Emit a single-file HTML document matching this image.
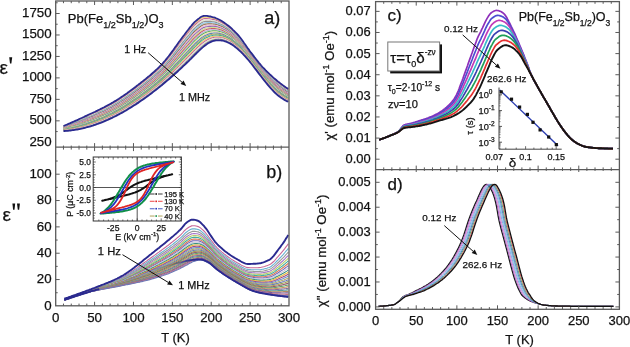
<!DOCTYPE html><html><head><meta charset="utf-8"><style>html,body{margin:0;padding:0;background:#fff;overflow:hidden}text{stroke:#111;stroke-width:0.25px}svg{display:block;will-change:transform;filter:blur(0.3px);font-family:"Liberation Sans",sans-serif}</style></head><body><svg width="630" height="347" viewBox="0 0 630 347" font-family="Liberation Sans, sans-serif"><rect width="630" height="347" fill="#fff"/><path d="M63.5 126.2L64.6 125.8L65.8 125.3L66.9 124.9L68.0 124.4L69.1 123.9L70.3 123.4L71.4 123.0L72.5 122.5L73.7 122.0L74.8 121.5L75.9 121.0L77.1 120.5L78.2 120.0L79.3 119.5L80.4 119.0L81.6 118.5L82.7 118.0L83.8 117.5L85.0 117.0L86.1 116.4L87.2 115.9L88.4 115.4L89.5 114.9L90.6 114.4L91.7 113.9L92.9 113.3L94.0 112.8L95.1 112.3L96.3 111.8L97.4 111.2L98.5 110.7L99.6 110.1L100.8 109.6L101.9 109.0L103.0 108.5L104.2 107.9L105.3 107.3L106.4 106.7L107.6 106.1L108.7 105.5L109.8 104.9L110.9 104.3L112.1 103.7L113.2 103.0L114.3 102.3L115.5 101.7L116.6 101.0L117.7 100.3L118.9 99.6L120.0 98.8L121.1 98.1L122.2 97.3L123.4 96.6L124.5 95.8L125.6 95.0L126.8 94.2L127.9 93.4L129.0 92.6L130.1 91.7L131.3 90.9L132.4 90.1L133.5 89.2L134.7 88.4L135.8 87.5L136.9 86.6L138.1 85.8L139.2 84.9L140.3 84.0L141.4 83.1L142.6 82.3L143.7 81.4L144.8 80.5L146.0 79.6L147.1 78.7L148.2 77.7L149.4 76.8L150.5 75.9L151.6 74.9L152.7 73.9L153.9 72.9L155.0 71.9L156.1 70.9L157.3 69.8L158.4 68.8L159.5 67.6L160.6 66.5L161.8 65.3L162.9 64.1L164.0 62.8L165.2 61.5L166.3 60.2L167.4 58.8L168.6 57.4L169.7 56.0L170.8 54.6L171.9 53.1L173.1 51.5L174.2 50.0L175.3 48.4L176.5 46.8L177.6 45.2L178.7 43.7L179.9 42.1L181.0 40.6L182.1 39.1L183.2 37.6L184.4 36.1L185.5 34.7L186.6 33.2L187.8 31.8L188.9 30.4L190.0 28.9L191.2 27.5L192.3 26.1L193.4 24.8L194.5 23.7L195.7 22.7L196.8 21.7L197.9 20.8L199.1 19.9L200.2 19.1L201.3 18.3L202.4 17.8L203.6 17.4L204.7 17.2L205.8 17.2L207.0 17.3L208.1 17.4L209.2 17.6L210.4 17.8L211.5 18.0L212.6 18.2L213.7 18.5L214.9 18.8L216.0 19.2L217.1 19.7L218.3 20.2L219.4 20.8L220.5 21.3L221.7 22.0L222.8 22.6L223.9 23.4L225.0 24.1L226.2 24.9L227.3 25.8L228.4 26.6L229.6 27.6L230.7 28.5L231.8 29.5L232.9 30.5L234.1 31.6L235.2 32.7L236.3 33.9L237.5 35.1L238.6 36.3L239.7 37.7L240.9 39.1L242.0 40.6L243.1 42.2L244.2 43.7L245.4 45.3L246.5 47.0L247.6 48.6L248.8 50.1L249.9 51.7L251.0 53.2L252.2 54.6L253.3 56.1L254.4 57.6L255.5 59.0L256.7 60.5L257.8 61.9L258.9 63.3L260.1 64.7L261.2 66.0L262.3 67.3L263.4 68.6L264.6 69.8L265.7 70.9L266.8 72.1L268.0 73.2L269.1 74.3L270.2 75.4L271.4 76.4L272.5 77.5L273.6 78.5L274.7 79.4L275.9 80.4L277.0 81.3L278.1 82.2L279.3 83.1L280.4 84.0L281.5 84.9L282.7 85.7L283.8 86.5L284.9 87.3L286.0 88.1L287.2 88.9L288.3 89.6" fill="none" stroke="#f0d070" stroke-width="1.15"/><path d="M63.5 126.5L64.6 126.0L65.8 125.6L66.9 125.2L68.0 124.7L69.1 124.3L70.3 123.8L71.4 123.3L72.5 122.9L73.7 122.4L74.8 121.9L75.9 121.5L77.1 121.0L78.2 120.5L79.3 120.0L80.4 119.5L81.6 119.0L82.7 118.5L83.8 118.0L85.0 117.5L86.1 117.0L87.2 116.5L88.4 116.0L89.5 115.5L90.6 115.0L91.7 114.5L92.9 113.9L94.0 113.4L95.1 112.9L96.3 112.4L97.4 111.9L98.5 111.3L99.6 110.8L100.8 110.2L101.9 109.7L103.0 109.1L104.2 108.6L105.3 108.0L106.4 107.4L107.6 106.8L108.7 106.2L109.8 105.6L110.9 105.0L112.1 104.4L113.2 103.7L114.3 103.1L115.5 102.4L116.6 101.7L117.7 101.0L118.9 100.3L120.0 99.6L121.1 98.8L122.2 98.1L123.4 97.3L124.5 96.6L125.6 95.8L126.8 95.0L127.9 94.2L129.0 93.4L130.1 92.5L131.3 91.7L132.4 90.9L133.5 90.0L134.7 89.2L135.8 88.3L136.9 87.5L138.1 86.6L139.2 85.8L140.3 84.9L141.4 84.0L142.6 83.1L143.7 82.3L144.8 81.4L146.0 80.5L147.1 79.6L148.2 78.6L149.4 77.7L150.5 76.8L151.6 75.8L152.7 74.8L153.9 73.9L155.0 72.9L156.1 71.8L157.3 70.8L158.4 69.7L159.5 68.6L160.6 67.5L161.8 66.3L162.9 65.1L164.0 63.9L165.2 62.6L166.3 61.3L167.4 59.9L168.6 58.5L169.7 57.1L170.8 55.7L171.9 54.3L173.1 52.7L174.2 51.2L175.3 49.6L176.5 48.1L177.6 46.5L178.7 45.0L179.9 43.5L181.0 42.0L182.1 40.5L183.2 39.0L184.4 37.6L185.5 36.1L186.6 34.7L187.8 33.3L188.9 31.9L190.0 30.5L191.2 29.1L192.3 27.7L193.4 26.4L194.5 25.2L195.7 24.2L196.8 23.3L197.9 22.4L199.1 21.4L200.2 20.6L201.3 19.9L202.4 19.3L203.6 18.8L204.7 18.6L205.8 18.6L207.0 18.6L208.1 18.7L209.2 18.8L210.4 19.0L211.5 19.2L212.6 19.4L213.7 19.6L214.9 19.9L216.0 20.3L217.1 20.7L218.3 21.2L219.4 21.7L220.5 22.3L221.7 22.9L222.8 23.5L223.9 24.2L225.0 25.0L226.2 25.8L227.3 26.6L228.4 27.4L229.6 28.3L230.7 29.3L231.8 30.3L232.9 31.3L234.1 32.3L235.2 33.4L236.3 34.6L237.5 35.8L238.6 37.0L239.7 38.3L240.9 39.8L242.0 41.2L243.1 42.8L244.2 44.3L245.4 45.9L246.5 47.5L247.6 49.1L248.8 50.7L249.9 52.2L251.0 53.7L252.2 55.1L253.3 56.6L254.4 58.1L255.5 59.5L256.7 61.0L257.8 62.4L258.9 63.8L260.1 65.2L261.2 66.5L262.3 67.8L263.4 69.1L264.6 70.3L265.7 71.5L266.8 72.7L268.0 73.8L269.1 74.9L270.2 76.0L271.4 77.1L272.5 78.1L273.6 79.1L274.7 80.1L275.9 81.1L277.0 82.0L278.1 82.9L279.3 83.8L280.4 84.7L281.5 85.5L282.7 86.4L283.8 87.2L284.9 88.0L286.0 88.8L287.2 89.5L288.3 90.2" fill="none" stroke="#c86898" stroke-width="1.15"/><path d="M63.5 126.7L64.6 126.3L65.8 125.9L66.9 125.5L68.0 125.0L69.1 124.6L70.3 124.2L71.4 123.7L72.5 123.3L73.7 122.8L74.8 122.4L75.9 121.9L77.1 121.4L78.2 121.0L79.3 120.5L80.4 120.0L81.6 119.5L82.7 119.0L83.8 118.5L85.0 118.1L86.1 117.6L87.2 117.1L88.4 116.6L89.5 116.1L90.6 115.6L91.7 115.1L92.9 114.6L94.0 114.0L95.1 113.5L96.3 113.0L97.4 112.5L98.5 112.0L99.6 111.4L100.8 110.9L101.9 110.4L103.0 109.8L104.2 109.2L105.3 108.7L106.4 108.1L107.6 107.5L108.7 106.9L109.8 106.3L110.9 105.7L112.1 105.1L113.2 104.4L114.3 103.8L115.5 103.1L116.6 102.4L117.7 101.7L118.9 101.0L120.0 100.3L121.1 99.6L122.2 98.8L123.4 98.1L124.5 97.3L125.6 96.6L126.8 95.8L127.9 95.0L129.0 94.2L130.1 93.4L131.3 92.5L132.4 91.7L133.5 90.9L134.7 90.0L135.8 89.2L136.9 88.3L138.1 87.5L139.2 86.6L140.3 85.8L141.4 84.9L142.6 84.0L143.7 83.1L144.8 82.2L146.0 81.4L147.1 80.5L148.2 79.5L149.4 78.6L150.5 77.7L151.6 76.7L152.7 75.8L153.9 74.8L155.0 73.8L156.1 72.8L157.3 71.7L158.4 70.7L159.5 69.6L160.6 68.5L161.8 67.3L162.9 66.1L164.0 64.9L165.2 63.6L166.3 62.3L167.4 61.0L168.6 59.6L169.7 58.3L170.8 56.9L171.9 55.4L173.1 53.9L174.2 52.4L175.3 50.9L176.5 49.3L177.6 47.8L178.7 46.3L179.9 44.9L181.0 43.4L182.1 41.9L183.2 40.5L184.4 39.0L185.5 37.6L186.6 36.2L187.8 34.8L188.9 33.4L190.0 32.0L191.2 30.6L192.3 29.3L193.4 28.0L194.5 26.8L195.7 25.8L196.8 24.9L197.9 23.9L199.1 23.0L200.2 22.1L201.3 21.4L202.4 20.7L203.6 20.3L204.7 20.1L205.8 20.0L207.0 20.0L208.1 20.0L209.2 20.1L210.4 20.2L211.5 20.3L212.6 20.5L213.7 20.7L214.9 21.0L216.0 21.3L217.1 21.7L218.3 22.2L219.4 22.7L220.5 23.2L221.7 23.8L222.8 24.4L223.9 25.1L225.0 25.8L226.2 26.6L227.3 27.4L228.4 28.2L229.6 29.1L230.7 30.0L231.8 31.0L232.9 32.0L234.1 33.1L235.2 34.2L236.3 35.3L237.5 36.5L238.6 37.7L239.7 39.0L240.9 40.4L242.0 41.9L243.1 43.4L244.2 44.9L245.4 46.5L246.5 48.1L247.6 49.6L248.8 51.2L249.9 52.7L251.0 54.2L252.2 55.6L253.3 57.1L254.4 58.6L255.5 60.0L256.7 61.5L257.8 62.9L258.9 64.3L260.1 65.7L261.2 67.1L262.3 68.4L263.4 69.7L264.6 70.9L265.7 72.1L266.8 73.3L268.0 74.4L269.1 75.5L270.2 76.6L271.4 77.7L272.5 78.7L273.6 79.7L274.7 80.7L275.9 81.7L277.0 82.7L278.1 83.6L279.3 84.5L280.4 85.4L281.5 86.2L282.7 87.0L283.8 87.8L284.9 88.6L286.0 89.4L287.2 90.1L288.3 90.8" fill="none" stroke="#e0e4d0" stroke-width="1.15"/><path d="M63.5 127.0L64.6 126.6L65.8 126.2L66.9 125.8L68.0 125.3L69.1 124.9L70.3 124.5L71.4 124.1L72.5 123.6L73.7 123.2L74.8 122.8L75.9 122.3L77.1 121.9L78.2 121.4L79.3 121.0L80.4 120.5L81.6 120.0L82.7 119.6L83.8 119.1L85.0 118.6L86.1 118.1L87.2 117.6L88.4 117.1L89.5 116.7L90.6 116.2L91.7 115.7L92.9 115.2L94.0 114.7L95.1 114.2L96.3 113.7L97.4 113.1L98.5 112.6L99.6 112.1L100.8 111.6L101.9 111.0L103.0 110.5L104.2 109.9L105.3 109.4L106.4 108.8L107.6 108.2L108.7 107.6L109.8 107.0L110.9 106.4L112.1 105.8L113.2 105.2L114.3 104.5L115.5 103.8L116.6 103.2L117.7 102.5L118.9 101.8L120.0 101.1L121.1 100.3L122.2 99.6L123.4 98.9L124.5 98.1L125.6 97.3L126.8 96.6L127.9 95.8L129.0 95.0L130.1 94.2L131.3 93.4L132.4 92.5L133.5 91.7L134.7 90.9L135.8 90.0L136.9 89.2L138.1 88.3L139.2 87.5L140.3 86.6L141.4 85.8L142.6 84.9L143.7 84.0L144.8 83.1L146.0 82.2L147.1 81.3L148.2 80.4L149.4 79.5L150.5 78.6L151.6 77.6L152.7 76.7L153.9 75.7L155.0 74.7L156.1 73.7L157.3 72.7L158.4 71.6L159.5 70.6L160.6 69.5L161.8 68.3L162.9 67.1L164.0 65.9L165.2 64.7L166.3 63.4L167.4 62.1L168.6 60.7L169.7 59.4L170.8 58.0L171.9 56.6L173.1 55.1L174.2 53.6L175.3 52.1L176.5 50.6L177.6 49.1L178.7 47.7L179.9 46.2L181.0 44.8L182.1 43.3L183.2 41.9L184.4 40.5L185.5 39.1L186.6 37.7L187.8 36.3L188.9 35.0L190.0 33.6L191.2 32.2L192.3 30.8L193.4 29.6L194.5 28.4L195.7 27.4L196.8 26.4L197.9 25.5L199.1 24.5L200.2 23.7L201.3 22.9L202.4 22.2L203.6 21.8L204.7 21.5L205.8 21.4L207.0 21.3L208.1 21.3L209.2 21.3L210.4 21.4L211.5 21.5L212.6 21.7L213.7 21.8L214.9 22.1L216.0 22.4L217.1 22.8L218.3 23.2L219.4 23.7L220.5 24.2L221.7 24.7L222.8 25.3L223.9 26.0L225.0 26.7L226.2 27.5L227.3 28.2L228.4 29.1L229.6 29.9L230.7 30.8L231.8 31.8L232.9 32.8L234.1 33.8L235.2 34.9L236.3 36.0L237.5 37.2L238.6 38.4L239.7 39.7L240.9 41.0L242.0 42.5L243.1 44.0L244.2 45.5L245.4 47.0L246.5 48.6L247.6 50.2L248.8 51.7L249.9 53.2L251.0 54.7L252.2 56.1L253.3 57.6L254.4 59.1L255.5 60.5L256.7 62.0L257.8 63.4L258.9 64.8L260.1 66.2L261.2 67.6L262.3 68.9L263.4 70.2L264.6 71.4L265.7 72.7L266.8 73.8L268.0 75.0L269.1 76.1L270.2 77.2L271.4 78.3L272.5 79.4L273.6 80.4L274.7 81.4L275.9 82.4L277.0 83.3L278.1 84.2L279.3 85.1L280.4 86.0L281.5 86.9L282.7 87.7L283.8 88.5L284.9 89.3L286.0 90.0L287.2 90.7L288.3 91.4" fill="none" stroke="#909090" stroke-width="1.15"/><path d="M63.5 127.2L64.6 126.8L65.8 126.4L66.9 126.1L68.0 125.7L69.1 125.3L70.3 124.9L71.4 124.4L72.5 124.0L73.7 123.6L74.8 123.2L75.9 122.8L77.1 122.3L78.2 121.9L79.3 121.4L80.4 121.0L81.6 120.5L82.7 120.1L83.8 119.6L85.0 119.1L86.1 118.7L87.2 118.2L88.4 117.7L89.5 117.2L90.6 116.8L91.7 116.3L92.9 115.8L94.0 115.3L95.1 114.8L96.3 114.3L97.4 113.8L98.5 113.3L99.6 112.7L100.8 112.2L101.9 111.7L103.0 111.1L104.2 110.6L105.3 110.0L106.4 109.5L107.6 108.9L108.7 108.3L109.8 107.7L110.9 107.1L112.1 106.5L113.2 105.9L114.3 105.2L115.5 104.6L116.6 103.9L117.7 103.2L118.9 102.5L120.0 101.8L121.1 101.1L122.2 100.4L123.4 99.6L124.5 98.9L125.6 98.1L126.8 97.3L127.9 96.6L129.0 95.8L130.1 95.0L131.3 94.2L132.4 93.4L133.5 92.5L134.7 91.7L135.8 90.9L136.9 90.0L138.1 89.2L139.2 88.3L140.3 87.5L141.4 86.6L142.6 85.8L143.7 84.9L144.8 84.0L146.0 83.1L147.1 82.2L148.2 81.3L149.4 80.4L150.5 79.5L151.6 78.6L152.7 77.6L153.9 76.6L155.0 75.7L156.1 74.6L157.3 73.6L158.4 72.6L159.5 71.5L160.6 70.4L161.8 69.3L162.9 68.1L164.0 66.9L165.2 65.7L166.3 64.4L167.4 63.1L168.6 61.8L169.7 60.5L170.8 59.2L171.9 57.8L173.1 56.3L174.2 54.9L175.3 53.4L176.5 51.9L177.6 50.5L178.7 49.0L179.9 47.6L181.0 46.2L182.1 44.7L183.2 43.3L184.4 41.9L185.5 40.5L186.6 39.2L187.8 37.8L188.9 36.5L190.0 35.1L191.2 33.7L192.3 32.4L193.4 31.1L194.5 30.0L195.7 28.9L196.8 28.0L197.9 27.0L199.1 26.1L200.2 25.2L201.3 24.4L202.4 23.7L203.6 23.2L204.7 22.9L205.8 22.8L207.0 22.6L208.1 22.6L209.2 22.6L210.4 22.6L211.5 22.7L212.6 22.8L213.7 22.9L214.9 23.2L216.0 23.5L217.1 23.8L218.3 24.2L219.4 24.7L220.5 25.1L221.7 25.7L222.8 26.2L223.9 26.9L225.0 27.6L226.2 28.3L227.3 29.1L228.4 29.9L229.6 30.7L230.7 31.6L231.8 32.5L232.9 33.5L234.1 34.5L235.2 35.6L236.3 36.7L237.5 37.8L238.6 39.0L239.7 40.3L240.9 41.7L242.0 43.1L243.1 44.6L244.2 46.1L245.4 47.6L246.5 49.1L247.6 50.7L248.8 52.2L249.9 53.7L251.0 55.2L252.2 56.6L253.3 58.1L254.4 59.6L255.5 61.0L256.7 62.5L257.8 63.9L258.9 65.3L260.1 66.7L261.2 68.1L262.3 69.4L263.4 70.7L264.6 72.0L265.7 73.2L266.8 74.4L268.0 75.6L269.1 76.7L270.2 77.9L271.4 78.9L272.5 80.0L273.6 81.0L274.7 82.0L275.9 83.0L277.0 84.0L278.1 84.9L279.3 85.8L280.4 86.7L281.5 87.5L282.7 88.3L283.8 89.1L284.9 89.9L286.0 90.6L287.2 91.4L288.3 92.1" fill="none" stroke="#90c8e8" stroke-width="1.15"/><path d="M63.5 127.4L64.6 127.1L65.8 126.7L66.9 126.4L68.0 126.0L69.1 125.6L70.3 125.2L71.4 124.8L72.5 124.4L73.7 124.0L74.8 123.6L75.9 123.2L77.1 122.8L78.2 122.4L79.3 121.9L80.4 121.5L81.6 121.0L82.7 120.6L83.8 120.1L85.0 119.7L86.1 119.2L87.2 118.8L88.4 118.3L89.5 117.8L90.6 117.4L91.7 116.9L92.9 116.4L94.0 115.9L95.1 115.4L96.3 114.9L97.4 114.4L98.5 113.9L99.6 113.4L100.8 112.9L101.9 112.4L103.0 111.8L104.2 111.3L105.3 110.7L106.4 110.2L107.6 109.6L108.7 109.0L109.8 108.4L110.9 107.8L112.1 107.2L113.2 106.6L114.3 105.9L115.5 105.3L116.6 104.6L117.7 104.0L118.9 103.3L120.0 102.6L121.1 101.9L122.2 101.1L123.4 100.4L124.5 99.7L125.6 98.9L126.8 98.1L127.9 97.4L129.0 96.6L130.1 95.8L131.3 95.0L132.4 94.2L133.5 93.4L134.7 92.5L135.8 91.7L136.9 90.9L138.1 90.0L139.2 89.2L140.3 88.3L141.4 87.5L142.6 86.6L143.7 85.8L144.8 84.9L146.0 84.0L147.1 83.1L148.2 82.2L149.4 81.3L150.5 80.4L151.6 79.5L152.7 78.5L153.9 77.6L155.0 76.6L156.1 75.6L157.3 74.6L158.4 73.5L159.5 72.5L160.6 71.4L161.8 70.3L162.9 69.1L164.0 68.0L165.2 66.7L166.3 65.5L167.4 64.2L168.6 62.9L169.7 61.6L170.8 60.3L171.9 58.9L173.1 57.5L174.2 56.1L175.3 54.7L176.5 53.2L177.6 51.8L178.7 50.4L179.9 49.0L181.0 47.6L182.1 46.2L183.2 44.8L184.4 43.4L185.5 42.0L186.6 40.7L187.8 39.3L188.9 38.0L190.0 36.6L191.2 35.3L192.3 34.0L193.4 32.7L194.5 31.5L195.7 30.5L196.8 29.5L197.9 28.6L199.1 27.6L200.2 26.7L201.3 25.9L202.4 25.2L203.6 24.7L204.7 24.3L205.8 24.1L207.0 24.0L208.1 23.9L209.2 23.8L210.4 23.8L211.5 23.9L212.6 24.0L213.7 24.1L214.9 24.3L216.0 24.5L217.1 24.8L218.3 25.2L219.4 25.6L220.5 26.1L221.7 26.6L222.8 27.1L223.9 27.8L225.0 28.4L226.2 29.1L227.3 29.9L228.4 30.7L229.6 31.5L230.7 32.4L231.8 33.3L232.9 34.2L234.1 35.2L235.2 36.3L236.3 37.4L237.5 38.5L238.6 39.7L239.7 41.0L240.9 42.3L242.0 43.7L243.1 45.2L244.2 46.6L245.4 48.2L246.5 49.7L247.6 51.2L248.8 52.7L249.9 54.2L251.0 55.7L252.2 57.2L253.3 58.6L254.4 60.1L255.5 61.5L256.7 63.0L257.8 64.4L258.9 65.9L260.1 67.3L261.2 68.6L262.3 70.0L263.4 71.3L264.6 72.6L265.7 73.8L266.8 75.0L268.0 76.2L269.1 77.3L270.2 78.5L271.4 79.6L272.5 80.6L273.6 81.7L274.7 82.7L275.9 83.7L277.0 84.6L278.1 85.6L279.3 86.5L280.4 87.3L281.5 88.2L282.7 89.0L283.8 89.8L284.9 90.5L286.0 91.3L287.2 92.0L288.3 92.7" fill="none" stroke="#907050" stroke-width="1.15"/><path d="M63.5 127.7L64.6 127.4L65.8 127.0L66.9 126.7L68.0 126.3L69.1 125.9L70.3 125.6L71.4 125.2L72.5 124.8L73.7 124.4L74.8 124.0L75.9 123.6L77.1 123.2L78.2 122.8L79.3 122.4L80.4 122.0L81.6 121.5L82.7 121.1L83.8 120.7L85.0 120.2L86.1 119.8L87.2 119.3L88.4 118.9L89.5 118.4L90.6 117.9L91.7 117.5L92.9 117.0L94.0 116.5L95.1 116.0L96.3 115.6L97.4 115.1L98.5 114.6L99.6 114.1L100.8 113.5L101.9 113.0L103.0 112.5L104.2 111.9L105.3 111.4L106.4 110.8L107.6 110.3L108.7 109.7L109.8 109.1L110.9 108.5L112.1 107.9L113.2 107.3L114.3 106.7L115.5 106.0L116.6 105.4L117.7 104.7L118.9 104.0L120.0 103.3L121.1 102.6L122.2 101.9L123.4 101.2L124.5 100.4L125.6 99.7L126.8 98.9L127.9 98.2L129.0 97.4L130.1 96.6L131.3 95.8L132.4 95.0L133.5 94.2L134.7 93.4L135.8 92.6L136.9 91.7L138.1 90.9L139.2 90.1L140.3 89.2L141.4 88.4L142.6 87.5L143.7 86.7L144.8 85.8L146.0 84.9L147.1 84.0L148.2 83.1L149.4 82.2L150.5 81.3L151.6 80.4L152.7 79.4L153.9 78.5L155.0 77.5L156.1 76.5L157.3 75.5L158.4 74.5L159.5 73.5L160.6 72.4L161.8 71.3L162.9 70.1L164.0 69.0L165.2 67.8L166.3 66.6L167.4 65.3L168.6 64.0L169.7 62.8L170.8 61.5L171.9 60.1L173.1 58.7L174.2 57.3L175.3 55.9L176.5 54.5L177.6 53.1L178.7 51.7L179.9 50.3L181.0 48.9L182.1 47.6L183.2 46.2L184.4 44.8L185.5 43.5L186.6 42.2L187.8 40.8L188.9 39.5L190.0 38.2L191.2 36.8L192.3 35.5L193.4 34.3L194.5 33.1L195.7 32.1L196.8 31.1L197.9 30.1L199.1 29.1L200.2 28.2L201.3 27.4L202.4 26.7L203.6 26.1L204.7 25.8L205.8 25.5L207.0 25.3L208.1 25.2L209.2 25.1L210.4 25.1L211.5 25.1L212.6 25.1L213.7 25.2L214.9 25.3L216.0 25.6L217.1 25.9L218.3 26.2L219.4 26.6L220.5 27.0L221.7 27.5L222.8 28.1L223.9 28.6L225.0 29.3L226.2 30.0L227.3 30.7L228.4 31.5L229.6 32.3L230.7 33.1L231.8 34.0L232.9 35.0L234.1 36.0L235.2 37.0L236.3 38.1L237.5 39.2L238.6 40.4L239.7 41.6L240.9 42.9L242.0 44.3L243.1 45.8L244.2 47.2L245.4 48.7L246.5 50.2L247.6 51.8L248.8 53.3L249.9 54.8L251.0 56.2L252.2 57.7L253.3 59.1L254.4 60.6L255.5 62.0L256.7 63.5L257.8 64.9L258.9 66.4L260.1 67.8L261.2 69.2L262.3 70.5L263.4 71.8L264.6 73.1L265.7 74.4L266.8 75.6L268.0 76.8L269.1 77.9L270.2 79.1L271.4 80.2L272.5 81.3L273.6 82.3L274.7 83.4L275.9 84.3L277.0 85.3L278.1 86.2L279.3 87.1L280.4 88.0L281.5 88.8L282.7 89.7L283.8 90.4L284.9 91.2L286.0 91.9L287.2 92.6L288.3 93.3" fill="none" stroke="#f0b8d0" stroke-width="1.15"/><path d="M63.5 127.9L64.6 127.6L65.8 127.3L66.9 127.0L68.0 126.6L69.1 126.3L70.3 125.9L71.4 125.6L72.5 125.2L73.7 124.8L74.8 124.5L75.9 124.1L77.1 123.7L78.2 123.3L79.3 122.9L80.4 122.5L81.6 122.1L82.7 121.6L83.8 121.2L85.0 120.8L86.1 120.3L87.2 119.9L88.4 119.4L89.5 119.0L90.6 118.5L91.7 118.1L92.9 117.6L94.0 117.1L95.1 116.7L96.3 116.2L97.4 115.7L98.5 115.2L99.6 114.7L100.8 114.2L101.9 113.7L103.0 113.2L104.2 112.6L105.3 112.1L106.4 111.5L107.6 111.0L108.7 110.4L109.8 109.8L110.9 109.2L112.1 108.6L113.2 108.0L114.3 107.4L115.5 106.8L116.6 106.1L117.7 105.4L118.9 104.8L120.0 104.1L121.1 103.4L122.2 102.7L123.4 101.9L124.5 101.2L125.6 100.5L126.8 99.7L127.9 99.0L129.0 98.2L130.1 97.4L131.3 96.6L132.4 95.8L133.5 95.0L134.7 94.2L135.8 93.4L136.9 92.6L138.1 91.8L139.2 90.9L140.3 90.1L141.4 89.2L142.6 88.4L143.7 87.5L144.8 86.7L146.0 85.8L147.1 84.9L148.2 84.0L149.4 83.1L150.5 82.2L151.6 81.3L152.7 80.4L153.9 79.4L155.0 78.4L156.1 77.5L157.3 76.5L158.4 75.5L159.5 74.4L160.6 73.4L161.8 72.3L162.9 71.2L164.0 70.0L165.2 68.8L166.3 67.6L167.4 66.4L168.6 65.1L169.7 63.9L170.8 62.6L171.9 61.3L173.1 59.9L174.2 58.6L175.3 57.2L176.5 55.8L177.6 54.4L178.7 53.0L179.9 51.7L181.0 50.3L182.1 49.0L183.2 47.6L184.4 46.3L185.5 45.0L186.6 43.6L187.8 42.3L188.9 41.0L190.0 39.7L191.2 38.4L192.3 37.1L193.4 35.9L194.5 34.7L195.7 33.6L196.8 32.6L197.9 31.7L199.1 30.7L200.2 29.8L201.3 28.9L202.4 28.2L203.6 27.6L204.7 27.2L205.8 26.9L207.0 26.7L208.1 26.5L209.2 26.4L210.4 26.3L211.5 26.3L212.6 26.3L213.7 26.3L214.9 26.4L216.0 26.6L217.1 26.9L218.3 27.2L219.4 27.6L220.5 28.0L221.7 28.4L222.8 29.0L223.9 29.5L225.0 30.1L226.2 30.8L227.3 31.5L228.4 32.3L229.6 33.1L230.7 33.9L231.8 34.8L232.9 35.7L234.1 36.7L235.2 37.7L236.3 38.8L237.5 39.9L238.6 41.1L239.7 42.3L240.9 43.6L242.0 45.0L243.1 46.4L244.2 47.8L245.4 49.3L246.5 50.8L247.6 52.3L248.8 53.8L249.9 55.3L251.0 56.7L252.2 58.2L253.3 59.6L254.4 61.1L255.5 62.6L256.7 64.0L257.8 65.5L258.9 66.9L260.1 68.3L261.2 69.7L262.3 71.1L263.4 72.4L264.6 73.7L265.7 74.9L266.8 76.2L268.0 77.4L269.1 78.6L270.2 79.7L271.4 80.8L272.5 81.9L273.6 83.0L274.7 84.0L275.9 85.0L277.0 86.0L278.1 86.9L279.3 87.8L280.4 88.7L281.5 89.5L282.7 90.3L283.8 91.1L284.9 91.8L286.0 92.5L287.2 93.2L288.3 93.9" fill="none" stroke="#9068b8" stroke-width="1.15"/><path d="M63.5 128.2L64.6 127.9L65.8 127.6L66.9 127.3L68.0 126.9L69.1 126.6L70.3 126.3L71.4 125.9L72.5 125.6L73.7 125.2L74.8 124.9L75.9 124.5L77.1 124.1L78.2 123.7L79.3 123.4L80.4 123.0L81.6 122.6L82.7 122.2L83.8 121.7L85.0 121.3L86.1 120.9L87.2 120.5L88.4 120.0L89.5 119.6L90.6 119.1L91.7 118.7L92.9 118.2L94.0 117.8L95.1 117.3L96.3 116.8L97.4 116.3L98.5 115.9L99.6 115.4L100.8 114.9L101.9 114.3L103.0 113.8L104.2 113.3L105.3 112.8L106.4 112.2L107.6 111.7L108.7 111.1L109.8 110.5L110.9 109.9L112.1 109.3L113.2 108.7L114.3 108.1L115.5 107.5L116.6 106.8L117.7 106.2L118.9 105.5L120.0 104.8L121.1 104.1L122.2 103.4L123.4 102.7L124.5 102.0L125.6 101.3L126.8 100.5L127.9 99.8L129.0 99.0L130.1 98.2L131.3 97.4L132.4 96.7L133.5 95.9L134.7 95.1L135.8 94.2L136.9 93.4L138.1 92.6L139.2 91.8L140.3 90.9L141.4 90.1L142.6 89.3L143.7 88.4L144.8 87.6L146.0 86.7L147.1 85.8L148.2 84.9L149.4 84.0L150.5 83.1L151.6 82.2L152.7 81.3L153.9 80.3L155.0 79.4L156.1 78.4L157.3 77.4L158.4 76.4L159.5 75.4L160.6 74.3L161.8 73.3L162.9 72.2L164.0 71.0L165.2 69.9L166.3 68.7L167.4 67.5L168.6 66.2L169.7 65.0L170.8 63.8L171.9 62.5L173.1 61.1L174.2 59.8L175.3 58.4L176.5 57.1L177.6 55.7L178.7 54.4L179.9 53.0L181.0 51.7L182.1 50.4L183.2 49.1L184.4 47.7L185.5 46.4L186.6 45.1L187.8 43.8L188.9 42.6L190.0 41.2L191.2 39.9L192.3 38.7L193.4 37.4L194.5 36.3L195.7 35.2L196.8 34.2L197.9 33.2L199.1 32.2L200.2 31.3L201.3 30.4L202.4 29.7L203.6 29.1L204.7 28.6L205.8 28.3L207.0 28.0L208.1 27.8L209.2 27.6L210.4 27.5L211.5 27.4L212.6 27.4L213.7 27.4L214.9 27.5L216.0 27.7L217.1 27.9L218.3 28.2L219.4 28.6L220.5 28.9L221.7 29.4L222.8 29.9L223.9 30.4L225.0 31.0L226.2 31.7L227.3 32.3L228.4 33.1L229.6 33.8L230.7 34.7L231.8 35.5L232.9 36.5L234.1 37.4L235.2 38.4L236.3 39.5L237.5 40.6L238.6 41.7L239.7 42.9L240.9 44.2L242.0 45.6L243.1 47.0L244.2 48.4L245.4 49.9L246.5 51.3L247.6 52.8L248.8 54.3L249.9 55.8L251.0 57.2L252.2 58.7L253.3 60.1L254.4 61.6L255.5 63.1L256.7 64.5L257.8 66.0L258.9 67.4L260.1 68.8L261.2 70.2L262.3 71.6L263.4 72.9L264.6 74.2L265.7 75.5L266.8 76.7L268.0 78.0L269.1 79.2L270.2 80.3L271.4 81.5L272.5 82.6L273.6 83.6L274.7 84.7L275.9 85.7L277.0 86.6L278.1 87.6L279.3 88.5L280.4 89.3L281.5 90.2L282.7 91.0L283.8 91.7L284.9 92.5L286.0 93.2L287.2 93.9L288.3 94.5" fill="none" stroke="#d0e098" stroke-width="1.15"/><path d="M63.5 128.4L64.6 128.1L65.8 127.9L66.9 127.6L68.0 127.3L69.1 126.9L70.3 126.6L71.4 126.3L72.5 126.0L73.7 125.6L74.8 125.3L75.9 124.9L77.1 124.6L78.2 124.2L79.3 123.8L80.4 123.5L81.6 123.1L82.7 122.7L83.8 122.3L85.0 121.9L86.1 121.4L87.2 121.0L88.4 120.6L89.5 120.2L90.6 119.7L91.7 119.3L92.9 118.8L94.0 118.4L95.1 117.9L96.3 117.5L97.4 117.0L98.5 116.5L99.6 116.0L100.8 115.5L101.9 115.0L103.0 114.5L104.2 114.0L105.3 113.4L106.4 112.9L107.6 112.4L108.7 111.8L109.8 111.2L110.9 110.6L112.1 110.0L113.2 109.4L114.3 108.8L115.5 108.2L116.6 107.6L117.7 106.9L118.9 106.3L120.0 105.6L121.1 104.9L122.2 104.2L123.4 103.5L124.5 102.8L125.6 102.0L126.8 101.3L127.9 100.6L129.0 99.8L130.1 99.0L131.3 98.3L132.4 97.5L133.5 96.7L134.7 95.9L135.8 95.1L136.9 94.3L138.1 93.5L139.2 92.6L140.3 91.8L141.4 91.0L142.6 90.1L143.7 89.3L144.8 88.4L146.0 87.6L147.1 86.7L148.2 85.8L149.4 84.9L150.5 84.0L151.6 83.1L152.7 82.2L153.9 81.3L155.0 80.3L156.1 79.3L157.3 78.4L158.4 77.4L159.5 76.4L160.6 75.3L161.8 74.3L162.9 73.2L164.0 72.0L165.2 70.9L166.3 69.7L167.4 68.6L168.6 67.3L169.7 66.1L170.8 64.9L171.9 63.6L173.1 62.3L174.2 61.0L175.3 59.7L176.5 58.3L177.6 57.0L178.7 55.7L179.9 54.4L181.0 53.1L182.1 51.8L183.2 50.5L184.4 49.2L185.5 47.9L186.6 46.6L187.8 45.4L188.9 44.1L190.0 42.8L191.2 41.5L192.3 40.2L193.4 39.0L194.5 37.8L195.7 36.8L196.8 35.8L197.9 34.7L199.1 33.8L200.2 32.8L201.3 31.9L202.4 31.2L203.6 30.5L204.7 30.0L205.8 29.7L207.0 29.3L208.1 29.1L209.2 28.9L210.4 28.7L211.5 28.6L212.6 28.6L213.7 28.6L214.9 28.6L216.0 28.8L217.1 29.0L218.3 29.2L219.4 29.5L220.5 29.9L221.7 30.3L222.8 30.8L223.9 31.3L225.0 31.9L226.2 32.5L227.3 33.2L228.4 33.9L229.6 34.6L230.7 35.4L231.8 36.3L232.9 37.2L234.1 38.1L235.2 39.1L236.3 40.2L237.5 41.3L238.6 42.4L239.7 43.6L240.9 44.9L242.0 46.2L243.1 47.6L244.2 49.0L245.4 50.4L246.5 51.9L247.6 53.3L248.8 54.8L249.9 56.3L251.0 57.7L252.2 59.2L253.3 60.6L254.4 62.1L255.5 63.6L256.7 65.0L257.8 66.5L258.9 67.9L260.1 69.3L261.2 70.8L262.3 72.1L263.4 73.5L264.6 74.8L265.7 76.1L266.8 77.3L268.0 78.6L269.1 79.8L270.2 80.9L271.4 82.1L272.5 83.2L273.6 84.3L274.7 85.3L275.9 86.3L277.0 87.3L278.1 88.2L279.3 89.1L280.4 90.0L281.5 90.8L282.7 91.6L283.8 92.4L284.9 93.1L286.0 93.8L287.2 94.5L288.3 95.1" fill="none" stroke="#c86060" stroke-width="1.15"/><path d="M63.5 128.7L64.6 128.4L65.8 128.1L66.9 127.9L68.0 127.6L69.1 127.3L70.3 127.0L71.4 126.7L72.5 126.4L73.7 126.0L74.8 125.7L75.9 125.4L77.1 125.0L78.2 124.7L79.3 124.3L80.4 123.9L81.6 123.6L82.7 123.2L83.8 122.8L85.0 122.4L86.1 122.0L87.2 121.6L88.4 121.2L89.5 120.8L90.6 120.3L91.7 119.9L92.9 119.5L94.0 119.0L95.1 118.6L96.3 118.1L97.4 117.6L98.5 117.2L99.6 116.7L100.8 116.2L101.9 115.7L103.0 115.2L104.2 114.7L105.3 114.1L106.4 113.6L107.6 113.0L108.7 112.5L109.8 111.9L110.9 111.3L112.1 110.8L113.2 110.2L114.3 109.6L115.5 108.9L116.6 108.3L117.7 107.7L118.9 107.0L120.0 106.3L121.1 105.6L122.2 105.0L123.4 104.3L124.5 103.5L125.6 102.8L126.8 102.1L127.9 101.3L129.0 100.6L130.1 99.8L131.3 99.1L132.4 98.3L133.5 97.5L134.7 96.7L135.8 95.9L136.9 95.1L138.1 94.3L139.2 93.5L140.3 92.7L141.4 91.8L142.6 91.0L143.7 90.2L144.8 89.3L146.0 88.5L147.1 87.6L148.2 86.7L149.4 85.8L150.5 84.9L151.6 84.0L152.7 83.1L153.9 82.2L155.0 81.2L156.1 80.3L157.3 79.3L158.4 78.3L159.5 77.3L160.6 76.3L161.8 75.2L162.9 74.2L164.0 73.1L165.2 71.9L166.3 70.8L167.4 69.6L168.6 68.5L169.7 67.3L170.8 66.0L171.9 64.8L173.1 63.5L174.2 62.2L175.3 60.9L176.5 59.6L177.6 58.3L178.7 57.1L179.9 55.8L181.0 54.5L182.1 53.2L183.2 51.9L184.4 50.6L185.5 49.4L186.6 48.1L187.8 46.9L188.9 45.6L190.0 44.3L191.2 43.0L192.3 41.8L193.4 40.6L194.5 39.4L195.7 38.3L196.8 37.3L197.9 36.3L199.1 35.3L200.2 34.3L201.3 33.5L202.4 32.7L203.6 32.0L204.7 31.5L205.8 31.0L207.0 30.7L208.1 30.4L209.2 30.1L210.4 29.9L211.5 29.8L212.6 29.7L213.7 29.7L214.9 29.7L216.0 29.8L217.1 30.0L218.3 30.2L219.4 30.5L220.5 30.8L221.7 31.2L222.8 31.7L223.9 32.2L225.0 32.7L226.2 33.3L227.3 34.0L228.4 34.7L229.6 35.4L230.7 36.2L231.8 37.1L232.9 37.9L234.1 38.9L235.2 39.9L236.3 40.9L237.5 42.0L238.6 43.1L239.7 44.3L240.9 45.5L242.0 46.8L243.1 48.2L244.2 49.6L245.4 51.0L246.5 52.4L247.6 53.9L248.8 55.3L249.9 56.8L251.0 58.2L252.2 59.7L253.3 61.1L254.4 62.6L255.5 64.1L256.7 65.5L257.8 67.0L258.9 68.4L260.1 69.9L261.2 71.3L262.3 72.7L263.4 74.0L264.6 75.3L265.7 76.6L266.8 77.9L268.0 79.2L269.1 80.4L270.2 81.6L271.4 82.7L272.5 83.8L273.6 84.9L274.7 86.0L275.9 87.0L277.0 88.0L278.1 88.9L279.3 89.8L280.4 90.7L281.5 91.5L282.7 92.3L283.8 93.0L284.9 93.8L286.0 94.4L287.2 95.1L288.3 95.7" fill="none" stroke="#c0b0e0" stroke-width="1.15"/><path d="M63.5 128.9L64.6 128.7L65.8 128.4L66.9 128.2L68.0 127.9L69.1 127.6L70.3 127.3L71.4 127.0L72.5 126.8L73.7 126.4L74.8 126.1L75.9 125.8L77.1 125.5L78.2 125.1L79.3 124.8L80.4 124.4L81.6 124.1L82.7 123.7L83.8 123.3L85.0 122.9L86.1 122.6L87.2 122.2L88.4 121.7L89.5 121.3L90.6 120.9L91.7 120.5L92.9 120.1L94.0 119.6L95.1 119.2L96.3 118.7L97.4 118.3L98.5 117.8L99.6 117.3L100.8 116.8L101.9 116.3L103.0 115.8L104.2 115.3L105.3 114.8L106.4 114.3L107.6 113.7L108.7 113.2L109.8 112.6L110.9 112.1L112.1 111.5L113.2 110.9L114.3 110.3L115.5 109.7L116.6 109.0L117.7 108.4L118.9 107.7L120.0 107.1L121.1 106.4L122.2 105.7L123.4 105.0L124.5 104.3L125.6 103.6L126.8 102.9L127.9 102.1L129.0 101.4L130.1 100.7L131.3 99.9L132.4 99.1L133.5 98.3L134.7 97.6L135.8 96.8L136.9 96.0L138.1 95.2L139.2 94.4L140.3 93.5L141.4 92.7L142.6 91.9L143.7 91.1L144.8 90.2L146.0 89.4L147.1 88.5L148.2 87.6L149.4 86.7L150.5 85.9L151.6 85.0L152.7 84.0L153.9 83.1L155.0 82.2L156.1 81.2L157.3 80.3L158.4 79.3L159.5 78.3L160.6 77.3L161.8 76.2L162.9 75.2L164.0 74.1L165.2 73.0L166.3 71.9L167.4 70.7L168.6 69.6L169.7 68.4L170.8 67.2L171.9 66.0L173.1 64.7L174.2 63.5L175.3 62.2L176.5 60.9L177.6 59.6L178.7 58.4L179.9 57.1L181.0 55.9L182.1 54.6L183.2 53.3L184.4 52.1L185.5 50.8L186.6 49.6L187.8 48.4L188.9 47.1L190.0 45.8L191.2 44.6L192.3 43.3L193.4 42.1L194.5 41.0L195.7 39.9L196.8 38.9L197.9 37.8L199.1 36.8L200.2 35.9L201.3 35.0L202.4 34.2L203.6 33.5L204.7 32.9L205.8 32.4L207.0 32.0L208.1 31.7L209.2 31.4L210.4 31.2L211.5 31.0L212.6 30.9L213.7 30.8L214.9 30.8L216.0 30.9L217.1 31.0L218.3 31.2L219.4 31.5L220.5 31.8L221.7 32.2L222.8 32.6L223.9 33.1L225.0 33.6L226.2 34.2L227.3 34.8L228.4 35.5L229.6 36.2L230.7 37.0L231.8 37.8L232.9 38.7L234.1 39.6L235.2 40.6L236.3 41.6L237.5 42.6L238.6 43.7L239.7 44.9L240.9 46.1L242.0 47.4L243.1 48.8L244.2 50.1L245.4 51.5L246.5 53.0L247.6 54.4L248.8 55.9L249.9 57.3L251.0 58.7L252.2 60.2L253.3 61.6L254.4 63.1L255.5 64.6L256.7 66.0L257.8 67.5L258.9 69.0L260.1 70.4L261.2 71.8L262.3 73.2L263.4 74.6L264.6 75.9L265.7 77.2L266.8 78.5L268.0 79.8L269.1 81.0L270.2 82.2L271.4 83.3L272.5 84.5L273.6 85.6L274.7 86.6L275.9 87.6L277.0 88.6L278.1 89.6L279.3 90.5L280.4 91.3L281.5 92.1L282.7 92.9L283.8 93.7L284.9 94.4L286.0 95.1L287.2 95.7L288.3 96.3" fill="none" stroke="#60b060" stroke-width="1.15"/><path d="M63.5 129.1L64.6 128.9L65.8 128.7L66.9 128.5L68.0 128.2L69.1 128.0L70.3 127.7L71.4 127.4L72.5 127.1L73.7 126.9L74.8 126.6L75.9 126.2L77.1 125.9L78.2 125.6L79.3 125.3L80.4 124.9L81.6 124.6L82.7 124.2L83.8 123.9L85.0 123.5L86.1 123.1L87.2 122.7L88.4 122.3L89.5 121.9L90.6 121.5L91.7 121.1L92.9 120.7L94.0 120.2L95.1 119.8L96.3 119.4L97.4 118.9L98.5 118.4L99.6 118.0L100.8 117.5L101.9 117.0L103.0 116.5L104.2 116.0L105.3 115.5L106.4 115.0L107.6 114.4L108.7 113.9L109.8 113.3L110.9 112.8L112.1 112.2L113.2 111.6L114.3 111.0L115.5 110.4L116.6 109.8L117.7 109.1L118.9 108.5L120.0 107.8L121.1 107.2L122.2 106.5L123.4 105.8L124.5 105.1L125.6 104.4L126.8 103.7L127.9 102.9L129.0 102.2L130.1 101.5L131.3 100.7L132.4 99.9L133.5 99.2L134.7 98.4L135.8 97.6L136.9 96.8L138.1 96.0L139.2 95.2L140.3 94.4L141.4 93.6L142.6 92.8L143.7 91.9L144.8 91.1L146.0 90.2L147.1 89.4L148.2 88.5L149.4 87.7L150.5 86.8L151.6 85.9L152.7 85.0L153.9 84.0L155.0 83.1L156.1 82.2L157.3 81.2L158.4 80.2L159.5 79.3L160.6 78.3L161.8 77.2L162.9 76.2L164.0 75.1L165.2 74.0L166.3 72.9L167.4 71.8L168.6 70.7L169.7 69.5L170.8 68.3L171.9 67.1L173.1 65.9L174.2 64.7L175.3 63.5L176.5 62.2L177.6 61.0L178.7 59.7L179.9 58.5L181.0 57.3L182.1 56.0L183.2 54.8L184.4 53.5L185.5 52.3L186.6 51.1L187.8 49.9L188.9 48.6L190.0 47.4L191.2 46.1L192.3 44.9L193.4 43.7L194.5 42.6L195.7 41.5L196.8 40.4L197.9 39.4L199.1 38.4L200.2 37.4L201.3 36.5L202.4 35.6L203.6 34.9L204.7 34.3L205.8 33.8L207.0 33.4L208.1 33.0L209.2 32.6L210.4 32.4L211.5 32.2L212.6 32.0L213.7 31.9L214.9 31.9L216.0 31.9L217.1 32.1L218.3 32.2L219.4 32.5L220.5 32.7L221.7 33.1L222.8 33.5L223.9 33.9L225.0 34.5L226.2 35.0L227.3 35.6L228.4 36.3L229.6 37.0L230.7 37.8L231.8 38.6L232.9 39.4L234.1 40.3L235.2 41.3L236.3 42.3L237.5 43.3L238.6 44.4L239.7 45.6L240.9 46.8L242.0 48.1L243.1 49.4L244.2 50.7L245.4 52.1L246.5 53.5L247.6 54.9L248.8 56.4L249.9 57.8L251.0 59.3L252.2 60.7L253.3 62.2L254.4 63.6L255.5 65.1L256.7 66.5L257.8 68.0L258.9 69.5L260.1 70.9L261.2 72.3L262.3 73.7L263.4 75.1L264.6 76.5L265.7 77.8L266.8 79.1L268.0 80.3L269.1 81.6L270.2 82.8L271.4 84.0L272.5 85.1L273.6 86.2L274.7 87.3L275.9 88.3L277.0 89.3L278.1 90.2L279.3 91.1L280.4 92.0L281.5 92.8L282.7 93.6L283.8 94.3L284.9 95.0L286.0 95.7L287.2 96.3L288.3 96.9" fill="none" stroke="#f0e0a8" stroke-width="1.15"/><path d="M63.5 129.4L64.6 129.2L65.8 129.0L66.9 128.8L68.0 128.5L69.1 128.3L70.3 128.0L71.4 127.8L72.5 127.5L73.7 127.3L74.8 127.0L75.9 126.7L77.1 126.4L78.2 126.1L79.3 125.8L80.4 125.4L81.6 125.1L82.7 124.7L83.8 124.4L85.0 124.0L86.1 123.7L87.2 123.3L88.4 122.9L89.5 122.5L90.6 122.1L91.7 121.7L92.9 121.3L94.0 120.9L95.1 120.4L96.3 120.0L97.4 119.6L98.5 119.1L99.6 118.6L100.8 118.2L101.9 117.7L103.0 117.2L104.2 116.7L105.3 116.2L106.4 115.6L107.6 115.1L108.7 114.6L109.8 114.0L110.9 113.5L112.1 112.9L113.2 112.3L114.3 111.7L115.5 111.1L116.6 110.5L117.7 109.9L118.9 109.2L120.0 108.6L121.1 107.9L122.2 107.2L123.4 106.6L124.5 105.9L125.6 105.2L126.8 104.5L127.9 103.7L129.0 103.0L130.1 102.3L131.3 101.5L132.4 100.8L133.5 100.0L134.7 99.2L135.8 98.5L136.9 97.7L138.1 96.9L139.2 96.1L140.3 95.3L141.4 94.5L142.6 93.6L143.7 92.8L144.8 92.0L146.0 91.1L147.1 90.3L148.2 89.4L149.4 88.6L150.5 87.7L151.6 86.8L152.7 85.9L153.9 85.0L155.0 84.0L156.1 83.1L157.3 82.2L158.4 81.2L159.5 80.2L160.6 79.2L161.8 78.2L162.9 77.2L164.0 76.1L165.2 75.1L166.3 74.0L167.4 72.9L168.6 71.8L169.7 70.6L170.8 69.5L171.9 68.3L173.1 67.1L174.2 65.9L175.3 64.7L176.5 63.5L177.6 62.3L178.7 61.1L179.9 59.9L181.0 58.6L182.1 57.4L183.2 56.2L184.4 55.0L185.5 53.8L186.6 52.6L187.8 51.4L188.9 50.1L190.0 48.9L191.2 47.7L192.3 46.5L193.4 45.3L194.5 44.1L195.7 43.0L196.8 42.0L197.9 40.9L199.1 39.9L200.2 38.9L201.3 38.0L202.4 37.1L203.6 36.4L204.7 35.7L205.8 35.2L207.0 34.7L208.1 34.3L209.2 33.9L210.4 33.6L211.5 33.4L212.6 33.2L213.7 33.0L214.9 33.0L216.0 33.0L217.1 33.1L218.3 33.2L219.4 33.4L220.5 33.7L221.7 34.0L222.8 34.4L223.9 34.8L225.0 35.3L226.2 35.9L227.3 36.4L228.4 37.1L229.6 37.8L230.7 38.5L231.8 39.3L232.9 40.2L234.1 41.1L235.2 42.0L236.3 43.0L237.5 44.0L238.6 45.1L239.7 46.2L240.9 47.4L242.0 48.7L243.1 50.0L244.2 51.3L245.4 52.7L246.5 54.1L247.6 55.5L248.8 56.9L249.9 58.3L251.0 59.8L252.2 61.2L253.3 62.7L254.4 64.1L255.5 65.6L256.7 67.1L257.8 68.5L258.9 70.0L260.1 71.4L261.2 72.9L262.3 74.3L263.4 75.7L264.6 77.0L265.7 78.3L266.8 79.7L268.0 80.9L269.1 82.2L270.2 83.4L271.4 84.6L272.5 85.7L273.6 86.9L274.7 87.9L275.9 89.0L277.0 90.0L278.1 90.9L279.3 91.8L280.4 92.6L281.5 93.5L282.7 94.2L283.8 95.0L284.9 95.7L286.0 96.3L287.2 97.0L288.3 97.6" fill="none" stroke="#6080c0" stroke-width="1.15"/><path d="M63.5 129.6L64.6 129.4L65.8 129.3L66.9 129.1L68.0 128.8L69.1 128.6L70.3 128.4L71.4 128.2L72.5 127.9L73.7 127.7L74.8 127.4L75.9 127.1L77.1 126.8L78.2 126.5L79.3 126.2L80.4 125.9L81.6 125.6L82.7 125.3L83.8 124.9L85.0 124.6L86.1 124.2L87.2 123.9L88.4 123.5L89.5 123.1L90.6 122.7L91.7 122.3L92.9 121.9L94.0 121.5L95.1 121.1L96.3 120.6L97.4 120.2L98.5 119.7L99.6 119.3L100.8 118.8L101.9 118.3L103.0 117.9L104.2 117.4L105.3 116.8L106.4 116.3L107.6 115.8L108.7 115.3L109.8 114.7L110.9 114.2L112.1 113.6L113.2 113.0L114.3 112.4L115.5 111.8L116.6 111.2L117.7 110.6L118.9 110.0L120.0 109.3L121.1 108.7L122.2 108.0L123.4 107.3L124.5 106.6L125.6 106.0L126.8 105.3L127.9 104.5L129.0 103.8L130.1 103.1L131.3 102.3L132.4 101.6L133.5 100.8L134.7 100.1L135.8 99.3L136.9 98.5L138.1 97.7L139.2 96.9L140.3 96.1L141.4 95.3L142.6 94.5L143.7 93.7L144.8 92.9L146.0 92.0L147.1 91.2L148.2 90.3L149.4 89.5L150.5 88.6L151.6 87.7L152.7 86.8L153.9 85.9L155.0 85.0L156.1 84.0L157.3 83.1L158.4 82.2L159.5 81.2L160.6 80.2L161.8 79.2L162.9 78.2L164.0 77.2L165.2 76.1L166.3 75.0L167.4 74.0L168.6 72.9L169.7 71.8L170.8 70.6L171.9 69.5L173.1 68.3L174.2 67.2L175.3 66.0L176.5 64.8L177.6 63.6L178.7 62.4L179.9 61.2L181.0 60.0L182.1 58.8L183.2 57.6L184.4 56.4L185.5 55.2L186.6 54.1L187.8 52.9L188.9 51.7L190.0 50.5L191.2 49.2L192.3 48.0L193.4 46.9L194.5 45.7L195.7 44.6L196.8 43.5L197.9 42.5L199.1 41.5L200.2 40.5L201.3 39.5L202.4 38.6L203.6 37.8L204.7 37.2L205.8 36.6L207.0 36.0L208.1 35.6L209.2 35.2L210.4 34.8L211.5 34.5L212.6 34.3L213.7 34.2L214.9 34.1L216.0 34.1L217.1 34.1L218.3 34.2L219.4 34.4L220.5 34.6L221.7 34.9L222.8 35.3L223.9 35.7L225.0 36.2L226.2 36.7L227.3 37.3L228.4 37.9L229.6 38.6L230.7 39.3L231.8 40.1L232.9 40.9L234.1 41.8L235.2 42.7L236.3 43.7L237.5 44.7L238.6 45.8L239.7 46.9L240.9 48.1L242.0 49.3L243.1 50.6L244.2 51.9L245.4 53.2L246.5 54.6L247.6 56.0L248.8 57.4L249.9 58.8L251.0 60.3L252.2 61.7L253.3 63.2L254.4 64.6L255.5 66.1L256.7 67.6L257.8 69.0L258.9 70.5L260.1 71.9L261.2 73.4L262.3 74.8L263.4 76.2L264.6 77.6L265.7 78.9L266.8 80.2L268.0 81.5L269.1 82.8L270.2 84.0L271.4 85.2L272.5 86.4L273.6 87.5L274.7 88.6L275.9 89.6L277.0 90.6L278.1 91.6L279.3 92.5L280.4 93.3L281.5 94.1L282.7 94.9L283.8 95.6L284.9 96.3L286.0 97.0L287.2 97.6L288.3 98.2" fill="none" stroke="#b0b060" stroke-width="1.15"/><path d="M63.5 129.9L64.6 129.7L65.8 129.5L66.9 129.4L68.0 129.2L69.1 129.0L70.3 128.8L71.4 128.5L72.5 128.3L73.7 128.1L74.8 127.8L75.9 127.6L77.1 127.3L78.2 127.0L79.3 126.7L80.4 126.4L81.6 126.1L82.7 125.8L83.8 125.5L85.0 125.1L86.1 124.8L87.2 124.4L88.4 124.1L89.5 123.7L90.6 123.3L91.7 122.9L92.9 122.5L94.0 122.1L95.1 121.7L96.3 121.3L97.4 120.8L98.5 120.4L99.6 119.9L100.8 119.5L101.9 119.0L103.0 118.5L104.2 118.0L105.3 117.5L106.4 117.0L107.6 116.5L108.7 116.0L109.8 115.4L110.9 114.9L112.1 114.3L113.2 113.7L114.3 113.2L115.5 112.6L116.6 112.0L117.7 111.3L118.9 110.7L120.0 110.1L121.1 109.4L122.2 108.8L123.4 108.1L124.5 107.4L125.6 106.7L126.8 106.0L127.9 105.3L129.0 104.6L130.1 103.9L131.3 103.2L132.4 102.4L133.5 101.7L134.7 100.9L135.8 100.1L136.9 99.4L138.1 98.6L139.2 97.8L140.3 97.0L141.4 96.2L142.6 95.4L143.7 94.6L144.8 93.7L146.0 92.9L147.1 92.1L148.2 91.2L149.4 90.4L150.5 89.5L151.6 88.6L152.7 87.7L153.9 86.8L155.0 85.9L156.1 85.0L157.3 84.1L158.4 83.1L159.5 82.2L160.6 81.2L161.8 80.2L162.9 79.2L164.0 78.2L165.2 77.1L166.3 76.1L167.4 75.0L168.6 74.0L169.7 72.9L170.8 71.8L171.9 70.7L173.1 69.5L174.2 68.4L175.3 67.2L176.5 66.1L177.6 64.9L178.7 63.7L179.9 62.6L181.0 61.4L182.1 60.2L183.2 59.1L184.4 57.9L185.5 56.7L186.6 55.5L187.8 54.4L188.9 53.2L190.0 52.0L191.2 50.8L192.3 49.6L193.4 48.4L194.5 47.3L195.7 46.2L196.8 45.1L197.9 44.0L199.1 43.0L200.2 42.0L201.3 41.0L202.4 40.1L203.6 39.3L204.7 38.6L205.8 37.9L207.0 37.4L208.1 36.9L209.2 36.4L210.4 36.0L211.5 35.7L212.6 35.5L213.7 35.3L214.9 35.2L216.0 35.1L217.1 35.2L218.3 35.2L219.4 35.4L220.5 35.6L221.7 35.9L222.8 36.2L223.9 36.6L225.0 37.0L226.2 37.5L227.3 38.1L228.4 38.7L229.6 39.4L230.7 40.1L231.8 40.8L232.9 41.6L234.1 42.5L235.2 43.4L236.3 44.4L237.5 45.4L238.6 46.4L239.7 47.5L240.9 48.7L242.0 49.9L243.1 51.2L244.2 52.5L245.4 53.8L246.5 55.2L247.6 56.5L248.8 57.9L249.9 59.4L251.0 60.8L252.2 62.2L253.3 63.7L254.4 65.1L255.5 66.6L256.7 68.1L257.8 69.5L258.9 71.0L260.1 72.5L261.2 73.9L262.3 75.3L263.4 76.7L264.6 78.1L265.7 79.5L266.8 80.8L268.0 82.1L269.1 83.4L270.2 84.6L271.4 85.9L272.5 87.0L273.6 88.2L274.7 89.2L275.9 90.3L277.0 91.3L278.1 92.2L279.3 93.1L280.4 94.0L281.5 94.8L282.7 95.5L283.8 96.3L284.9 97.0L286.0 97.6L287.2 98.2L288.3 98.8" fill="none" stroke="#40a8a0" stroke-width="1.15"/><path d="M63.5 130.1L64.6 130.0L65.8 129.8L66.9 129.7L68.0 129.5L69.1 129.3L70.3 129.1L71.4 128.9L72.5 128.7L73.7 128.5L74.8 128.2L75.9 128.0L77.1 127.7L78.2 127.5L79.3 127.2L80.4 126.9L81.6 126.6L82.7 126.3L83.8 126.0L85.0 125.7L86.1 125.3L87.2 125.0L88.4 124.6L89.5 124.3L90.6 123.9L91.7 123.5L92.9 123.1L94.0 122.7L95.1 122.3L96.3 121.9L97.4 121.5L98.5 121.0L99.6 120.6L100.8 120.1L101.9 119.7L103.0 119.2L104.2 118.7L105.3 118.2L106.4 117.7L107.6 117.2L108.7 116.7L109.8 116.1L110.9 115.6L112.1 115.0L113.2 114.5L114.3 113.9L115.5 113.3L116.6 112.7L117.7 112.1L118.9 111.5L120.0 110.8L121.1 110.2L122.2 109.5L123.4 108.9L124.5 108.2L125.6 107.5L126.8 106.8L127.9 106.1L129.0 105.4L130.1 104.7L131.3 104.0L132.4 103.2L133.5 102.5L134.7 101.8L135.8 101.0L136.9 100.2L138.1 99.4L139.2 98.7L140.3 97.9L141.4 97.1L142.6 96.3L143.7 95.5L144.8 94.6L146.0 93.8L147.1 93.0L148.2 92.1L149.4 91.3L150.5 90.4L151.6 89.5L152.7 88.6L153.9 87.7L155.0 86.8L156.1 85.9L157.3 85.0L158.4 84.1L159.5 83.1L160.6 82.2L161.8 81.2L162.9 80.2L164.0 79.2L165.2 78.2L166.3 77.2L167.4 76.1L168.6 75.1L169.7 74.0L170.8 72.9L171.9 71.8L173.1 70.7L174.2 69.6L175.3 68.5L176.5 67.4L177.6 66.2L178.7 65.1L179.9 63.9L181.0 62.8L182.1 61.7L183.2 60.5L184.4 59.3L185.5 58.2L186.6 57.0L187.8 55.9L188.9 54.7L190.0 53.5L191.2 52.3L192.3 51.2L193.4 50.0L194.5 48.9L195.7 47.8L196.8 46.7L197.9 45.6L199.1 44.5L200.2 43.5L201.3 42.5L202.4 41.6L203.6 40.8L204.7 40.0L205.8 39.3L207.0 38.7L208.1 38.2L209.2 37.7L210.4 37.3L211.5 36.9L212.6 36.6L213.7 36.4L214.9 36.3L216.0 36.2L217.1 36.2L218.3 36.2L219.4 36.4L220.5 36.5L221.7 36.8L222.8 37.1L223.9 37.5L225.0 37.9L226.2 38.4L227.3 38.9L228.4 39.5L229.6 40.1L230.7 40.8L231.8 41.6L232.9 42.4L234.1 43.2L235.2 44.1L236.3 45.1L237.5 46.1L238.6 47.1L239.7 48.2L240.9 49.3L242.0 50.5L243.1 51.8L244.2 53.0L245.4 54.4L246.5 55.7L247.6 57.1L248.8 58.5L249.9 59.9L251.0 61.3L252.2 62.7L253.3 64.2L254.4 65.6L255.5 67.1L256.7 68.6L257.8 70.1L258.9 71.5L260.1 73.0L261.2 74.4L262.3 75.9L263.4 77.3L264.6 78.7L265.7 80.1L266.8 81.4L268.0 82.7L269.1 84.0L270.2 85.3L271.4 86.5L272.5 87.7L273.6 88.8L274.7 89.9L275.9 90.9L277.0 91.9L278.1 92.9L279.3 93.8L280.4 94.6L281.5 95.4L282.7 96.2L283.8 96.9L284.9 97.6L286.0 98.2L287.2 98.8L288.3 99.4" fill="none" stroke="#f0d070" stroke-width="1.15"/><path d="M63.5 130.3L64.6 130.2L65.8 130.1L66.9 130.0L68.0 129.8L69.1 129.6L70.3 129.5L71.4 129.3L72.5 129.1L73.7 128.9L74.8 128.7L75.9 128.4L77.1 128.2L78.2 127.9L79.3 127.7L80.4 127.4L81.6 127.1L82.7 126.8L83.8 126.5L85.0 126.2L86.1 125.9L87.2 125.5L88.4 125.2L89.5 124.9L90.6 124.5L91.7 124.1L92.9 123.7L94.0 123.3L95.1 122.9L96.3 122.5L97.4 122.1L98.5 121.7L99.6 121.2L100.8 120.8L101.9 120.3L103.0 119.9L104.2 119.4L105.3 118.9L106.4 118.4L107.6 117.9L108.7 117.4L109.8 116.8L110.9 116.3L112.1 115.7L113.2 115.2L114.3 114.6L115.5 114.0L116.6 113.4L117.7 112.8L118.9 112.2L120.0 111.6L121.1 110.9L122.2 110.3L123.4 109.6L124.5 109.0L125.6 108.3L126.8 107.6L127.9 106.9L129.0 106.2L130.1 105.5L131.3 104.8L132.4 104.1L133.5 103.3L134.7 102.6L135.8 101.8L136.9 101.1L138.1 100.3L139.2 99.5L140.3 98.7L141.4 97.9L142.6 97.1L143.7 96.3L144.8 95.5L146.0 94.7L147.1 93.9L148.2 93.0L149.4 92.2L150.5 91.3L151.6 90.4L152.7 89.6L153.9 88.7L155.0 87.8L156.1 86.9L157.3 86.0L158.4 85.0L159.5 84.1L160.6 83.1L161.8 82.2L162.9 81.2L164.0 80.2L165.2 79.2L166.3 78.2L167.4 77.2L168.6 76.2L169.7 75.1L170.8 74.1L171.9 73.0L173.1 71.9L174.2 70.8L175.3 69.7L176.5 68.6L177.6 67.5L178.7 66.4L179.9 65.3L181.0 64.2L182.1 63.1L183.2 61.9L184.4 60.8L185.5 59.7L186.6 58.5L187.8 57.4L188.9 56.2L190.0 55.1L191.2 53.9L192.3 52.7L193.4 51.6L194.5 50.4L195.7 49.3L196.8 48.2L197.9 47.1L199.1 46.1L200.2 45.0L201.3 44.0L202.4 43.1L203.6 42.2L204.7 41.4L205.8 40.7L207.0 40.1L208.1 39.5L209.2 38.9L210.4 38.5L211.5 38.1L212.6 37.8L213.7 37.5L214.9 37.3L216.0 37.2L217.1 37.2L218.3 37.2L219.4 37.3L220.5 37.5L221.7 37.7L222.8 38.0L223.9 38.3L225.0 38.8L226.2 39.2L227.3 39.7L228.4 40.3L229.6 40.9L230.7 41.6L231.8 42.3L232.9 43.1L234.1 44.0L235.2 44.8L236.3 45.8L237.5 46.7L238.6 47.8L239.7 48.8L240.9 50.0L242.0 51.2L243.1 52.4L244.2 53.6L245.4 54.9L246.5 56.2L247.6 57.6L248.8 59.0L249.9 60.4L251.0 61.8L252.2 63.2L253.3 64.7L254.4 66.1L255.5 67.6L256.7 69.1L257.8 70.6L258.9 72.0L260.1 73.5L261.2 75.0L262.3 76.4L263.4 77.8L264.6 79.2L265.7 80.6L266.8 82.0L268.0 83.3L269.1 84.6L270.2 85.9L271.4 87.1L272.5 88.3L273.6 89.4L274.7 90.6L275.9 91.6L277.0 92.6L278.1 93.6L279.3 94.5L280.4 95.3L281.5 96.1L282.7 96.9L283.8 97.6L284.9 98.2L286.0 98.9L287.2 99.4L288.3 100.0" fill="none" stroke="#c86898" stroke-width="1.15"/><path d="M63.5 130.6L64.6 130.5L65.8 130.4L66.9 130.3L68.0 130.1L69.1 130.0L70.3 129.8L71.4 129.6L72.5 129.5L73.7 129.3L74.8 129.1L75.9 128.9L77.1 128.6L78.2 128.4L79.3 128.1L80.4 127.9L81.6 127.6L82.7 127.3L83.8 127.1L85.0 126.7L86.1 126.4L87.2 126.1L88.4 125.8L89.5 125.4L90.6 125.1L91.7 124.7L92.9 124.4L94.0 124.0L95.1 123.6L96.3 123.2L97.4 122.8L98.5 122.3L99.6 121.9L100.8 121.5L101.9 121.0L103.0 120.5L104.2 120.1L105.3 119.6L106.4 119.1L107.6 118.6L108.7 118.1L109.8 117.5L110.9 117.0L112.1 116.4L113.2 115.9L114.3 115.3L115.5 114.7L116.6 114.2L117.7 113.6L118.9 112.9L120.0 112.3L121.1 111.7L122.2 111.1L123.4 110.4L124.5 109.8L125.6 109.1L126.8 108.4L127.9 107.7L129.0 107.0L130.1 106.3L131.3 105.6L132.4 104.9L133.5 104.2L134.7 103.4L135.8 102.7L136.9 101.9L138.1 101.2L139.2 100.4L140.3 99.6L141.4 98.8L142.6 98.0L143.7 97.2L144.8 96.4L146.0 95.6L147.1 94.8L148.2 93.9L149.4 93.1L150.5 92.2L151.6 91.4L152.7 90.5L153.9 89.6L155.0 88.7L156.1 87.8L157.3 86.9L158.4 86.0L159.5 85.1L160.6 84.1L161.8 83.2L162.9 82.2L164.0 81.2L165.2 80.3L166.3 79.3L167.4 78.3L168.6 77.3L169.7 76.2L170.8 75.2L171.9 74.2L173.1 73.1L174.2 72.1L175.3 71.0L176.5 69.9L177.6 68.8L178.7 67.8L179.9 66.7L181.0 65.6L182.1 64.5L183.2 63.4L184.4 62.2L185.5 61.1L186.6 60.0L187.8 58.9L188.9 57.7L190.0 56.6L191.2 55.5L192.3 54.3L193.4 53.2L194.5 52.0L195.7 50.9L196.8 49.8L197.9 48.7L199.1 47.6L200.2 46.6L201.3 45.6L202.4 44.6L203.6 43.7L204.7 42.9L205.8 42.1L207.0 41.4L208.1 40.8L209.2 40.2L210.4 39.7L211.5 39.3L212.6 38.9L213.7 38.6L214.9 38.4L216.0 38.3L217.1 38.2L218.3 38.2L219.4 38.3L220.5 38.4L221.7 38.6L222.8 38.9L223.9 39.2L225.0 39.6L226.2 40.1L227.3 40.6L228.4 41.1L229.6 41.7L230.7 42.4L231.8 43.1L232.9 43.9L234.1 44.7L235.2 45.6L236.3 46.5L237.5 47.4L238.6 48.4L239.7 49.5L240.9 50.6L242.0 51.8L243.1 53.0L244.2 54.2L245.4 55.5L246.5 56.8L247.6 58.1L248.8 59.5L249.9 60.9L251.0 62.3L252.2 63.7L253.3 65.2L254.4 66.6L255.5 68.1L256.7 69.6L257.8 71.1L258.9 72.6L260.1 74.0L261.2 75.5L262.3 76.9L263.4 78.4L264.6 79.8L265.7 81.2L266.8 82.6L268.0 83.9L269.1 85.2L270.2 86.5L271.4 87.7L272.5 88.9L273.6 90.1L274.7 91.2L275.9 92.3L277.0 93.3L278.1 94.2L279.3 95.1L280.4 96.0L281.5 96.8L282.7 97.5L283.8 98.2L284.9 98.9L286.0 99.5L287.2 100.1L288.3 100.6" fill="none" stroke="#e0e4d0" stroke-width="1.15"/><path d="M63.5 130.8L64.6 130.8L65.8 130.7L66.9 130.6L68.0 130.4L69.1 130.3L70.3 130.2L71.4 130.0L72.5 129.9L73.7 129.7L74.8 129.5L75.9 129.3L77.1 129.1L78.2 128.9L79.3 128.6L80.4 128.4L81.6 128.1L82.7 127.9L83.8 127.6L85.0 127.3L86.1 127.0L87.2 126.7L88.4 126.4L89.5 126.0L90.6 125.7L91.7 125.3L92.9 125.0L94.0 124.6L95.1 124.2L96.3 123.8L97.4 123.4L98.5 123.0L99.6 122.6L100.8 122.1L101.9 121.7L103.0 121.2L104.2 120.7L105.3 120.3L106.4 119.8L107.6 119.3L108.7 118.7L109.8 118.2L110.9 117.7L112.1 117.2L113.2 116.6L114.3 116.0L115.5 115.5L116.6 114.9L117.7 114.3L118.9 113.7L120.0 113.1L121.1 112.5L122.2 111.8L123.4 111.2L124.5 110.5L125.6 109.9L126.8 109.2L127.9 108.5L129.0 107.8L130.1 107.1L131.3 106.4L132.4 105.7L133.5 105.0L134.7 104.3L135.8 103.5L136.9 102.8L138.1 102.0L139.2 101.2L140.3 100.5L141.4 99.7L142.6 98.9L143.7 98.1L144.8 97.3L146.0 96.5L147.1 95.6L148.2 94.8L149.4 94.0L150.5 93.1L151.6 92.3L152.7 91.4L153.9 90.5L155.0 89.6L156.1 88.7L157.3 87.9L158.4 86.9L159.5 86.0L160.6 85.1L161.8 84.2L162.9 83.2L164.0 82.3L165.2 81.3L166.3 80.3L167.4 79.4L168.6 78.4L169.7 77.4L170.8 76.4L171.9 75.4L173.1 74.3L174.2 73.3L175.3 72.3L176.5 71.2L177.6 70.2L178.7 69.1L179.9 68.0L181.0 67.0L182.1 65.9L183.2 64.8L184.4 63.7L185.5 62.6L186.6 61.5L187.8 60.4L188.9 59.3L190.0 58.1L191.2 57.0L192.3 55.9L193.4 54.7L194.5 53.6L195.7 52.5L196.8 51.3L197.9 50.2L199.1 49.1L200.2 48.1L201.3 47.1L202.4 46.1L203.6 45.2L204.7 44.3L205.8 43.5L207.0 42.7L208.1 42.0L209.2 41.4L210.4 40.9L211.5 40.5L212.6 40.1L213.7 39.8L214.9 39.5L216.0 39.4L217.1 39.3L218.3 39.2L219.4 39.3L220.5 39.4L221.7 39.6L222.8 39.8L223.9 40.1L225.0 40.5L226.2 40.9L227.3 41.4L228.4 41.9L229.6 42.5L230.7 43.1L231.8 43.8L232.9 44.6L234.1 45.4L235.2 46.3L236.3 47.2L237.5 48.1L238.6 49.1L239.7 50.2L240.9 51.3L242.0 52.4L243.1 53.6L244.2 54.8L245.4 56.0L246.5 57.3L247.6 58.7L248.8 60.0L249.9 61.4L251.0 62.8L252.2 64.2L253.3 65.7L254.4 67.1L255.5 68.6L256.7 70.1L257.8 71.6L258.9 73.1L260.1 74.5L261.2 76.0L262.3 77.5L263.4 78.9L264.6 80.4L265.7 81.8L266.8 83.1L268.0 84.5L269.1 85.8L270.2 87.1L271.4 88.4L272.5 89.6L273.6 90.7L274.7 91.9L275.9 92.9L277.0 93.9L278.1 94.9L279.3 95.8L280.4 96.6L281.5 97.4L282.7 98.2L283.8 98.9L284.9 99.5L286.0 100.1L287.2 100.7L288.3 101.2" fill="none" stroke="#909090" stroke-width="1.15"/><path d="M63.5 126.0L64.6 125.5L65.8 125.0L66.9 124.6L68.0 124.1L69.1 123.6L70.3 123.1L71.4 122.6L72.5 122.1L73.7 121.6L74.8 121.1L75.9 120.6L77.1 120.1L78.2 119.6L79.3 119.0L80.4 118.5L81.6 118.0L82.7 117.5L83.8 117.0L85.0 116.4L86.1 115.9L87.2 115.4L88.4 114.8L89.5 114.3L90.6 113.8L91.7 113.3L92.9 112.7L94.0 112.2L95.1 111.7L96.3 111.1L97.4 110.6L98.5 110.0L99.6 109.5L100.8 108.9L101.9 108.4L103.0 107.8L104.2 107.2L105.3 106.6L106.4 106.0L107.6 105.4L108.7 104.8L109.8 104.2L110.9 103.6L112.1 102.9L113.2 102.3L114.3 101.6L115.5 100.9L116.6 100.2L117.7 99.5L118.9 98.8L120.0 98.1L121.1 97.3L122.2 96.6L123.4 95.8L124.5 95.0L125.6 94.2L126.8 93.4L127.9 92.6L129.0 91.8L130.1 90.9L131.3 90.1L132.4 89.2L133.5 88.4L134.7 87.5L135.8 86.7L136.9 85.8L138.1 84.9L139.2 84.0L140.3 83.2L141.4 82.3L142.6 81.4L143.7 80.5L144.8 79.6L146.0 78.7L147.1 77.8L148.2 76.8L149.4 75.9L150.5 75.0L151.6 74.0L152.7 73.0L153.9 72.0L155.0 71.0L156.1 69.9L157.3 68.9L158.4 67.8L159.5 66.7L160.6 65.5L161.8 64.3L162.9 63.1L164.0 61.8L165.2 60.5L166.3 59.1L167.4 57.7L168.6 56.3L169.7 54.9L170.8 53.4L171.9 51.9L173.1 50.3L174.2 48.7L175.3 47.1L176.5 45.5L177.6 43.9L178.7 42.3L179.9 40.8L181.0 39.2L182.1 37.7L183.2 36.2L184.4 34.7L185.5 33.2L186.6 31.7L187.8 30.3L188.9 28.9L190.0 27.4L191.2 26.0L192.3 24.6L193.4 23.3L194.5 22.1L195.7 21.1L196.8 20.2L197.9 19.3L199.1 18.4L200.2 17.5L201.3 16.8L202.4 16.3L203.6 15.9L204.7 15.8L205.8 15.8L207.0 15.9L208.1 16.1L209.2 16.3L210.4 16.5L211.5 16.8L212.6 17.1L213.7 17.3L214.9 17.7L216.0 18.2L217.1 18.7L218.3 19.2L219.4 19.8L220.5 20.4L221.7 21.0L222.8 21.7L223.9 22.5L225.0 23.3L226.2 24.1L227.3 25.0L228.4 25.8L229.6 26.8L230.7 27.7L231.8 28.7L232.9 29.8L234.1 30.9L235.2 32.0L236.3 33.2L237.5 34.4L238.6 35.7L239.7 37.0L240.9 38.5L242.0 40.0L243.1 41.6L244.2 43.2L245.4 44.8L246.5 46.4L247.6 48.0L248.8 49.6L249.9 51.2L251.0 52.7L252.2 54.1L253.3 55.6L254.4 57.1L255.5 58.5L256.7 60.0L257.8 61.4L258.9 62.8L260.1 64.1L261.2 65.5L262.3 66.8L263.4 68.0L264.6 69.2L265.7 70.4L266.8 71.5L268.0 72.6L269.1 73.7L270.2 74.8L271.4 75.8L272.5 76.8L273.6 77.8L274.7 78.8L275.9 79.7L277.0 80.7L278.1 81.6L279.3 82.5L280.4 83.4L281.5 84.2L282.7 85.1L283.8 85.9L284.9 86.7L286.0 87.5L287.2 88.3L288.3 89.0" fill="none" stroke="#2a2a90" stroke-width="1.8"/><path d="M63.5 131.1L64.6 131.0L65.8 130.9L66.9 130.9L68.0 130.8L69.1 130.6L70.3 130.5L71.4 130.4L72.5 130.2L73.7 130.1L74.8 129.9L75.9 129.7L77.1 129.5L78.2 129.3L79.3 129.1L80.4 128.9L81.6 128.6L82.7 128.4L83.8 128.1L85.0 127.8L86.1 127.5L87.2 127.2L88.4 126.9L89.5 126.6L90.6 126.3L91.7 125.9L92.9 125.6L94.0 125.2L95.1 124.8L96.3 124.4L97.4 124.0L98.5 123.6L99.6 123.2L100.8 122.8L101.9 122.3L103.0 121.9L104.2 121.4L105.3 120.9L106.4 120.4L107.6 120.0L108.7 119.4L109.8 118.9L110.9 118.4L112.1 117.9L113.2 117.3L114.3 116.8L115.5 116.2L116.6 115.6L117.7 115.0L118.9 114.4L120.0 113.8L121.1 113.2L122.2 112.6L123.4 112.0L124.5 111.3L125.6 110.7L126.8 110.0L127.9 109.3L129.0 108.6L130.1 107.9L131.3 107.3L132.4 106.5L133.5 105.8L134.7 105.1L135.8 104.4L136.9 103.6L138.1 102.9L139.2 102.1L140.3 101.3L141.4 100.6L142.6 99.8L143.7 99.0L144.8 98.2L146.0 97.4L147.1 96.5L148.2 95.7L149.4 94.9L150.5 94.0L151.6 93.2L152.7 92.3L153.9 91.4L155.0 90.6L156.1 89.7L157.3 88.8L158.4 87.9L159.5 87.0L160.6 86.1L161.8 85.2L162.9 84.2L164.0 83.3L165.2 82.3L166.3 81.4L167.4 80.4L168.6 79.5L169.7 78.5L170.8 77.5L171.9 76.5L173.1 75.5L174.2 74.5L175.3 73.5L176.5 72.5L177.6 71.5L178.7 70.4L179.9 69.4L181.0 68.3L182.1 67.3L183.2 66.2L184.4 65.1L185.5 64.1L186.6 63.0L187.8 61.9L188.9 60.8L190.0 59.7L191.2 58.6L192.3 57.4L193.4 56.3L194.5 55.2L195.7 54.0L196.8 52.9L197.9 51.8L199.1 50.7L200.2 49.6L201.3 48.6L202.4 47.6L203.6 46.6L204.7 45.7L205.8 44.9L207.0 44.1L208.1 43.3L209.2 42.7L210.4 42.1L211.5 41.6L212.6 41.2L213.7 40.9L214.9 40.6L216.0 40.4L217.1 40.3L218.3 40.3L219.4 40.3L220.5 40.4L221.7 40.5L222.8 40.7L223.9 41.0L225.0 41.3L226.2 41.7L227.3 42.2L228.4 42.7L229.6 43.3L230.7 43.9L231.8 44.6L232.9 45.3L234.1 46.1L235.2 47.0L236.3 47.9L237.5 48.8L238.6 49.8L239.7 50.8L240.9 51.9L242.0 53.0L243.1 54.2L244.2 55.4L245.4 56.6L246.5 57.9L247.6 59.2L248.8 60.5L249.9 61.9L251.0 63.3L252.2 64.7L253.3 66.2L254.4 67.7L255.5 69.1L256.7 70.6L257.8 72.1L258.9 73.6L260.1 75.1L261.2 76.5L262.3 78.0L263.4 79.5L264.6 80.9L265.7 82.3L266.8 83.7L268.0 85.1L269.1 86.4L270.2 87.7L271.4 89.0L272.5 90.2L273.6 91.4L274.7 92.5L275.9 93.6L277.0 94.6L278.1 95.6L279.3 96.4L280.4 97.3L281.5 98.1L282.7 98.8L283.8 99.5L284.9 100.2L286.0 100.8L287.2 101.3L288.3 101.8" fill="none" stroke="#2a2a90" stroke-width="1.8"/><path d="M64.3 300.0L65.4 299.6L66.6 299.2L67.7 298.8L68.8 298.5L69.9 298.1L71.1 297.7L72.2 297.3L73.3 297.0L74.4 296.6L75.6 296.2L76.7 295.8L77.8 295.5L78.9 295.1L80.1 294.8L81.2 294.4L82.3 294.0L83.4 293.7L84.6 293.3L85.7 293.0L86.8 292.6L87.9 292.3L89.1 291.9L90.2 291.6L91.3 291.2L92.4 290.9L93.6 290.6L94.7 290.3L95.8 290.0L96.9 289.7L98.1 289.4L99.2 289.1L100.3 288.8L101.4 288.5L102.6 288.2L103.7 287.9L104.8 287.6L105.9 287.3L107.1 287.0L108.2 286.7L109.3 286.4L110.5 286.0L111.6 285.7L112.7 285.4L113.8 285.0L115.0 284.7L116.1 284.3L117.2 284.0L118.3 283.6L119.5 283.2L120.6 282.8L121.7 282.4L122.8 281.9L124.0 281.4L125.1 280.9L126.2 280.4L127.3 279.8L128.5 279.3L129.6 278.7L130.7 278.2L131.8 277.6L133.0 277.1L134.1 276.5L135.2 276.0L136.3 275.5L137.5 275.0L138.6 274.5L139.7 274.1L140.8 273.7L142.0 273.3L143.1 272.9L144.2 272.5L145.3 272.2L146.5 271.8L147.6 271.4L148.7 271.1L149.8 270.8L151.0 270.4L152.1 270.1L153.2 269.8L154.4 269.4L155.5 269.1L156.6 268.8L157.7 268.5L158.9 268.1L160.0 267.8L161.1 267.5L162.2 267.2L163.4 266.9L164.5 266.5L165.6 266.2L166.7 265.9L167.9 265.6L169.0 265.3L170.1 265.0L171.2 264.7L172.4 264.4L173.5 264.1L174.6 263.8L175.7 263.5L176.9 263.2L178.0 263.0L179.1 262.7L180.2 262.4L181.4 262.2L182.5 261.9L183.6 261.6L184.7 261.4L185.9 261.1L187.0 260.8L188.1 260.6L189.2 260.4L190.4 260.2L191.5 260.1L192.6 259.9L193.7 259.8L194.9 259.7L196.0 259.6L197.1 259.5L198.2 259.4L199.4 259.4L200.5 259.4L201.6 259.5L202.8 259.8L203.9 260.2L205.0 260.6L206.1 261.1L207.3 261.6L208.4 262.2L209.5 262.9L210.6 263.7L211.8 264.7L212.9 265.7L214.0 266.8L215.1 267.8L216.3 268.8L217.4 269.7L218.5 270.5L219.6 271.3L220.8 272.1L221.9 272.9L223.0 273.7L224.1 274.5L225.3 275.2L226.4 276.0L227.5 276.7L228.6 277.4L229.8 278.1L230.9 278.8L232.0 279.5L233.1 280.2L234.3 280.9L235.4 281.5L236.5 282.2L237.6 282.8L238.8 283.5L239.9 284.1L241.0 284.8L242.1 285.4L243.3 286.1L244.4 286.7L245.5 287.4L246.7 288.0L247.8 288.6L248.9 289.1L250.0 289.7L251.2 290.2L252.3 290.6L253.4 291.0L254.5 291.4L255.7 291.7L256.8 292.0L257.9 292.3L259.0 292.5L260.2 292.8L261.3 293.0L262.4 293.2L263.5 293.4L264.7 293.6L265.8 293.8L266.9 294.0L268.0 294.2L269.2 294.4L270.3 294.5L271.4 294.7L272.5 294.9L273.7 295.1L274.8 295.2L275.9 295.4L277.0 295.5L278.2 295.7L279.3 295.8L280.4 296.0L281.5 296.1L282.7 296.2L283.8 296.4L284.9 296.5L286.0 296.6L287.2 296.7L288.3 296.8" fill="none" stroke="#3a3a80" stroke-width="1.5"/><path d="M64.3 298.9L65.4 298.5L66.6 298.1L67.7 297.7L68.8 297.4L69.9 297.0L71.1 296.6L72.2 296.2L73.3 295.8L74.4 295.4L75.6 295.0L76.7 294.6L77.8 294.2L78.9 293.8L80.1 293.4L81.2 293.0L82.3 292.6L83.4 292.2L84.6 291.8L85.7 291.4L86.8 291.0L87.9 290.6L89.1 290.2L90.2 289.8L91.3 289.4L92.4 289.0L93.6 288.6L94.7 288.2L95.8 287.8L96.9 287.4L98.1 287.0L99.2 286.6L100.3 286.2L101.4 285.8L102.6 285.4L103.7 285.0L104.8 284.6L105.9 284.2L107.1 283.7L108.2 283.3L109.3 282.9L110.5 282.5L111.6 282.0L112.7 281.6L113.8 281.1L115.0 280.6L116.1 280.1L117.2 279.6L118.3 279.1L119.5 278.6L120.6 278.1L121.7 277.5L122.8 276.9L124.0 276.3L125.1 275.7L126.2 275.0L127.3 274.4L128.5 273.6L129.6 272.9L130.7 272.2L131.8 271.4L133.0 270.7L134.1 269.9L135.2 269.2L136.3 268.4L137.5 267.6L138.6 266.8L139.7 266.0L140.8 265.2L142.0 264.4L143.1 263.5L144.2 262.7L145.3 261.9L146.5 261.1L147.6 260.3L148.7 259.5L149.8 258.7L151.0 257.8L152.1 257.0L153.2 256.2L154.4 255.4L155.5 254.6L156.6 253.8L157.7 252.9L158.9 252.1L160.0 251.3L161.1 250.5L162.2 249.6L163.4 248.8L164.5 248.0L165.6 247.2L166.7 246.3L167.9 245.5L169.0 244.6L170.1 243.7L171.2 242.8L172.4 241.9L173.5 241.0L174.6 240.1L175.7 239.2L176.9 238.2L178.0 237.3L179.1 236.3L180.2 235.3L181.4 234.2L182.5 233.0L183.6 231.7L184.7 230.5L185.9 229.4L187.0 228.5L188.1 227.7L189.2 227.0L190.4 226.4L191.5 225.9L192.6 225.7L193.7 225.7L194.9 225.8L196.0 226.0L197.1 226.3L198.2 226.6L199.4 227.2L200.5 227.9L201.6 228.9L202.8 229.9L203.9 231.0L205.0 232.2L206.1 233.5L207.3 235.0L208.4 236.5L209.5 238.0L210.6 239.6L211.8 241.2L212.9 242.7L214.0 244.2L215.1 245.6L216.3 246.9L217.4 248.1L218.5 249.1L219.6 250.1L220.8 251.1L221.9 252.1L223.0 253.0L224.1 253.9L225.3 254.8L226.4 255.7L227.5 256.5L228.6 257.3L229.8 258.1L230.9 258.9L232.0 259.6L233.1 260.3L234.3 261.0L235.4 261.7L236.5 262.3L237.6 262.9L238.8 263.5L239.9 264.2L241.0 264.9L242.1 265.5L243.3 266.1L244.4 266.6L245.5 267.0L246.7 267.4L247.8 267.6L248.9 267.6L250.0 267.7L251.2 267.7L252.3 267.7L253.4 267.8L254.5 267.7L255.7 267.7L256.8 267.7L257.9 267.7L259.0 267.6L260.2 267.5L261.3 267.3L262.4 267.0L263.5 266.8L264.7 266.5L265.8 266.1L266.9 265.7L268.0 265.3L269.2 264.8L270.3 264.3L271.4 263.5L272.5 262.5L273.7 261.5L274.8 260.3L275.9 259.0L277.0 257.7L278.2 256.4L279.3 255.1L280.4 253.9L281.5 252.6L282.7 251.2L283.8 249.8L284.9 248.4L286.0 246.9L287.2 245.4L288.3 243.8" fill="none" stroke="#c86898" stroke-width="1.1"/><path d="M64.3 299.0L65.4 298.6L66.6 298.2L67.7 297.8L68.8 297.5L69.9 297.1L71.1 296.7L72.2 296.3L73.3 295.9L74.4 295.5L75.6 295.1L76.7 294.7L77.8 294.3L78.9 293.9L80.1 293.5L81.2 293.1L82.3 292.7L83.4 292.3L84.6 291.9L85.7 291.5L86.8 291.2L87.9 290.8L89.1 290.4L90.2 290.0L91.3 289.6L92.4 289.2L93.6 288.8L94.7 288.4L95.8 288.0L96.9 287.6L98.1 287.3L99.2 286.9L100.3 286.5L101.4 286.1L102.6 285.7L103.7 285.3L104.8 284.9L105.9 284.5L107.1 284.1L108.2 283.8L109.3 283.3L110.5 282.9L111.6 282.5L112.7 282.1L113.8 281.6L115.0 281.2L116.1 280.7L117.2 280.3L118.3 279.8L119.5 279.3L120.6 278.8L121.7 278.2L122.8 277.7L124.0 277.1L125.1 276.5L126.2 275.9L127.3 275.3L128.5 274.6L129.6 273.9L130.7 273.2L131.8 272.5L133.0 271.8L134.1 271.1L135.2 270.4L136.3 269.7L137.5 268.9L138.6 268.2L139.7 267.4L140.8 266.6L142.0 265.9L143.1 265.1L144.2 264.3L145.3 263.6L146.5 262.8L147.6 262.0L148.7 261.3L149.8 260.5L151.0 259.7L152.1 258.9L153.2 258.2L154.4 257.4L155.5 256.6L156.6 255.8L157.7 255.1L158.9 254.3L160.0 253.5L161.1 252.7L162.2 251.9L163.4 251.2L164.5 250.4L165.6 249.6L166.7 248.8L167.9 247.9L169.0 247.1L170.1 246.3L171.2 245.4L172.4 244.6L173.5 243.7L174.6 242.8L175.7 241.9L176.9 241.0L178.0 240.1L179.1 239.1L180.2 238.2L181.4 237.1L182.5 236.0L183.6 234.8L184.7 233.6L185.9 232.5L187.0 231.7L188.1 230.9L189.2 230.2L190.4 229.6L191.5 229.1L192.6 228.9L193.7 228.8L194.9 228.9L196.0 229.1L197.1 229.3L198.2 229.6L199.4 230.0L200.5 230.8L201.6 231.6L202.8 232.6L203.9 233.6L205.0 234.7L206.1 236.0L207.3 237.4L208.4 238.8L209.5 240.2L210.6 241.8L211.8 243.3L212.9 244.8L214.0 246.2L215.1 247.6L216.3 248.8L217.4 250.0L218.5 251.0L219.6 252.0L220.8 253.0L221.9 253.9L223.0 254.8L224.1 255.7L225.3 256.6L226.4 257.5L227.5 258.3L228.6 259.1L229.8 259.9L230.9 260.6L232.0 261.4L233.1 262.1L234.3 262.8L235.4 263.4L236.5 264.1L237.6 264.7L238.8 265.3L239.9 266.0L241.0 266.6L242.1 267.2L243.3 267.8L244.4 268.4L245.5 268.8L246.7 269.2L247.8 269.4L248.9 269.5L250.0 269.6L251.2 269.7L252.3 269.7L253.4 269.8L254.5 269.8L255.7 269.8L256.8 269.8L257.9 269.8L259.0 269.7L260.2 269.7L261.3 269.5L262.4 269.3L263.5 269.1L264.7 268.8L265.8 268.5L266.9 268.2L268.0 267.8L269.2 267.4L270.3 266.9L271.4 266.2L272.5 265.3L273.7 264.4L274.8 263.3L275.9 262.1L277.0 261.0L278.2 259.8L279.3 258.6L280.4 257.5L281.5 256.3L282.7 255.1L283.8 253.8L284.9 252.5L286.0 251.2L287.2 249.8L288.3 248.4" fill="none" stroke="#68b0d0" stroke-width="1.1"/><path d="M64.3 299.1L65.4 298.7L66.6 298.3L67.7 297.9L68.8 297.5L69.9 297.1L71.1 296.7L72.2 296.4L73.3 296.0L74.4 295.6L75.6 295.2L76.7 294.8L77.8 294.4L78.9 294.0L80.1 293.6L81.2 293.2L82.3 292.8L83.4 292.4L84.6 292.0L85.7 291.7L86.8 291.3L87.9 290.9L89.1 290.5L90.2 290.1L91.3 289.8L92.4 289.4L93.6 289.0L94.7 288.6L95.8 288.2L96.9 287.9L98.1 287.5L99.2 287.1L100.3 286.7L101.4 286.3L102.6 286.0L103.7 285.6L104.8 285.2L105.9 284.9L107.1 284.5L108.2 284.1L109.3 283.7L110.5 283.3L111.6 282.9L112.7 282.5L113.8 282.1L115.0 281.6L116.1 281.2L117.2 280.7L118.3 280.3L119.5 279.8L120.6 279.3L121.7 278.8L122.8 278.3L124.0 277.8L125.1 277.2L126.2 276.6L127.3 276.0L128.5 275.3L129.6 274.7L130.7 274.0L131.8 273.4L133.0 272.7L134.1 272.0L135.2 271.4L136.3 270.7L137.5 270.0L138.6 269.3L139.7 268.6L140.8 267.8L142.0 267.1L143.1 266.4L144.2 265.6L145.3 264.9L146.5 264.2L147.6 263.4L148.7 262.7L149.8 262.0L151.0 261.2L152.1 260.5L153.2 259.8L154.4 259.0L155.5 258.3L156.6 257.5L157.7 256.8L158.9 256.0L160.0 255.3L161.1 254.5L162.2 253.8L163.4 253.0L164.5 252.3L165.6 251.5L166.7 250.7L167.9 250.0L169.0 249.2L170.1 248.3L171.2 247.5L172.4 246.7L173.5 245.9L174.6 245.0L175.7 244.2L176.9 243.3L178.0 242.4L179.1 241.4L180.2 240.5L181.4 239.5L182.5 238.4L183.6 237.2L184.7 236.1L185.9 235.1L187.0 234.3L188.1 233.5L189.2 232.8L190.4 232.2L191.5 231.7L192.6 231.4L193.7 231.4L194.9 231.4L196.0 231.5L197.1 231.7L198.2 231.9L199.4 232.4L200.5 233.0L201.6 233.8L202.8 234.7L203.9 235.7L205.0 236.8L206.1 238.0L207.3 239.3L208.4 240.6L209.5 242.1L210.6 243.5L211.8 245.0L212.9 246.4L214.0 247.8L215.1 249.2L216.3 250.4L217.4 251.5L218.5 252.5L219.6 253.5L220.8 254.5L221.9 255.4L223.0 256.3L224.1 257.2L225.3 258.1L226.4 258.9L227.5 259.7L228.6 260.5L229.8 261.3L230.9 262.0L232.0 262.8L233.1 263.5L234.3 264.2L235.4 264.8L236.5 265.5L237.6 266.1L238.8 266.7L239.9 267.4L241.0 268.0L242.1 268.7L243.3 269.3L244.4 269.8L245.5 270.3L246.7 270.6L247.8 270.9L248.9 271.0L250.0 271.2L251.2 271.3L252.3 271.3L253.4 271.4L254.5 271.5L255.7 271.5L256.8 271.5L257.9 271.5L259.0 271.5L260.2 271.4L261.3 271.3L262.4 271.2L263.5 271.0L264.7 270.7L265.8 270.4L266.9 270.1L268.0 269.8L269.2 269.4L270.3 269.0L271.4 268.4L272.5 267.6L273.7 266.7L274.8 265.7L275.9 264.7L277.0 263.6L278.2 262.5L279.3 261.5L280.4 260.4L281.5 259.3L282.7 258.2L283.8 257.1L284.9 255.9L286.0 254.6L287.2 253.4L288.3 252.1" fill="none" stroke="#989898" stroke-width="1.1"/><path d="M64.3 299.2L65.4 298.8L66.6 298.4L67.7 298.0L68.8 297.6L69.9 297.2L71.1 296.8L72.2 296.4L73.3 296.0L74.4 295.6L75.6 295.2L76.7 294.8L77.8 294.4L78.9 294.1L80.1 293.7L81.2 293.3L82.3 292.9L83.4 292.5L84.6 292.1L85.7 291.8L86.8 291.4L87.9 291.0L89.1 290.6L90.2 290.3L91.3 289.9L92.4 289.5L93.6 289.1L94.7 288.8L95.8 288.4L96.9 288.0L98.1 287.7L99.2 287.3L100.3 286.9L101.4 286.6L102.6 286.2L103.7 285.9L104.8 285.5L105.9 285.1L107.1 284.8L108.2 284.4L109.3 284.0L110.5 283.6L111.6 283.2L112.7 282.8L113.8 282.4L115.0 282.0L116.1 281.6L117.2 281.2L118.3 280.7L119.5 280.3L120.6 279.8L121.7 279.3L122.8 278.8L124.0 278.3L125.1 277.8L126.2 277.2L127.3 276.6L128.5 276.0L129.6 275.4L130.7 274.8L131.8 274.1L133.0 273.5L134.1 272.9L135.2 272.2L136.3 271.6L137.5 270.9L138.6 270.2L139.7 269.5L140.8 268.8L142.0 268.2L143.1 267.5L144.2 266.7L145.3 266.0L146.5 265.4L147.6 264.7L148.7 264.0L149.8 263.3L151.0 262.6L152.1 261.9L153.2 261.1L154.4 260.4L155.5 259.7L156.6 259.0L157.7 258.3L158.9 257.6L160.0 256.9L161.1 256.1L162.2 255.4L163.4 254.7L164.5 254.0L165.6 253.2L166.7 252.5L167.9 251.7L169.0 250.9L170.1 250.2L171.2 249.4L172.4 248.6L173.5 247.8L174.6 246.9L175.7 246.1L176.9 245.2L178.0 244.4L179.1 243.5L180.2 242.6L181.4 241.6L182.5 240.5L183.6 239.4L184.7 238.3L185.9 237.3L187.0 236.5L188.1 235.8L189.2 235.1L190.4 234.4L191.5 233.9L192.6 233.7L193.7 233.6L194.9 233.6L196.0 233.7L197.1 233.8L198.2 234.0L199.4 234.4L200.5 235.0L201.6 235.8L202.8 236.6L203.9 237.5L205.0 238.6L206.1 239.7L207.3 241.0L208.4 242.3L209.5 243.6L210.6 245.0L211.8 246.5L212.9 247.9L214.0 249.3L215.1 250.6L216.3 251.8L217.4 252.9L218.5 253.8L219.6 254.8L220.8 255.8L221.9 256.7L223.0 257.6L224.1 258.5L225.3 259.3L226.4 260.2L227.5 261.0L228.6 261.8L229.8 262.5L230.9 263.3L232.0 264.0L233.1 264.7L234.3 265.4L235.4 266.1L236.5 266.7L237.6 267.3L238.8 268.0L239.9 268.6L241.0 269.3L242.1 269.9L243.3 270.5L244.4 271.0L245.5 271.5L246.7 271.9L247.8 272.2L248.9 272.4L250.0 272.5L251.2 272.6L252.3 272.8L253.4 272.8L254.5 272.9L255.7 273.0L256.8 273.0L257.9 273.0L259.0 273.0L260.2 273.0L261.3 272.9L262.4 272.8L263.5 272.6L264.7 272.4L265.8 272.1L266.9 271.9L268.0 271.6L269.2 271.3L270.3 270.9L271.4 270.3L272.5 269.6L273.7 268.8L274.8 267.9L275.9 266.9L277.0 265.9L278.2 264.9L279.3 263.9L280.4 263.0L281.5 262.0L282.7 261.0L283.8 259.9L284.9 258.8L286.0 257.6L287.2 256.5L288.3 255.3" fill="none" stroke="#a878c8" stroke-width="1.1"/><path d="M64.3 299.3L65.4 298.9L66.6 298.5L67.7 298.1L68.8 297.7L69.9 297.3L71.1 296.9L72.2 296.5L73.3 296.1L74.4 295.7L75.6 295.3L76.7 294.9L77.8 294.5L78.9 294.1L80.1 293.7L81.2 293.4L82.3 293.0L83.4 292.6L84.6 292.2L85.7 291.8L86.8 291.5L87.9 291.1L89.1 290.7L90.2 290.4L91.3 290.0L92.4 289.6L93.6 289.3L94.7 288.9L95.8 288.6L96.9 288.2L98.1 287.8L99.2 287.5L100.3 287.1L101.4 286.8L102.6 286.4L103.7 286.1L104.8 285.7L105.9 285.4L107.1 285.0L108.2 284.7L109.3 284.3L110.5 283.9L111.6 283.6L112.7 283.2L113.8 282.8L115.0 282.4L116.1 282.0L117.2 281.6L118.3 281.1L119.5 280.7L120.6 280.2L121.7 279.8L122.8 279.3L124.0 278.8L125.1 278.3L126.2 277.7L127.3 277.2L128.5 276.6L129.6 276.0L130.7 275.4L131.8 274.8L133.0 274.2L134.1 273.6L135.2 273.0L136.3 272.4L137.5 271.7L138.6 271.1L139.7 270.4L140.8 269.8L142.0 269.1L143.1 268.4L144.2 267.8L145.3 267.1L146.5 266.4L147.6 265.8L148.7 265.1L149.8 264.4L151.0 263.8L152.1 263.1L153.2 262.4L154.4 261.7L155.5 261.0L156.6 260.3L157.7 259.6L158.9 259.0L160.0 258.3L161.1 257.6L162.2 256.9L163.4 256.2L164.5 255.5L165.6 254.7L166.7 254.0L167.9 253.3L169.0 252.5L170.1 251.8L171.2 251.0L172.4 250.2L173.5 249.5L174.6 248.7L175.7 247.8L176.9 247.0L178.0 246.2L179.1 245.3L180.2 244.4L181.4 243.5L182.5 242.4L183.6 241.3L184.7 240.3L185.9 239.3L187.0 238.5L188.1 237.8L189.2 237.1L190.4 236.5L191.5 236.0L192.6 235.7L193.7 235.6L194.9 235.6L196.0 235.6L197.1 235.7L198.2 235.9L199.4 236.3L200.5 236.8L201.6 237.5L202.8 238.3L203.9 239.2L205.0 240.2L206.1 241.3L207.3 242.5L208.4 243.8L209.5 245.1L210.6 246.4L211.8 247.8L212.9 249.2L214.0 250.5L215.1 251.8L216.3 253.0L217.4 254.1L218.5 255.0L219.6 256.0L220.8 256.9L221.9 257.8L223.0 258.7L224.1 259.6L225.3 260.5L226.4 261.3L227.5 262.1L228.6 262.9L229.8 263.7L230.9 264.4L232.0 265.1L233.1 265.8L234.3 266.5L235.4 267.2L236.5 267.8L237.6 268.5L238.8 269.1L239.9 269.7L241.0 270.4L242.1 271.0L243.3 271.6L244.4 272.2L245.5 272.7L246.7 273.1L247.8 273.3L248.9 273.5L250.0 273.7L251.2 273.9L252.3 274.0L253.4 274.1L254.5 274.2L255.7 274.3L256.8 274.3L257.9 274.4L259.0 274.4L260.2 274.4L261.3 274.3L262.4 274.2L263.5 274.1L264.7 273.9L265.8 273.7L266.9 273.4L268.0 273.2L269.2 272.9L270.3 272.5L271.4 272.0L272.5 271.4L273.7 270.6L274.8 269.8L275.9 268.9L277.0 268.0L278.2 267.1L279.3 266.2L280.4 265.3L281.5 264.4L282.7 263.4L283.8 262.4L284.9 261.4L286.0 260.4L287.2 259.3L288.3 258.2" fill="none" stroke="#b8cc68" stroke-width="1.1"/><path d="M64.3 299.3L65.4 298.9L66.6 298.5L67.7 298.1L68.8 297.7L69.9 297.3L71.1 296.9L72.2 296.5L73.3 296.1L74.4 295.7L75.6 295.3L76.7 295.0L77.8 294.6L78.9 294.2L80.1 293.8L81.2 293.4L82.3 293.0L83.4 292.7L84.6 292.3L85.7 291.9L86.8 291.6L87.9 291.2L89.1 290.8L90.2 290.5L91.3 290.1L92.4 289.8L93.6 289.4L94.7 289.1L95.8 288.7L96.9 288.4L98.1 288.0L99.2 287.7L100.3 287.3L101.4 287.0L102.6 286.6L103.7 286.3L104.8 285.9L105.9 285.6L107.1 285.3L108.2 284.9L109.3 284.6L110.5 284.2L111.6 283.8L112.7 283.5L113.8 283.1L115.0 282.7L116.1 282.3L117.2 281.9L118.3 281.5L119.5 281.1L120.6 280.7L121.7 280.2L122.8 279.7L124.0 279.3L125.1 278.8L126.2 278.2L127.3 277.7L128.5 277.2L129.6 276.6L130.7 276.0L131.8 275.5L133.0 274.9L134.1 274.3L135.2 273.7L136.3 273.1L137.5 272.5L138.6 271.9L139.7 271.3L140.8 270.6L142.0 270.0L143.1 269.4L144.2 268.7L145.3 268.1L146.5 267.4L147.6 266.8L148.7 266.1L149.8 265.5L151.0 264.9L152.1 264.2L153.2 263.6L154.4 262.9L155.5 262.2L156.6 261.6L157.7 260.9L158.9 260.2L160.0 259.6L161.1 258.9L162.2 258.2L163.4 257.5L164.5 256.9L165.6 256.2L166.7 255.5L167.9 254.8L169.0 254.0L170.1 253.3L171.2 252.6L172.4 251.8L173.5 251.0L174.6 250.2L175.7 249.5L176.9 248.6L178.0 247.8L179.1 247.0L180.2 246.1L181.4 245.2L182.5 244.2L183.6 243.1L184.7 242.1L185.9 241.2L187.0 240.4L188.1 239.7L189.2 239.0L190.4 238.3L191.5 237.8L192.6 237.5L193.7 237.4L194.9 237.4L196.0 237.4L197.1 237.5L198.2 237.6L199.4 238.0L200.5 238.5L201.6 239.1L202.8 239.9L203.9 240.7L205.0 241.7L206.1 242.8L207.3 243.9L208.4 245.1L209.5 246.4L210.6 247.7L211.8 249.1L212.9 250.4L214.0 251.7L215.1 253.0L216.3 254.1L217.4 255.2L218.5 256.1L219.6 257.1L220.8 258.0L221.9 258.9L223.0 259.8L224.1 260.7L225.3 261.5L226.4 262.3L227.5 263.1L228.6 263.9L229.8 264.7L230.9 265.4L232.0 266.2L233.1 266.9L234.3 267.6L235.4 268.2L236.5 268.9L237.6 269.5L238.8 270.1L239.9 270.8L241.0 271.4L242.1 272.0L243.3 272.7L244.4 273.2L245.5 273.7L246.7 274.1L247.8 274.4L248.9 274.7L250.0 274.9L251.2 275.0L252.3 275.2L253.4 275.3L254.5 275.4L255.7 275.5L256.8 275.6L257.9 275.7L259.0 275.7L260.2 275.7L261.3 275.6L262.4 275.5L263.5 275.4L264.7 275.3L265.8 275.1L266.9 274.9L268.0 274.6L269.2 274.4L270.3 274.1L271.4 273.6L272.5 273.0L273.7 272.3L274.8 271.6L275.9 270.7L277.0 269.9L278.2 269.1L279.3 268.2L280.4 267.4L281.5 266.6L282.7 265.7L283.8 264.8L284.9 263.8L286.0 262.9L287.2 261.9L288.3 260.8" fill="none" stroke="#40b0a0" stroke-width="1.1"/><path d="M64.3 299.4L65.4 299.0L66.6 298.6L67.7 298.2L68.8 297.8L69.9 297.4L71.1 297.0L72.2 296.6L73.3 296.2L74.4 295.8L75.6 295.4L76.7 295.0L77.8 294.6L78.9 294.2L80.1 293.9L81.2 293.5L82.3 293.1L83.4 292.7L84.6 292.4L85.7 292.0L86.8 291.6L87.9 291.3L89.1 290.9L90.2 290.6L91.3 290.2L92.4 289.9L93.6 289.5L94.7 289.2L95.8 288.8L96.9 288.5L98.1 288.2L99.2 287.8L100.3 287.5L101.4 287.1L102.6 286.8L103.7 286.5L104.8 286.2L105.9 285.8L107.1 285.5L108.2 285.2L109.3 284.8L110.5 284.5L111.6 284.1L112.7 283.8L113.8 283.4L115.0 283.0L116.1 282.6L117.2 282.2L118.3 281.9L119.5 281.4L120.6 281.0L121.7 280.6L122.8 280.2L124.0 279.7L125.1 279.2L126.2 278.7L127.3 278.2L128.5 277.7L129.6 277.1L130.7 276.6L131.8 276.0L133.0 275.5L134.1 274.9L135.2 274.4L136.3 273.8L137.5 273.2L138.6 272.6L139.7 272.0L140.8 271.4L142.0 270.8L143.1 270.2L144.2 269.6L145.3 269.0L146.5 268.4L147.6 267.7L148.7 267.1L149.8 266.5L151.0 265.9L152.1 265.3L153.2 264.6L154.4 264.0L155.5 263.4L156.6 262.7L157.7 262.1L158.9 261.4L160.0 260.8L161.1 260.1L162.2 259.5L163.4 258.8L164.5 258.2L165.6 257.5L166.7 256.8L167.9 256.1L169.0 255.4L170.1 254.7L171.2 254.0L172.4 253.2L173.5 252.5L174.6 251.7L175.7 251.0L176.9 250.2L178.0 249.4L179.1 248.5L180.2 247.7L181.4 246.8L182.5 245.8L183.6 244.8L184.7 243.9L185.9 243.0L187.0 242.2L188.1 241.5L189.2 240.7L190.4 240.1L191.5 239.6L192.6 239.3L193.7 239.1L194.9 239.1L196.0 239.1L197.1 239.2L198.2 239.3L199.4 239.6L200.5 240.0L201.6 240.6L202.8 241.4L203.9 242.2L205.0 243.1L206.1 244.1L207.3 245.2L208.4 246.4L209.5 247.6L210.6 248.9L211.8 250.2L212.9 251.5L214.0 252.8L215.1 254.1L216.3 255.2L217.4 256.2L218.5 257.2L219.6 258.1L220.8 259.0L221.9 259.9L223.0 260.8L224.1 261.7L225.3 262.5L226.4 263.3L227.5 264.1L228.6 264.9L229.8 265.7L230.9 266.4L232.0 267.1L233.1 267.8L234.3 268.5L235.4 269.2L236.5 269.8L237.6 270.4L238.8 271.1L239.9 271.7L241.0 272.4L242.1 273.0L243.3 273.6L244.4 274.2L245.5 274.7L246.7 275.1L247.8 275.4L248.9 275.7L250.0 275.9L251.2 276.1L252.3 276.3L253.4 276.4L254.5 276.6L255.7 276.7L256.8 276.8L257.9 276.8L259.0 276.9L260.2 276.9L261.3 276.9L262.4 276.8L263.5 276.7L264.7 276.6L265.8 276.4L266.9 276.2L268.0 276.0L269.2 275.8L270.3 275.5L271.4 275.1L272.5 274.5L273.7 273.9L274.8 273.2L275.9 272.5L277.0 271.7L278.2 270.9L279.3 270.2L280.4 269.4L281.5 268.7L282.7 267.8L283.8 267.0L284.9 266.1L286.0 265.2L287.2 264.3L288.3 263.4" fill="none" stroke="#d87858" stroke-width="1.1"/><path d="M64.3 299.4L65.4 299.0L66.6 298.6L67.7 298.2L68.8 297.8L69.9 297.4L71.1 297.0L72.2 296.6L73.3 296.2L74.4 295.8L75.6 295.4L76.7 295.1L77.8 294.7L78.9 294.3L80.1 293.9L81.2 293.5L82.3 293.2L83.4 292.8L84.6 292.4L85.7 292.1L86.8 291.7L87.9 291.4L89.1 291.0L90.2 290.7L91.3 290.3L92.4 290.0L93.6 289.6L94.7 289.3L95.8 289.0L96.9 288.6L98.1 288.3L99.2 288.0L100.3 287.6L101.4 287.3L102.6 287.0L103.7 286.7L104.8 286.3L105.9 286.0L107.1 285.7L108.2 285.4L109.3 285.0L110.5 284.7L111.6 284.4L112.7 284.0L113.8 283.7L115.0 283.3L116.1 282.9L117.2 282.6L118.3 282.2L119.5 281.8L120.6 281.4L121.7 281.0L122.8 280.5L124.0 280.1L125.1 279.6L126.2 279.2L127.3 278.7L128.5 278.2L129.6 277.6L130.7 277.1L131.8 276.6L133.0 276.1L134.1 275.5L135.2 275.0L136.3 274.5L137.5 273.9L138.6 273.3L139.7 272.8L140.8 272.2L142.0 271.6L143.1 271.0L144.2 270.4L145.3 269.8L146.5 269.2L147.6 268.7L148.7 268.1L149.8 267.5L151.0 266.9L152.1 266.3L153.2 265.7L154.4 265.0L155.5 264.4L156.6 263.8L157.7 263.2L158.9 262.6L160.0 261.9L161.1 261.3L162.2 260.7L163.4 260.0L164.5 259.4L165.6 258.7L166.7 258.1L167.9 257.4L169.0 256.7L170.1 256.0L171.2 255.3L172.4 254.6L173.5 253.9L174.6 253.1L175.7 252.4L176.9 251.6L178.0 250.8L179.1 250.0L180.2 249.2L181.4 248.3L182.5 247.4L183.6 246.4L184.7 245.5L185.9 244.6L187.0 243.8L188.1 243.1L189.2 242.4L190.4 241.8L191.5 241.3L192.6 240.9L193.7 240.7L194.9 240.7L196.0 240.7L197.1 240.7L198.2 240.8L199.4 241.1L200.5 241.5L201.6 242.1L202.8 242.7L203.9 243.5L205.0 244.4L206.1 245.4L207.3 246.5L208.4 247.6L209.5 248.8L210.6 250.0L211.8 251.3L212.9 252.6L214.0 253.9L215.1 255.1L216.3 256.2L217.4 257.2L218.5 258.2L219.6 259.1L220.8 260.0L221.9 260.9L223.0 261.7L224.1 262.6L225.3 263.4L226.4 264.2L227.5 265.0L228.6 265.8L229.8 266.6L230.9 267.3L232.0 268.0L233.1 268.7L234.3 269.4L235.4 270.1L236.5 270.7L237.6 271.4L238.8 272.0L239.9 272.6L241.0 273.3L242.1 273.9L243.3 274.5L244.4 275.1L245.5 275.6L246.7 276.0L247.8 276.4L248.9 276.7L250.0 276.9L251.2 277.1L252.3 277.3L253.4 277.5L254.5 277.6L255.7 277.7L256.8 277.8L257.9 277.9L259.0 278.0L260.2 278.0L261.3 278.0L262.4 278.0L263.5 277.9L264.7 277.8L265.8 277.7L266.9 277.5L268.0 277.3L269.2 277.1L270.3 276.9L271.4 276.5L272.5 276.0L273.7 275.4L274.8 274.8L275.9 274.1L277.0 273.4L278.2 272.7L279.3 272.0L280.4 271.3L281.5 270.6L282.7 269.9L283.8 269.1L284.9 268.3L286.0 267.4L287.2 266.6L288.3 265.7" fill="none" stroke="#7868b8" stroke-width="1.1"/><path d="M64.3 299.5L65.4 299.1L66.6 298.7L67.7 298.3L68.8 297.9L69.9 297.5L71.1 297.1L72.2 296.7L73.3 296.3L74.4 295.9L75.6 295.5L76.7 295.1L77.8 294.7L78.9 294.3L80.1 294.0L81.2 293.6L82.3 293.2L83.4 292.8L84.6 292.5L85.7 292.1L86.8 291.8L87.9 291.4L89.1 291.1L90.2 290.7L91.3 290.4L92.4 290.1L93.6 289.7L94.7 289.4L95.8 289.1L96.9 288.8L98.1 288.4L99.2 288.1L100.3 287.8L101.4 287.5L102.6 287.2L103.7 286.8L104.8 286.5L105.9 286.2L107.1 285.9L108.2 285.6L109.3 285.3L110.5 284.9L111.6 284.6L112.7 284.3L113.8 283.9L115.0 283.6L116.1 283.2L117.2 282.9L118.3 282.5L119.5 282.1L120.6 281.7L121.7 281.3L122.8 280.9L124.0 280.5L125.1 280.0L126.2 279.6L127.3 279.1L128.5 278.6L129.6 278.1L130.7 277.6L131.8 277.1L133.0 276.6L134.1 276.1L135.2 275.6L136.3 275.1L137.5 274.6L138.6 274.0L139.7 273.5L140.8 272.9L142.0 272.3L143.1 271.8L144.2 271.2L145.3 270.7L146.5 270.1L147.6 269.5L148.7 268.9L149.8 268.4L151.0 267.8L152.1 267.2L153.2 266.6L154.4 266.0L155.5 265.4L156.6 264.8L157.7 264.2L158.9 263.6L160.0 263.0L161.1 262.4L162.2 261.8L163.4 261.2L164.5 260.6L165.6 259.9L166.7 259.3L167.9 258.6L169.0 258.0L170.1 257.3L171.2 256.6L172.4 255.9L173.5 255.2L174.6 254.5L175.7 253.7L176.9 253.0L178.0 252.2L179.1 251.4L180.2 250.6L181.4 249.8L182.5 248.9L183.6 247.9L184.7 247.0L185.9 246.2L187.0 245.4L188.1 244.7L189.2 244.0L190.4 243.4L191.5 242.8L192.6 242.5L193.7 242.3L194.9 242.2L196.0 242.2L197.1 242.2L198.2 242.3L199.4 242.5L200.5 242.9L201.6 243.4L202.8 244.1L203.9 244.8L205.0 245.7L206.1 246.6L207.3 247.7L208.4 248.7L209.5 249.9L210.6 251.1L211.8 252.3L212.9 253.6L214.0 254.8L215.1 256.0L216.3 257.2L217.4 258.2L218.5 259.1L219.6 260.0L220.8 260.9L221.9 261.8L223.0 262.6L224.1 263.5L225.3 264.3L226.4 265.1L227.5 265.9L228.6 266.7L229.8 267.4L230.9 268.2L232.0 268.9L233.1 269.6L234.3 270.3L235.4 271.0L236.5 271.6L237.6 272.2L238.8 272.9L239.9 273.5L241.0 274.2L242.1 274.8L243.3 275.4L244.4 276.0L245.5 276.5L246.7 276.9L247.8 277.3L248.9 277.6L250.0 277.9L251.2 278.1L252.3 278.3L253.4 278.5L254.5 278.6L255.7 278.8L256.8 278.9L257.9 279.0L259.0 279.1L260.2 279.1L261.3 279.1L262.4 279.1L263.5 279.0L264.7 279.0L265.8 278.8L266.9 278.7L268.0 278.6L269.2 278.4L270.3 278.2L271.4 277.8L272.5 277.4L273.7 276.9L274.8 276.3L275.9 275.6L277.0 275.0L278.2 274.4L279.3 273.7L280.4 273.1L281.5 272.5L282.7 271.8L283.8 271.1L284.9 270.3L286.0 269.6L287.2 268.8L288.3 268.0" fill="none" stroke="#c8c8dc" stroke-width="1.1"/><path d="M64.3 299.5L65.4 299.1L66.6 298.7L67.7 298.3L68.8 297.9L69.9 297.5L71.1 297.1L72.2 296.7L73.3 296.3L74.4 295.9L75.6 295.5L76.7 295.2L77.8 294.8L78.9 294.4L80.1 294.0L81.2 293.6L82.3 293.3L83.4 292.9L84.6 292.5L85.7 292.2L86.8 291.8L87.9 291.5L89.1 291.2L90.2 290.8L91.3 290.5L92.4 290.2L93.6 289.8L94.7 289.5L95.8 289.2L96.9 288.9L98.1 288.6L99.2 288.2L100.3 287.9L101.4 287.6L102.6 287.3L103.7 287.0L104.8 286.7L105.9 286.4L107.1 286.1L108.2 285.8L109.3 285.5L110.5 285.2L111.6 284.8L112.7 284.5L113.8 284.2L115.0 283.8L116.1 283.5L117.2 283.2L118.3 282.8L119.5 282.4L120.6 282.1L121.7 281.7L122.8 281.3L124.0 280.9L125.1 280.4L126.2 280.0L127.3 279.5L128.5 279.1L129.6 278.6L130.7 278.1L131.8 277.6L133.0 277.2L134.1 276.7L135.2 276.2L136.3 275.7L137.5 275.2L138.6 274.6L139.7 274.1L140.8 273.6L142.0 273.1L143.1 272.5L144.2 272.0L145.3 271.4L146.5 270.9L147.6 270.3L148.7 269.8L149.8 269.2L151.0 268.7L152.1 268.1L153.2 267.5L154.4 267.0L155.5 266.4L156.6 265.8L157.7 265.2L158.9 264.7L160.0 264.1L161.1 263.5L162.2 262.9L163.4 262.3L164.5 261.7L165.6 261.1L166.7 260.4L167.9 259.8L169.0 259.2L170.1 258.5L171.2 257.8L172.4 257.2L173.5 256.5L174.6 255.8L175.7 255.0L176.9 254.3L178.0 253.6L179.1 252.8L180.2 252.0L181.4 251.2L182.5 250.3L183.6 249.4L184.7 248.5L185.9 247.7L187.0 246.9L188.1 246.2L189.2 245.5L190.4 244.9L191.5 244.3L192.6 244.0L193.7 243.7L194.9 243.6L196.0 243.6L197.1 243.6L198.2 243.7L199.4 243.8L200.5 244.2L201.6 244.7L202.8 245.3L203.9 246.0L205.0 246.9L206.1 247.8L207.3 248.8L208.4 249.8L209.5 250.9L210.6 252.1L211.8 253.3L212.9 254.6L214.0 255.8L215.1 257.0L216.3 258.1L217.4 259.1L218.5 260.0L219.6 260.9L220.8 261.8L221.9 262.6L223.0 263.5L224.1 264.3L225.3 265.1L226.4 266.0L227.5 266.7L228.6 267.5L229.8 268.3L230.9 269.0L232.0 269.7L233.1 270.4L234.3 271.1L235.4 271.8L236.5 272.4L237.6 273.1L238.8 273.7L239.9 274.3L241.0 275.0L242.1 275.6L243.3 276.2L244.4 276.8L245.5 277.3L246.7 277.8L247.8 278.2L248.9 278.5L250.0 278.8L251.2 279.0L252.3 279.2L253.4 279.4L254.5 279.6L255.7 279.8L256.8 279.9L257.9 280.0L259.0 280.1L260.2 280.2L261.3 280.2L262.4 280.2L263.5 280.1L264.7 280.1L265.8 280.0L266.9 279.9L268.0 279.7L269.2 279.6L270.3 279.4L271.4 279.1L272.5 278.7L273.7 278.2L274.8 277.7L275.9 277.1L277.0 276.5L278.2 276.0L279.3 275.4L280.4 274.8L281.5 274.2L282.7 273.6L283.8 272.9L284.9 272.3L286.0 271.6L287.2 270.9L288.3 270.1" fill="none" stroke="#389080" stroke-width="1.1"/><path d="M64.3 299.6L65.4 299.2L66.6 298.8L67.7 298.4L68.8 298.0L69.9 297.6L71.1 297.2L72.2 296.8L73.3 296.4L74.4 296.0L75.6 295.6L76.7 295.2L77.8 294.8L78.9 294.4L80.1 294.1L81.2 293.7L82.3 293.3L83.4 293.0L84.6 292.6L85.7 292.3L86.8 291.9L87.9 291.6L89.1 291.2L90.2 290.9L91.3 290.6L92.4 290.3L93.6 289.9L94.7 289.6L95.8 289.3L96.9 289.0L98.1 288.7L99.2 288.4L100.3 288.1L101.4 287.8L102.6 287.5L103.7 287.2L104.8 286.9L105.9 286.6L107.1 286.3L108.2 286.0L109.3 285.7L110.5 285.4L111.6 285.1L112.7 284.7L113.8 284.4L115.0 284.1L116.1 283.8L117.2 283.4L118.3 283.1L119.5 282.7L120.6 282.4L121.7 282.0L122.8 281.6L124.0 281.2L125.1 280.8L126.2 280.4L127.3 279.9L128.5 279.5L129.6 279.0L130.7 278.6L131.8 278.1L133.0 277.7L134.1 277.2L135.2 276.7L136.3 276.2L137.5 275.8L138.6 275.3L139.7 274.8L140.8 274.3L142.0 273.7L143.1 273.2L144.2 272.7L145.3 272.2L146.5 271.7L147.6 271.1L148.7 270.6L149.8 270.1L151.0 269.5L152.1 269.0L153.2 268.4L154.4 267.9L155.5 267.3L156.6 266.8L157.7 266.2L158.9 265.6L160.0 265.1L161.1 264.5L162.2 263.9L163.4 263.3L164.5 262.8L165.6 262.2L166.7 261.6L167.9 260.9L169.0 260.3L170.1 259.7L171.2 259.0L172.4 258.4L173.5 257.7L174.6 257.0L175.7 256.3L176.9 255.6L178.0 254.8L179.1 254.1L180.2 253.3L181.4 252.5L182.5 251.7L183.6 250.8L184.7 249.9L185.9 249.1L187.0 248.4L188.1 247.7L189.2 247.0L190.4 246.3L191.5 245.8L192.6 245.4L193.7 245.2L194.9 245.0L196.0 245.0L197.1 245.0L198.2 245.0L199.4 245.2L200.5 245.5L201.6 245.9L202.8 246.5L203.9 247.2L205.0 248.0L206.1 248.9L207.3 249.9L208.4 250.9L209.5 252.0L210.6 253.1L211.8 254.3L212.9 255.5L214.0 256.7L215.1 257.9L216.3 258.9L217.4 259.9L218.5 260.8L219.6 261.7L220.8 262.6L221.9 263.5L223.0 264.3L224.1 265.1L225.3 266.0L226.4 266.8L227.5 267.6L228.6 268.3L229.8 269.1L230.9 269.8L232.0 270.5L233.1 271.2L234.3 271.9L235.4 272.6L236.5 273.2L237.6 273.8L238.8 274.5L239.9 275.1L241.0 275.8L242.1 276.4L243.3 277.0L244.4 277.6L245.5 278.1L246.7 278.6L247.8 279.0L248.9 279.3L250.0 279.6L251.2 279.9L252.3 280.2L253.4 280.4L254.5 280.6L255.7 280.7L256.8 280.8L257.9 281.0L259.0 281.1L260.2 281.2L261.3 281.2L262.4 281.2L263.5 281.2L264.7 281.1L265.8 281.1L266.9 281.0L268.0 280.9L269.2 280.8L270.3 280.6L271.4 280.3L272.5 280.0L273.7 279.5L274.8 279.1L275.9 278.6L277.0 278.0L278.2 277.5L279.3 277.0L280.4 276.5L281.5 275.9L282.7 275.4L283.8 274.8L284.9 274.2L286.0 273.5L287.2 272.9L288.3 272.2" fill="none" stroke="#e8b838" stroke-width="1.1"/><path d="M64.3 299.6L65.4 299.2L66.6 298.8L67.7 298.4L68.8 298.0L69.9 297.6L71.1 297.2L72.2 296.8L73.3 296.4L74.4 296.0L75.6 295.6L76.7 295.2L77.8 294.9L78.9 294.5L80.1 294.1L81.2 293.7L82.3 293.4L83.4 293.0L84.6 292.7L85.7 292.3L86.8 292.0L87.9 291.6L89.1 291.3L90.2 291.0L91.3 290.7L92.4 290.3L93.6 290.0L94.7 289.7L95.8 289.4L96.9 289.1L98.1 288.8L99.2 288.5L100.3 288.2L101.4 287.9L102.6 287.6L103.7 287.3L104.8 287.0L105.9 286.8L107.1 286.5L108.2 286.2L109.3 285.9L110.5 285.6L111.6 285.3L112.7 285.0L113.8 284.7L115.0 284.3L116.1 284.0L117.2 283.7L118.3 283.4L119.5 283.0L120.6 282.7L121.7 282.3L122.8 281.9L124.0 281.5L125.1 281.2L126.2 280.7L127.3 280.3L128.5 279.9L129.6 279.5L130.7 279.0L131.8 278.6L133.0 278.1L134.1 277.7L135.2 277.3L136.3 276.8L137.5 276.3L138.6 275.9L139.7 275.4L140.8 274.9L142.0 274.4L143.1 273.9L144.2 273.4L145.3 272.9L146.5 272.4L147.6 271.9L148.7 271.4L149.8 270.9L151.0 270.3L152.1 269.8L153.2 269.3L154.4 268.8L155.5 268.2L156.6 267.7L157.7 267.1L158.9 266.6L160.0 266.0L161.1 265.5L162.2 264.9L163.4 264.4L164.5 263.8L165.6 263.2L166.7 262.6L167.9 262.0L169.0 261.4L170.1 260.8L171.2 260.2L172.4 259.5L173.5 258.9L174.6 258.2L175.7 257.5L176.9 256.8L178.0 256.1L179.1 255.3L180.2 254.6L181.4 253.8L182.5 253.0L183.6 252.1L184.7 251.3L185.9 250.5L187.0 249.7L188.1 249.1L189.2 248.4L190.4 247.7L191.5 247.2L192.6 246.8L193.7 246.5L194.9 246.4L196.0 246.3L197.1 246.3L198.2 246.3L199.4 246.4L200.5 246.7L201.6 247.1L202.8 247.7L203.9 248.4L205.0 249.1L206.1 250.0L207.3 251.0L208.4 251.9L209.5 252.9L210.6 254.1L211.8 255.2L212.9 256.4L214.0 257.6L215.1 258.7L216.3 259.8L217.4 260.8L218.5 261.7L219.6 262.5L220.8 263.4L221.9 264.3L223.0 265.1L224.1 265.9L225.3 266.7L226.4 267.5L227.5 268.3L228.6 269.1L229.8 269.8L230.9 270.6L232.0 271.3L233.1 272.0L234.3 272.7L235.4 273.3L236.5 274.0L237.6 274.6L238.8 275.2L239.9 275.9L241.0 276.5L242.1 277.2L243.3 277.8L244.4 278.4L245.5 278.9L246.7 279.4L247.8 279.8L248.9 280.1L250.0 280.5L251.2 280.8L252.3 281.0L253.4 281.3L254.5 281.5L255.7 281.6L256.8 281.8L257.9 281.9L259.0 282.0L260.2 282.1L261.3 282.2L262.4 282.2L263.5 282.2L264.7 282.2L265.8 282.1L266.9 282.1L268.0 282.0L269.2 281.9L270.3 281.7L271.4 281.5L272.5 281.2L273.7 280.8L274.8 280.4L275.9 279.9L277.0 279.5L278.2 279.0L279.3 278.5L280.4 278.1L281.5 277.6L282.7 277.1L283.8 276.5L284.9 276.0L286.0 275.4L287.2 274.8L288.3 274.2" fill="none" stroke="#a04888" stroke-width="1.1"/><path d="M64.3 299.7L65.4 299.3L66.6 298.9L67.7 298.5L68.8 298.0L69.9 297.6L71.1 297.2L72.2 296.8L73.3 296.4L74.4 296.1L75.6 295.7L76.7 295.3L77.8 294.9L78.9 294.5L80.1 294.2L81.2 293.8L82.3 293.4L83.4 293.1L84.6 292.7L85.7 292.4L86.8 292.0L87.9 291.7L89.1 291.4L90.2 291.1L91.3 290.7L92.4 290.4L93.6 290.1L94.7 289.8L95.8 289.5L96.9 289.2L98.1 288.9L99.2 288.6L100.3 288.3L101.4 288.0L102.6 287.8L103.7 287.5L104.8 287.2L105.9 286.9L107.1 286.6L108.2 286.4L109.3 286.1L110.5 285.8L111.6 285.5L112.7 285.2L113.8 284.9L115.0 284.6L116.1 284.3L117.2 283.9L118.3 283.6L119.5 283.3L120.6 283.0L121.7 282.6L122.8 282.2L124.0 281.9L125.1 281.5L126.2 281.1L127.3 280.7L128.5 280.3L129.6 279.9L130.7 279.5L131.8 279.0L133.0 278.6L134.1 278.2L135.2 277.8L136.3 277.3L137.5 276.9L138.6 276.4L139.7 276.0L140.8 275.5L142.0 275.0L143.1 274.6L144.2 274.1L145.3 273.6L146.5 273.1L147.6 272.6L148.7 272.1L149.8 271.6L151.0 271.1L152.1 270.6L153.2 270.1L154.4 269.6L155.5 269.1L156.6 268.6L157.7 268.0L158.9 267.5L160.0 267.0L161.1 266.4L162.2 265.9L163.4 265.4L164.5 264.8L165.6 264.2L166.7 263.7L167.9 263.1L169.0 262.5L170.1 261.9L171.2 261.3L172.4 260.6L173.5 260.0L174.6 259.3L175.7 258.7L176.9 258.0L178.0 257.3L179.1 256.5L180.2 255.8L181.4 255.1L182.5 254.2L183.6 253.4L184.7 252.6L185.9 251.8L187.0 251.1L188.1 250.4L189.2 249.7L190.4 249.1L191.5 248.5L192.6 248.1L193.7 247.9L194.9 247.7L196.0 247.6L197.1 247.6L198.2 247.5L199.4 247.6L200.5 247.9L201.6 248.3L202.8 248.8L203.9 249.5L205.0 250.2L206.1 251.1L207.3 252.0L208.4 252.9L209.5 253.9L210.6 255.0L211.8 256.1L212.9 257.3L214.0 258.4L215.1 259.6L216.3 260.6L217.4 261.6L218.5 262.4L219.6 263.3L220.8 264.2L221.9 265.0L223.0 265.9L224.1 266.7L225.3 267.5L226.4 268.3L227.5 269.1L228.6 269.8L229.8 270.6L230.9 271.3L232.0 272.0L233.1 272.7L234.3 273.4L235.4 274.1L236.5 274.7L237.6 275.4L238.8 276.0L239.9 276.6L241.0 277.3L242.1 277.9L243.3 278.5L244.4 279.1L245.5 279.7L246.7 280.2L247.8 280.6L248.9 280.9L250.0 281.3L251.2 281.6L252.3 281.9L253.4 282.1L254.5 282.3L255.7 282.5L256.8 282.7L257.9 282.8L259.0 282.9L260.2 283.0L261.3 283.1L262.4 283.2L263.5 283.2L264.7 283.2L265.8 283.1L266.9 283.1L268.0 283.0L269.2 283.0L270.3 282.8L271.4 282.6L272.5 282.4L273.7 282.0L274.8 281.7L275.9 281.3L277.0 280.8L278.2 280.4L279.3 280.0L280.4 279.6L281.5 279.2L282.7 278.7L283.8 278.2L284.9 277.7L286.0 277.2L287.2 276.7L288.3 276.1" fill="none" stroke="#7090c8" stroke-width="1.1"/><path d="M64.3 299.7L65.4 299.3L66.6 298.9L67.7 298.5L68.8 298.1L69.9 297.7L71.1 297.3L72.2 296.9L73.3 296.5L74.4 296.1L75.6 295.7L76.7 295.3L77.8 294.9L78.9 294.6L80.1 294.2L81.2 293.8L82.3 293.5L83.4 293.1L84.6 292.8L85.7 292.4L86.8 292.1L87.9 291.8L89.1 291.4L90.2 291.1L91.3 290.8L92.4 290.5L93.6 290.2L94.7 289.9L95.8 289.6L96.9 289.3L98.1 289.0L99.2 288.7L100.3 288.5L101.4 288.2L102.6 287.9L103.7 287.6L104.8 287.3L105.9 287.1L107.1 286.8L108.2 286.5L109.3 286.2L110.5 286.0L111.6 285.7L112.7 285.4L113.8 285.1L115.0 284.8L116.1 284.5L117.2 284.2L118.3 283.9L119.5 283.6L120.6 283.2L121.7 282.9L122.8 282.6L124.0 282.2L125.1 281.8L126.2 281.5L127.3 281.1L128.5 280.7L129.6 280.3L130.7 279.9L131.8 279.5L133.0 279.1L134.1 278.7L135.2 278.3L136.3 277.8L137.5 277.4L138.6 277.0L139.7 276.5L140.8 276.1L142.0 275.7L143.1 275.2L144.2 274.7L145.3 274.3L146.5 273.8L147.6 273.3L148.7 272.9L149.8 272.4L151.0 271.9L152.1 271.4L153.2 270.9L154.4 270.4L155.5 269.9L156.6 269.4L157.7 268.9L158.9 268.4L160.0 267.9L161.1 267.4L162.2 266.8L163.4 266.3L164.5 265.8L165.6 265.2L166.7 264.7L167.9 264.1L169.0 263.5L170.1 262.9L171.2 262.3L172.4 261.7L173.5 261.1L174.6 260.4L175.7 259.8L176.9 259.1L178.0 258.4L179.1 257.7L180.2 257.0L181.4 256.3L182.5 255.5L183.6 254.7L184.7 253.9L185.9 253.1L187.0 252.4L188.1 251.7L189.2 251.0L190.4 250.4L191.5 249.8L192.6 249.4L193.7 249.1L194.9 249.0L196.0 248.9L197.1 248.8L198.2 248.7L199.4 248.8L200.5 249.1L201.6 249.4L202.8 249.9L203.9 250.5L205.0 251.3L206.1 252.1L207.3 253.0L208.4 253.8L209.5 254.8L210.6 255.9L211.8 257.0L212.9 258.1L214.0 259.3L215.1 260.4L216.3 261.4L217.4 262.3L218.5 263.2L219.6 264.1L220.8 264.9L221.9 265.8L223.0 266.6L224.1 267.4L225.3 268.2L226.4 269.0L227.5 269.8L228.6 270.6L229.8 271.3L230.9 272.0L232.0 272.8L233.1 273.5L234.3 274.1L235.4 274.8L236.5 275.5L237.6 276.1L238.8 276.7L239.9 277.4L241.0 278.0L242.1 278.6L243.3 279.3L244.4 279.9L245.5 280.4L246.7 280.9L247.8 281.3L248.9 281.7L250.0 282.1L251.2 282.4L252.3 282.7L253.4 282.9L254.5 283.2L255.7 283.4L256.8 283.5L257.9 283.7L259.0 283.8L260.2 283.9L261.3 284.0L262.4 284.1L263.5 284.1L264.7 284.1L265.8 284.1L266.9 284.1L268.0 284.1L269.2 284.0L270.3 283.9L271.4 283.8L272.5 283.5L273.7 283.2L274.8 282.9L275.9 282.5L277.0 282.2L278.2 281.8L279.3 281.4L280.4 281.1L281.5 280.7L282.7 280.3L283.8 279.9L284.9 279.4L286.0 279.0L287.2 278.5L288.3 278.0" fill="none" stroke="#b0a868" stroke-width="1.1"/><path d="M64.3 299.8L65.4 299.4L66.6 298.9L67.7 298.5L68.8 298.1L69.9 297.7L71.1 297.3L72.2 296.9L73.3 296.5L74.4 296.1L75.6 295.7L76.7 295.4L77.8 295.0L78.9 294.6L80.1 294.2L81.2 293.9L82.3 293.5L83.4 293.2L84.6 292.8L85.7 292.5L86.8 292.1L87.9 291.8L89.1 291.5L90.2 291.2L91.3 290.9L92.4 290.6L93.6 290.3L94.7 290.0L95.8 289.7L96.9 289.4L98.1 289.1L99.2 288.9L100.3 288.6L101.4 288.3L102.6 288.0L103.7 287.8L104.8 287.5L105.9 287.2L107.1 287.0L108.2 286.7L109.3 286.4L110.5 286.2L111.6 285.9L112.7 285.6L113.8 285.3L115.0 285.0L116.1 284.7L117.2 284.4L118.3 284.1L119.5 283.8L120.6 283.5L121.7 283.2L122.8 282.9L124.0 282.5L125.1 282.2L126.2 281.8L127.3 281.4L128.5 281.1L129.6 280.7L130.7 280.3L131.8 279.9L133.0 279.5L134.1 279.1L135.2 278.7L136.3 278.3L137.5 277.9L138.6 277.5L139.7 277.1L140.8 276.7L142.0 276.3L143.1 275.8L144.2 275.4L145.3 274.9L146.5 274.5L147.6 274.0L148.7 273.6L149.8 273.1L151.0 272.7L152.1 272.2L153.2 271.7L154.4 271.2L155.5 270.8L156.6 270.3L157.7 269.8L158.9 269.3L160.0 268.8L161.1 268.3L162.2 267.8L163.4 267.2L164.5 266.7L165.6 266.2L166.7 265.6L167.9 265.1L169.0 264.5L170.1 264.0L171.2 263.4L172.4 262.8L173.5 262.2L174.6 261.5L175.7 260.9L176.9 260.2L178.0 259.5L179.1 258.9L180.2 258.2L181.4 257.4L182.5 256.7L183.6 255.9L184.7 255.1L185.9 254.4L187.0 253.7L188.1 253.0L189.2 252.3L190.4 251.7L191.5 251.1L192.6 250.7L193.7 250.4L194.9 250.2L196.0 250.1L197.1 250.0L198.2 249.9L199.4 250.0L200.5 250.2L201.6 250.5L202.8 251.0L203.9 251.6L205.0 252.3L206.1 253.1L207.3 253.9L208.4 254.8L209.5 255.7L210.6 256.7L211.8 257.8L212.9 258.9L214.0 260.1L215.1 261.1L216.3 262.2L217.4 263.1L218.5 264.0L219.6 264.8L220.8 265.7L221.9 266.5L223.0 267.3L224.1 268.1L225.3 268.9L226.4 269.7L227.5 270.5L228.6 271.3L229.8 272.0L230.9 272.7L232.0 273.5L233.1 274.2L234.3 274.8L235.4 275.5L236.5 276.2L237.6 276.8L238.8 277.4L239.9 278.1L241.0 278.7L242.1 279.3L243.3 280.0L244.4 280.6L245.5 281.1L246.7 281.6L247.8 282.1L248.9 282.5L250.0 282.8L251.2 283.2L252.3 283.5L253.4 283.7L254.5 284.0L255.7 284.2L256.8 284.4L257.9 284.5L259.0 284.7L260.2 284.8L261.3 284.9L262.4 285.0L263.5 285.0L264.7 285.1L265.8 285.1L266.9 285.1L268.0 285.1L269.2 285.0L270.3 285.0L271.4 284.8L272.5 284.6L273.7 284.4L274.8 284.1L275.9 283.8L277.0 283.5L278.2 283.2L279.3 282.8L280.4 282.5L281.5 282.2L282.7 281.8L283.8 281.5L284.9 281.1L286.0 280.7L287.2 280.2L288.3 279.8" fill="none" stroke="#6a7ab8" stroke-width="1.1"/><path d="M64.3 299.8L65.4 299.4L66.6 299.0L67.7 298.6L68.8 298.2L69.9 297.8L71.1 297.4L72.2 297.0L73.3 296.6L74.4 296.2L75.6 295.8L76.7 295.4L77.8 295.0L78.9 294.6L80.1 294.3L81.2 293.9L82.3 293.6L83.4 293.2L84.6 292.9L85.7 292.5L86.8 292.2L87.9 291.9L89.1 291.6L90.2 291.3L91.3 291.0L92.4 290.7L93.6 290.4L94.7 290.1L95.8 289.8L96.9 289.5L98.1 289.2L99.2 289.0L100.3 288.7L101.4 288.4L102.6 288.2L103.7 287.9L104.8 287.6L105.9 287.4L107.1 287.1L108.2 286.9L109.3 286.6L110.5 286.3L111.6 286.1L112.7 285.8L113.8 285.5L115.0 285.2L116.1 285.0L117.2 284.7L118.3 284.4L119.5 284.1L120.6 283.8L121.7 283.5L122.8 283.1L124.0 282.8L125.1 282.5L126.2 282.1L127.3 281.8L128.5 281.4L129.6 281.1L130.7 280.7L131.8 280.3L133.0 280.0L134.1 279.6L135.2 279.2L136.3 278.8L137.5 278.4L138.6 278.1L139.7 277.7L140.8 277.2L142.0 276.8L143.1 276.4L144.2 276.0L145.3 275.6L146.5 275.1L147.6 274.7L148.7 274.3L149.8 273.8L151.0 273.4L152.1 272.9L153.2 272.5L154.4 272.0L155.5 271.6L156.6 271.1L157.7 270.6L158.9 270.1L160.0 269.6L161.1 269.1L162.2 268.6L163.4 268.1L164.5 267.6L165.6 267.1L166.7 266.6L167.9 266.1L169.0 265.5L170.1 265.0L171.2 264.4L172.4 263.8L173.5 263.2L174.6 262.6L175.7 261.9L176.9 261.3L178.0 260.6L179.1 260.0L180.2 259.3L181.4 258.6L182.5 257.8L183.6 257.1L184.7 256.3L185.9 255.6L187.0 254.9L188.1 254.2L189.2 253.6L190.4 252.9L191.5 252.4L192.6 251.9L193.7 251.6L194.9 251.4L196.0 251.2L197.1 251.1L198.2 251.1L199.4 251.1L200.5 251.3L201.6 251.6L202.8 252.0L203.9 252.6L205.0 253.3L206.1 254.0L207.3 254.8L208.4 255.7L209.5 256.6L210.6 257.6L211.8 258.6L212.9 259.7L214.0 260.8L215.1 261.9L216.3 262.9L217.4 263.8L218.5 264.7L219.6 265.5L220.8 266.4L221.9 267.2L223.0 268.0L224.1 268.8L225.3 269.6L226.4 270.4L227.5 271.2L228.6 272.0L229.8 272.7L230.9 273.4L232.0 274.1L233.1 274.8L234.3 275.5L235.4 276.2L236.5 276.8L237.6 277.5L238.8 278.1L239.9 278.7L241.0 279.4L242.1 280.0L243.3 280.6L244.4 281.2L245.5 281.8L246.7 282.3L247.8 282.8L248.9 283.2L250.0 283.6L251.2 283.9L252.3 284.2L253.4 284.5L254.5 284.8L255.7 285.0L256.8 285.2L257.9 285.4L259.0 285.5L260.2 285.7L261.3 285.8L262.4 285.9L263.5 285.9L264.7 286.0L265.8 286.0L266.9 286.0L268.0 286.0L269.2 286.0L270.3 286.0L271.4 285.9L272.5 285.7L273.7 285.5L274.8 285.3L275.9 285.0L277.0 284.7L278.2 284.5L279.3 284.2L280.4 283.9L281.5 283.6L282.7 283.3L283.8 283.0L284.9 282.7L286.0 282.3L287.2 281.9L288.3 281.6" fill="none" stroke="#a0a050" stroke-width="1.1"/><path d="M64.3 299.9L65.4 299.4L66.6 299.0L67.7 298.6L68.8 298.2L69.9 297.8L71.1 297.4L72.2 297.0L73.3 296.6L74.4 296.2L75.6 295.8L76.7 295.4L77.8 295.1L78.9 294.7L80.1 294.3L81.2 294.0L82.3 293.6L83.4 293.3L84.6 292.9L85.7 292.6L86.8 292.3L87.9 291.9L89.1 291.6L90.2 291.3L91.3 291.0L92.4 290.7L93.6 290.5L94.7 290.2L95.8 289.9L96.9 289.6L98.1 289.3L99.2 289.1L100.3 288.8L101.4 288.5L102.6 288.3L103.7 288.0L104.8 287.8L105.9 287.5L107.1 287.3L108.2 287.0L109.3 286.8L110.5 286.5L111.6 286.3L112.7 286.0L113.8 285.7L115.0 285.5L116.1 285.2L117.2 284.9L118.3 284.6L119.5 284.3L120.6 284.0L121.7 283.7L122.8 283.4L124.0 283.1L125.1 282.8L126.2 282.5L127.3 282.1L128.5 281.8L129.6 281.4L130.7 281.1L131.8 280.7L133.0 280.4L134.1 280.0L135.2 279.7L136.3 279.3L137.5 278.9L138.6 278.6L139.7 278.2L140.8 277.8L142.0 277.4L143.1 277.0L144.2 276.6L145.3 276.2L146.5 275.8L147.6 275.4L148.7 275.0L149.8 274.5L151.0 274.1L152.1 273.7L153.2 273.2L154.4 272.8L155.5 272.3L156.6 271.9L157.7 271.4L158.9 270.9L160.0 270.5L161.1 270.0L162.2 269.5L163.4 269.0L164.5 268.5L165.6 268.0L166.7 267.5L167.9 267.0L169.0 266.5L170.1 265.9L171.2 265.4L172.4 264.8L173.5 264.2L174.6 263.6L175.7 263.0L176.9 262.3L178.0 261.7L179.1 261.0L180.2 260.4L181.4 259.7L182.5 259.0L183.6 258.2L184.7 257.5L185.9 256.8L187.0 256.1L188.1 255.5L189.2 254.8L190.4 254.1L191.5 253.6L192.6 253.1L193.7 252.8L194.9 252.5L196.0 252.4L197.1 252.3L198.2 252.2L199.4 252.2L200.5 252.3L201.6 252.6L202.8 253.0L203.9 253.6L205.0 254.2L206.1 255.0L207.3 255.8L208.4 256.5L209.5 257.4L210.6 258.4L211.8 259.4L212.9 260.5L214.0 261.6L215.1 262.6L216.3 263.6L217.4 264.6L218.5 265.4L219.6 266.3L220.8 267.1L221.9 267.9L223.0 268.7L224.1 269.5L225.3 270.3L226.4 271.1L227.5 271.9L228.6 272.6L229.8 273.4L230.9 274.1L232.0 274.8L233.1 275.5L234.3 276.2L235.4 276.8L236.5 277.5L237.6 278.1L238.8 278.8L239.9 279.4L241.0 280.0L242.1 280.7L243.3 281.3L244.4 281.9L245.5 282.5L246.7 283.0L247.8 283.5L248.9 283.9L250.0 284.3L251.2 284.7L252.3 285.0L253.4 285.3L254.5 285.6L255.7 285.8L256.8 286.0L257.9 286.2L259.0 286.4L260.2 286.5L261.3 286.6L262.4 286.7L263.5 286.8L264.7 286.9L265.8 286.9L266.9 287.0L268.0 287.0L269.2 287.0L270.3 287.0L271.4 286.9L272.5 286.8L273.7 286.6L274.8 286.4L275.9 286.2L277.0 286.0L278.2 285.8L279.3 285.5L280.4 285.3L281.5 285.1L282.7 284.8L283.8 284.5L284.9 284.2L286.0 283.9L287.2 283.6L288.3 283.3" fill="none" stroke="#9a5a6a" stroke-width="1.1"/><path d="M64.3 299.9L65.4 299.5L66.6 299.1L67.7 298.7L68.8 298.2L69.9 297.8L71.1 297.4L72.2 297.0L73.3 296.6L74.4 296.2L75.6 295.8L76.7 295.5L77.8 295.1L78.9 294.7L80.1 294.4L81.2 294.0L82.3 293.6L83.4 293.3L84.6 293.0L85.7 292.6L86.8 292.3L87.9 292.0L89.1 291.7L90.2 291.4L91.3 291.1L92.4 290.8L93.6 290.5L94.7 290.3L95.8 290.0L96.9 289.7L98.1 289.4L99.2 289.2L100.3 288.9L101.4 288.7L102.6 288.4L103.7 288.2L104.8 287.9L105.9 287.7L107.1 287.4L108.2 287.2L109.3 286.9L110.5 286.7L111.6 286.4L112.7 286.2L113.8 285.9L115.0 285.7L116.1 285.4L117.2 285.1L118.3 284.9L119.5 284.6L120.6 284.3L121.7 284.0L122.8 283.7L124.0 283.4L125.1 283.1L126.2 282.8L127.3 282.4L128.5 282.1L129.6 281.8L130.7 281.5L131.8 281.1L133.0 280.8L134.1 280.5L135.2 280.1L136.3 279.8L137.5 279.4L138.6 279.1L139.7 278.7L140.8 278.3L142.0 278.0L143.1 277.6L144.2 277.2L145.3 276.8L146.5 276.4L147.6 276.0L148.7 275.6L149.8 275.2L151.0 274.8L152.1 274.4L153.2 273.9L154.4 273.5L155.5 273.1L156.6 272.6L157.7 272.2L158.9 271.7L160.0 271.3L161.1 270.8L162.2 270.4L163.4 269.9L164.5 269.4L165.6 268.9L166.7 268.4L167.9 267.9L169.0 267.4L170.1 266.9L171.2 266.3L172.4 265.8L173.5 265.2L174.6 264.6L175.7 264.0L176.9 263.4L178.0 262.7L179.1 262.1L180.2 261.5L181.4 260.8L182.5 260.1L183.6 259.4L184.7 258.7L185.9 258.0L187.0 257.3L188.1 256.6L189.2 256.0L190.4 255.3L191.5 254.7L192.6 254.3L193.7 253.9L194.9 253.7L196.0 253.5L197.1 253.4L198.2 253.3L199.4 253.3L200.5 253.4L201.6 253.6L202.8 254.0L203.9 254.5L205.0 255.2L206.1 255.9L207.3 256.6L208.4 257.4L209.5 258.3L210.6 259.2L211.8 260.2L212.9 261.3L214.0 262.3L215.1 263.4L216.3 264.4L217.4 265.3L218.5 266.1L219.6 266.9L220.8 267.8L221.9 268.6L223.0 269.4L224.1 270.2L225.3 271.0L226.4 271.8L227.5 272.5L228.6 273.3L229.8 274.0L230.9 274.7L232.0 275.5L233.1 276.2L234.3 276.8L235.4 277.5L236.5 278.1L237.6 278.8L238.8 279.4L239.9 280.0L241.0 280.7L242.1 281.3L243.3 282.0L244.4 282.6L245.5 283.1L246.7 283.7L247.8 284.2L248.9 284.6L250.0 285.0L251.2 285.4L252.3 285.7L253.4 286.1L254.5 286.3L255.7 286.6L256.8 286.8L257.9 287.0L259.0 287.2L260.2 287.3L261.3 287.5L262.4 287.6L263.5 287.7L264.7 287.8L265.8 287.8L266.9 287.9L268.0 287.9L269.2 287.9L270.3 287.9L271.4 287.9L272.5 287.8L273.7 287.7L274.8 287.5L275.9 287.4L277.0 287.2L278.2 287.0L279.3 286.8L280.4 286.6L281.5 286.4L282.7 286.2L283.8 286.0L284.9 285.8L286.0 285.5L287.2 285.2L288.3 285.0" fill="none" stroke="#60a070" stroke-width="1.1"/><path d="M64.3 299.9L65.4 299.5L66.6 299.1L67.7 298.7L68.8 298.3L69.9 297.9L71.1 297.5L72.2 297.1L73.3 296.7L74.4 296.3L75.6 295.9L76.7 295.5L77.8 295.1L78.9 294.8L80.1 294.4L81.2 294.0L82.3 293.7L83.4 293.3L84.6 293.0L85.7 292.7L86.8 292.4L87.9 292.1L89.1 291.8L90.2 291.5L91.3 291.2L92.4 290.9L93.6 290.6L94.7 290.3L95.8 290.1L96.9 289.8L98.1 289.5L99.2 289.3L100.3 289.0L101.4 288.8L102.6 288.5L103.7 288.3L104.8 288.1L105.9 287.8L107.1 287.6L108.2 287.3L109.3 287.1L110.5 286.9L111.6 286.6L112.7 286.4L113.8 286.1L115.0 285.9L116.1 285.6L117.2 285.4L118.3 285.1L119.5 284.8L120.6 284.5L121.7 284.3L122.8 284.0L124.0 283.7L125.1 283.4L126.2 283.1L127.3 282.8L128.5 282.5L129.6 282.2L130.7 281.8L131.8 281.5L133.0 281.2L134.1 280.9L135.2 280.6L136.3 280.2L137.5 279.9L138.6 279.6L139.7 279.2L140.8 278.9L142.0 278.5L143.1 278.1L144.2 277.8L145.3 277.4L146.5 277.0L147.6 276.6L148.7 276.3L149.8 275.9L151.0 275.5L152.1 275.1L153.2 274.7L154.4 274.2L155.5 273.8L156.6 273.4L157.7 273.0L158.9 272.5L160.0 272.1L161.1 271.6L162.2 271.2L163.4 270.7L164.5 270.3L165.6 269.8L166.7 269.3L167.9 268.8L169.0 268.3L170.1 267.8L171.2 267.3L172.4 266.7L173.5 266.2L174.6 265.6L175.7 265.0L176.9 264.4L178.0 263.8L179.1 263.1L180.2 262.5L181.4 261.8L182.5 261.2L183.6 260.5L184.7 259.8L185.9 259.1L187.0 258.5L188.1 257.8L189.2 257.1L190.4 256.5L191.5 255.9L192.6 255.4L193.7 255.1L194.9 254.8L196.0 254.6L197.1 254.5L198.2 254.3L199.4 254.3L200.5 254.4L201.6 254.6L202.8 255.0L203.9 255.5L205.0 256.1L206.1 256.8L207.3 257.5L208.4 258.2L209.5 259.1L210.6 260.0L211.8 261.0L212.9 262.0L214.0 263.1L215.1 264.1L216.3 265.1L217.4 266.0L218.5 266.8L219.6 267.6L220.8 268.4L221.9 269.2L223.0 270.1L224.1 270.8L225.3 271.6L226.4 272.4L227.5 273.2L228.6 273.9L229.8 274.7L230.9 275.4L232.0 276.1L233.1 276.8L234.3 277.5L235.4 278.1L236.5 278.8L237.6 279.4L238.8 280.0L239.9 280.7L241.0 281.3L242.1 282.0L243.3 282.6L244.4 283.2L245.5 283.8L246.7 284.3L247.8 284.8L248.9 285.3L250.0 285.7L251.2 286.1L252.3 286.5L253.4 286.8L254.5 287.1L255.7 287.3L256.8 287.5L257.9 287.8L259.0 287.9L260.2 288.1L261.3 288.3L262.4 288.4L263.5 288.5L264.7 288.6L265.8 288.7L266.9 288.8L268.0 288.8L269.2 288.9L270.3 288.9L271.4 288.9L272.5 288.8L273.7 288.7L274.8 288.6L275.9 288.5L277.0 288.4L278.2 288.2L279.3 288.1L280.4 288.0L281.5 287.8L282.7 287.6L283.8 287.5L284.9 287.3L286.0 287.1L287.2 286.8L288.3 286.6" fill="none" stroke="#c89860" stroke-width="1.1"/><path d="M64.3 300.0L65.4 299.6L66.6 299.1L67.7 298.7L68.8 298.3L69.9 297.9L71.1 297.5L72.2 297.1L73.3 296.7L74.4 296.3L75.6 295.9L76.7 295.5L77.8 295.2L78.9 294.8L80.1 294.4L81.2 294.1L82.3 293.7L83.4 293.4L84.6 293.1L85.7 292.7L86.8 292.4L87.9 292.1L89.1 291.8L90.2 291.5L91.3 291.2L92.4 291.0L93.6 290.7L94.7 290.4L95.8 290.2L96.9 289.9L98.1 289.6L99.2 289.4L100.3 289.1L101.4 288.9L102.6 288.7L103.7 288.4L104.8 288.2L105.9 288.0L107.1 287.7L108.2 287.5L109.3 287.3L110.5 287.0L111.6 286.8L112.7 286.5L113.8 286.3L115.0 286.1L116.1 285.8L117.2 285.6L118.3 285.3L119.5 285.1L120.6 284.8L121.7 284.5L122.8 284.2L124.0 284.0L125.1 283.7L126.2 283.4L127.3 283.1L128.5 282.8L129.6 282.5L130.7 282.2L131.8 281.9L133.0 281.6L134.1 281.3L135.2 281.0L136.3 280.7L137.5 280.4L138.6 280.0L139.7 279.7L140.8 279.4L142.0 279.0L143.1 278.7L144.2 278.3L145.3 278.0L146.5 277.6L147.6 277.3L148.7 276.9L149.8 276.5L151.0 276.1L152.1 275.7L153.2 275.4L154.4 275.0L155.5 274.6L156.6 274.1L157.7 273.7L158.9 273.3L160.0 272.9L161.1 272.4L162.2 272.0L163.4 271.6L164.5 271.1L165.6 270.6L166.7 270.2L167.9 269.7L169.0 269.2L170.1 268.7L171.2 268.2L172.4 267.7L173.5 267.1L174.6 266.5L175.7 266.0L176.9 265.4L178.0 264.8L179.1 264.1L180.2 263.5L181.4 262.9L182.5 262.2L183.6 261.6L184.7 260.9L185.9 260.3L187.0 259.6L188.1 258.9L189.2 258.3L190.4 257.6L191.5 257.0L192.6 256.5L193.7 256.2L194.9 255.9L196.0 255.7L197.1 255.5L198.2 255.4L199.4 255.3L200.5 255.4L201.6 255.6L202.8 255.9L203.9 256.4L205.0 257.0L206.1 257.7L207.3 258.4L208.4 259.1L209.5 259.9L210.6 260.8L211.8 261.7L212.9 262.8L214.0 263.8L215.1 264.8L216.3 265.7L217.4 266.6L218.5 267.5L219.6 268.3L220.8 269.1L221.9 269.9L223.0 270.7L224.1 271.5L225.3 272.3L226.4 273.0L227.5 273.8L228.6 274.5L229.8 275.3L230.9 276.0L232.0 276.7L233.1 277.4L234.3 278.1L235.4 278.8L236.5 279.4L237.6 280.0L238.8 280.7L239.9 281.3L241.0 281.9L242.1 282.6L243.3 283.2L244.4 283.8L245.5 284.4L246.7 285.0L247.8 285.5L248.9 285.9L250.0 286.4L251.2 286.8L252.3 287.2L253.4 287.5L254.5 287.8L255.7 288.1L256.8 288.3L257.9 288.5L259.0 288.7L260.2 288.9L261.3 289.1L262.4 289.2L263.5 289.3L264.7 289.4L265.8 289.5L266.9 289.6L268.0 289.7L269.2 289.8L270.3 289.8L271.4 289.8L272.5 289.8L273.7 289.8L274.8 289.7L275.9 289.6L277.0 289.5L278.2 289.4L279.3 289.3L280.4 289.2L281.5 289.1L282.7 289.0L283.8 288.9L284.9 288.7L286.0 288.6L287.2 288.4L288.3 288.2" fill="none" stroke="#8a6a9a" stroke-width="1.1"/><path d="M64.3 300.0L65.4 299.6L66.6 299.2L67.7 298.8L68.8 298.3L69.9 297.9L71.1 297.5L72.2 297.1L73.3 296.7L74.4 296.3L75.6 296.0L76.7 295.6L77.8 295.2L78.9 294.8L80.1 294.5L81.2 294.1L82.3 293.8L83.4 293.4L84.6 293.1L85.7 292.8L86.8 292.5L87.9 292.2L89.1 291.9L90.2 291.6L91.3 291.3L92.4 291.0L93.6 290.8L94.7 290.5L95.8 290.2L96.9 290.0L98.1 289.7L99.2 289.5L100.3 289.2L101.4 289.0L102.6 288.8L103.7 288.5L104.8 288.3L105.9 288.1L107.1 287.9L108.2 287.6L109.3 287.4L110.5 287.2L111.6 287.0L112.7 286.7L113.8 286.5L115.0 286.3L116.1 286.0L117.2 285.8L118.3 285.5L119.5 285.3L120.6 285.0L121.7 284.8L122.8 284.5L124.0 284.2L125.1 284.0L126.2 283.7L127.3 283.4L128.5 283.1L129.6 282.8L130.7 282.6L131.8 282.3L133.0 282.0L134.1 281.7L135.2 281.4L136.3 281.1L137.5 280.8L138.6 280.5L139.7 280.2L140.8 279.9L142.0 279.6L143.1 279.2L144.2 278.9L145.3 278.6L146.5 278.2L147.6 277.9L148.7 277.5L149.8 277.2L151.0 276.8L152.1 276.4L153.2 276.0L154.4 275.7L155.5 275.3L156.6 274.9L157.7 274.5L158.9 274.1L160.0 273.6L161.1 273.2L162.2 272.8L163.4 272.4L164.5 271.9L165.6 271.5L166.7 271.0L167.9 270.6L169.0 270.1L170.1 269.6L171.2 269.1L172.4 268.6L173.5 268.0L174.6 267.5L175.7 266.9L176.9 266.3L178.0 265.7L179.1 265.1L180.2 264.5L181.4 263.9L182.5 263.3L183.6 262.6L184.7 262.0L185.9 261.4L187.0 260.7L188.1 260.0L189.2 259.4L190.4 258.7L191.5 258.1L192.6 257.6L193.7 257.2L194.9 257.0L196.0 256.8L197.1 256.6L198.2 256.4L199.4 256.3L200.5 256.4L201.6 256.5L202.8 256.8L203.9 257.3L205.0 257.9L206.1 258.5L207.3 259.2L208.4 259.9L209.5 260.6L210.6 261.5L211.8 262.5L212.9 263.5L214.0 264.5L215.1 265.5L216.3 266.4L217.4 267.3L218.5 268.1L219.6 268.9L220.8 269.7L221.9 270.5L223.0 271.3L224.1 272.1L225.3 272.9L226.4 273.7L227.5 274.4L228.6 275.2L229.8 275.9L230.9 276.6L232.0 277.3L233.1 278.0L234.3 278.7L235.4 279.4L236.5 280.0L237.6 280.6L238.8 281.3L239.9 281.9L241.0 282.6L242.1 283.2L243.3 283.8L244.4 284.4L245.5 285.0L246.7 285.6L247.8 286.1L248.9 286.6L250.0 287.0L251.2 287.5L252.3 287.9L253.4 288.2L254.5 288.5L255.7 288.8L256.8 289.0L257.9 289.3L259.0 289.5L260.2 289.7L261.3 289.8L262.4 290.0L263.5 290.1L264.7 290.3L265.8 290.4L266.9 290.5L268.0 290.6L269.2 290.7L270.3 290.7L271.4 290.8L272.5 290.8L273.7 290.8L274.8 290.7L275.9 290.7L277.0 290.7L278.2 290.6L279.3 290.6L280.4 290.5L281.5 290.4L282.7 290.4L283.8 290.3L284.9 290.2L286.0 290.1L287.2 289.9L288.3 289.8" fill="none" stroke="#5a9a9a" stroke-width="1.1"/><path d="M64.3 300.1L65.4 299.6L66.6 299.2L67.7 298.8L68.8 298.4L69.9 298.0L71.1 297.6L72.2 297.2L73.3 296.8L74.4 296.4L75.6 296.0L76.7 295.6L77.8 295.2L78.9 294.9L80.1 294.5L81.2 294.2L82.3 293.8L83.4 293.5L84.6 293.1L85.7 292.8L86.8 292.5L87.9 292.2L89.1 291.9L90.2 291.6L91.3 291.4L92.4 291.1L93.6 290.8L94.7 290.6L95.8 290.3L96.9 290.1L98.1 289.8L99.2 289.6L100.3 289.4L101.4 289.1L102.6 288.9L103.7 288.7L104.8 288.4L105.9 288.2L107.1 288.0L108.2 287.8L109.3 287.6L110.5 287.3L111.6 287.1L112.7 286.9L113.8 286.7L115.0 286.4L116.1 286.2L117.2 286.0L118.3 285.7L119.5 285.5L120.6 285.3L121.7 285.0L122.8 284.8L124.0 284.5L125.1 284.2L126.2 284.0L127.3 283.7L128.5 283.4L129.6 283.2L130.7 282.9L131.8 282.6L133.0 282.4L134.1 282.1L135.2 281.8L136.3 281.5L137.5 281.3L138.6 281.0L139.7 280.7L140.8 280.4L142.0 280.1L143.1 279.8L144.2 279.4L145.3 279.1L146.5 278.8L147.6 278.5L148.7 278.1L149.8 277.8L151.0 277.4L152.1 277.1L153.2 276.7L154.4 276.3L155.5 276.0L156.6 275.6L157.7 275.2L158.9 274.8L160.0 274.4L161.1 274.0L162.2 273.6L163.4 273.2L164.5 272.7L165.6 272.3L166.7 271.9L167.9 271.4L169.0 270.9L170.1 270.5L171.2 270.0L172.4 269.5L173.5 268.9L174.6 268.4L175.7 267.8L176.9 267.3L178.0 266.7L179.1 266.1L180.2 265.5L181.4 264.9L182.5 264.3L183.6 263.7L184.7 263.1L185.9 262.4L187.0 261.8L188.1 261.1L189.2 260.5L190.4 259.8L191.5 259.2L192.6 258.7L193.7 258.3L194.9 258.0L196.0 257.8L197.1 257.6L198.2 257.4L199.4 257.3L200.5 257.3L201.6 257.5L202.8 257.8L203.9 258.2L205.0 258.7L206.1 259.4L207.3 260.0L208.4 260.7L209.5 261.4L210.6 262.3L211.8 263.2L212.9 264.2L214.0 265.2L215.1 266.1L216.3 267.1L217.4 267.9L218.5 268.7L219.6 269.6L220.8 270.4L221.9 271.1L223.0 271.9L224.1 272.7L225.3 273.5L226.4 274.3L227.5 275.0L228.6 275.8L229.8 276.5L230.9 277.2L232.0 277.9L233.1 278.6L234.3 279.3L235.4 280.0L236.5 280.6L237.6 281.2L238.8 281.9L239.9 282.5L241.0 283.2L242.1 283.8L243.3 284.4L244.4 285.0L245.5 285.6L246.7 286.2L247.8 286.7L248.9 287.2L250.0 287.7L251.2 288.1L252.3 288.5L253.4 288.9L254.5 289.2L255.7 289.5L256.8 289.7L257.9 290.0L259.0 290.2L260.2 290.4L261.3 290.6L262.4 290.8L263.5 290.9L264.7 291.1L265.8 291.2L266.9 291.3L268.0 291.4L269.2 291.5L270.3 291.6L271.4 291.7L272.5 291.7L273.7 291.8L274.8 291.8L275.9 291.8L277.0 291.8L278.2 291.8L279.3 291.8L280.4 291.7L281.5 291.7L282.7 291.7L283.8 291.6L284.9 291.6L286.0 291.5L287.2 291.4L288.3 291.4" fill="none" stroke="#b08a60" stroke-width="1.1"/><path d="M64.3 300.1L65.4 299.7L66.6 299.2L67.7 298.8L68.8 298.4L69.9 298.0L71.1 297.6L72.2 297.2L73.3 296.8L74.4 296.4L75.6 296.0L76.7 295.6L77.8 295.3L78.9 294.9L80.1 294.5L81.2 294.2L82.3 293.8L83.4 293.5L84.6 293.2L85.7 292.9L86.8 292.6L87.9 292.3L89.1 292.0L90.2 291.7L91.3 291.4L92.4 291.2L93.6 290.9L94.7 290.6L95.8 290.4L96.9 290.2L98.1 289.9L99.2 289.7L100.3 289.5L101.4 289.2L102.6 289.0L103.7 288.8L104.8 288.6L105.9 288.4L107.1 288.1L108.2 287.9L109.3 287.7L110.5 287.5L111.6 287.3L112.7 287.1L113.8 286.9L115.0 286.6L116.1 286.4L117.2 286.2L118.3 286.0L119.5 285.7L120.6 285.5L121.7 285.3L122.8 285.0L124.0 284.8L125.1 284.5L126.2 284.3L127.3 284.0L128.5 283.8L129.6 283.5L130.7 283.3L131.8 283.0L133.0 282.7L134.1 282.5L135.2 282.2L136.3 282.0L137.5 281.7L138.6 281.4L139.7 281.1L140.8 280.9L142.0 280.6L143.1 280.3L144.2 280.0L145.3 279.7L146.5 279.4L147.6 279.0L148.7 278.7L149.8 278.4L151.0 278.1L152.1 277.7L153.2 277.4L154.4 277.0L155.5 276.6L156.6 276.3L157.7 275.9L158.9 275.5L160.0 275.1L161.1 274.7L162.2 274.3L163.4 273.9L164.5 273.5L165.6 273.1L166.7 272.7L167.9 272.2L169.0 271.8L170.1 271.3L171.2 270.9L172.4 270.4L173.5 269.8L174.6 269.3L175.7 268.8L176.9 268.2L178.0 267.6L179.1 267.1L180.2 266.5L181.4 265.9L182.5 265.3L183.6 264.7L184.7 264.1L185.9 263.5L187.0 262.9L188.1 262.2L189.2 261.5L190.4 260.9L191.5 260.3L192.6 259.8L193.7 259.4L194.9 259.0L196.0 258.8L197.1 258.6L198.2 258.4L199.4 258.3L200.5 258.3L201.6 258.4L202.8 258.6L203.9 259.1L205.0 259.6L206.1 260.2L207.3 260.8L208.4 261.4L209.5 262.2L210.6 263.0L211.8 263.9L212.9 264.9L214.0 265.8L215.1 266.8L216.3 267.7L217.4 268.6L218.5 269.4L219.6 270.2L220.8 271.0L221.9 271.8L223.0 272.5L224.1 273.3L225.3 274.1L226.4 274.9L227.5 275.6L228.6 276.3L229.8 277.1L230.9 277.8L232.0 278.5L233.1 279.2L234.3 279.9L235.4 280.5L236.5 281.2L237.6 281.8L238.8 282.5L239.9 283.1L241.0 283.7L242.1 284.4L243.3 285.0L244.4 285.6L245.5 286.2L246.7 286.8L247.8 287.4L248.9 287.9L250.0 288.3L251.2 288.8L252.3 289.2L253.4 289.6L254.5 289.9L255.7 290.2L256.8 290.5L257.9 290.7L259.0 290.9L260.2 291.1L261.3 291.3L262.4 291.5L263.5 291.7L264.7 291.8L265.8 292.0L266.9 292.1L268.0 292.3L269.2 292.4L270.3 292.5L271.4 292.6L272.5 292.7L273.7 292.7L274.8 292.8L275.9 292.8L277.0 292.9L278.2 292.9L279.3 292.9L280.4 292.9L281.5 293.0L282.7 293.0L283.8 293.0L284.9 293.0L286.0 292.9L287.2 292.9L288.3 292.9" fill="none" stroke="#7a5a9a" stroke-width="1.1"/><path d="M64.3 300.1L65.4 299.7L66.6 299.3L67.7 298.9L68.8 298.4L69.9 298.0L71.1 297.6L72.2 297.2L73.3 296.8L74.4 296.4L75.6 296.0L76.7 295.7L77.8 295.3L78.9 294.9L80.1 294.6L81.2 294.2L82.3 293.9L83.4 293.6L84.6 293.2L85.7 292.9L86.8 292.6L87.9 292.3L89.1 292.0L90.2 291.8L91.3 291.5L92.4 291.2L93.6 291.0L94.7 290.7L95.8 290.5L96.9 290.2L98.1 290.0L99.2 289.8L100.3 289.6L101.4 289.3L102.6 289.1L103.7 288.9L104.8 288.7L105.9 288.5L107.1 288.3L108.2 288.1L109.3 287.9L110.5 287.7L111.6 287.4L112.7 287.2L113.8 287.0L115.0 286.8L116.1 286.6L117.2 286.4L118.3 286.2L119.5 285.9L120.6 285.7L121.7 285.5L122.8 285.3L124.0 285.0L125.1 284.8L126.2 284.5L127.3 284.3L128.5 284.1L129.6 283.8L130.7 283.6L131.8 283.4L133.0 283.1L134.1 282.9L135.2 282.6L136.3 282.4L137.5 282.1L138.6 281.9L139.7 281.6L140.8 281.3L142.0 281.1L143.1 280.8L144.2 280.5L145.3 280.2L146.5 279.9L147.6 279.6L148.7 279.3L149.8 279.0L151.0 278.7L152.1 278.3L153.2 278.0L154.4 277.7L155.5 277.3L156.6 277.0L157.7 276.6L158.9 276.2L160.0 275.9L161.1 275.5L162.2 275.1L163.4 274.7L164.5 274.3L165.6 273.9L166.7 273.5L167.9 273.1L169.0 272.6L170.1 272.2L171.2 271.7L172.4 271.2L173.5 270.7L174.6 270.2L175.7 269.7L176.9 269.1L178.0 268.6L179.1 268.0L180.2 267.4L181.4 266.9L182.5 266.3L183.6 265.7L184.7 265.1L185.9 264.5L187.0 263.9L188.1 263.2L189.2 262.6L190.4 261.9L191.5 261.3L192.6 260.8L193.7 260.4L194.9 260.1L196.0 259.8L197.1 259.6L198.2 259.4L199.4 259.2L200.5 259.2L201.6 259.3L202.8 259.5L203.9 259.9L205.0 260.4L206.1 261.0L207.3 261.6L208.4 262.2L209.5 262.9L210.6 263.7L211.8 264.6L212.9 265.5L214.0 266.5L215.1 267.4L216.3 268.4L217.4 269.2L218.5 270.0L219.6 270.8L220.8 271.6L221.9 272.4L223.0 273.1L224.1 273.9L225.3 274.7L226.4 275.4L227.5 276.2L228.6 276.9L229.8 277.7L230.9 278.4L232.0 279.1L233.1 279.8L234.3 280.5L235.4 281.1L236.5 281.8L237.6 282.4L238.8 283.0L239.9 283.7L241.0 284.3L242.1 285.0L243.3 285.6L244.4 286.2L245.5 286.8L246.7 287.4L247.8 288.0L248.9 288.5L250.0 289.0L251.2 289.4L252.3 289.9L253.4 290.2L254.5 290.6L255.7 290.9L256.8 291.1L257.9 291.4L259.0 291.6L260.2 291.9L261.3 292.1L262.4 292.3L263.5 292.5L264.7 292.6L265.8 292.8L266.9 292.9L268.0 293.1L269.2 293.2L270.3 293.4L271.4 293.5L272.5 293.6L273.7 293.7L274.8 293.8L275.9 293.9L277.0 293.9L278.2 294.0L279.3 294.1L280.4 294.1L281.5 294.2L282.7 294.2L283.8 294.3L284.9 294.3L286.0 294.4L287.2 294.4L288.3 294.4" fill="none" stroke="#c07088" stroke-width="1.1"/><path d="M64.3 300.2L65.4 299.7L66.6 299.3L67.7 298.9L68.8 298.5L69.9 298.1L71.1 297.7L72.2 297.2L73.3 296.9L74.4 296.5L75.6 296.1L76.7 295.7L77.8 295.3L78.9 295.0L80.1 294.6L81.2 294.3L82.3 293.9L83.4 293.6L84.6 293.3L85.7 293.0L86.8 292.7L87.9 292.4L89.1 292.1L90.2 291.8L91.3 291.5L92.4 291.3L93.6 291.0L94.7 290.8L95.8 290.6L96.9 290.3L98.1 290.1L99.2 289.9L100.3 289.7L101.4 289.4L102.6 289.2L103.7 289.0L104.8 288.8L105.9 288.6L107.1 288.4L108.2 288.2L109.3 288.0L110.5 287.8L111.6 287.6L112.7 287.4L113.8 287.2L115.0 287.0L116.1 286.8L117.2 286.6L118.3 286.4L119.5 286.2L120.6 285.9L121.7 285.7L122.8 285.5L124.0 285.3L125.1 285.0L126.2 284.8L127.3 284.6L128.5 284.4L129.6 284.1L130.7 283.9L131.8 283.7L133.0 283.5L134.1 283.2L135.2 283.0L136.3 282.8L137.5 282.5L138.6 282.3L139.7 282.1L140.8 281.8L142.0 281.6L143.1 281.3L144.2 281.0L145.3 280.8L146.5 280.5L147.6 280.2L148.7 279.9L149.8 279.6L151.0 279.3L152.1 279.0L153.2 278.6L154.4 278.3L155.5 278.0L156.6 277.6L157.7 277.3L158.9 276.9L160.0 276.6L161.1 276.2L162.2 275.8L163.4 275.5L164.5 275.1L165.6 274.7L166.7 274.3L167.9 273.9L169.0 273.4L170.1 273.0L171.2 272.6L172.4 272.1L173.5 271.6L174.6 271.1L175.7 270.6L176.9 270.0L178.0 269.5L179.1 268.9L180.2 268.4L181.4 267.8L182.5 267.3L183.6 266.7L184.7 266.1L185.9 265.6L187.0 264.9L188.1 264.3L189.2 263.6L190.4 263.0L191.5 262.4L192.6 261.8L193.7 261.4L194.9 261.1L196.0 260.8L197.1 260.5L198.2 260.3L199.4 260.2L200.5 260.1L201.6 260.2L202.8 260.4L203.9 260.8L205.0 261.2L206.1 261.8L207.3 262.4L208.4 263.0L209.5 263.6L210.6 264.4L211.8 265.3L212.9 266.2L214.0 267.1L215.1 268.1L216.3 269.0L217.4 269.8L218.5 270.6L219.6 271.4L220.8 272.2L221.9 273.0L223.0 273.7L224.1 274.5L225.3 275.3L226.4 276.0L227.5 276.8L228.6 277.5L229.8 278.2L230.9 278.9L232.0 279.6L233.1 280.3L234.3 281.0L235.4 281.7L236.5 282.3L237.6 283.0L238.8 283.6L239.9 284.2L241.0 284.9L242.1 285.5L243.3 286.2L244.4 286.8L245.5 287.4L246.7 288.0L247.8 288.5L248.9 289.1L250.0 289.6L251.2 290.1L252.3 290.5L253.4 290.9L254.5 291.2L255.7 291.5L256.8 291.8L257.9 292.1L259.0 292.3L260.2 292.6L261.3 292.8L262.4 293.0L263.5 293.2L264.7 293.4L265.8 293.6L266.9 293.7L268.0 293.9L269.2 294.1L270.3 294.2L271.4 294.4L272.5 294.5L273.7 294.6L274.8 294.8L275.9 294.9L277.0 295.0L278.2 295.1L279.3 295.2L280.4 295.3L281.5 295.4L282.7 295.5L283.8 295.6L284.9 295.7L286.0 295.7L287.2 295.8L288.3 295.9" fill="none" stroke="#6a7ab8" stroke-width="1.1"/><defs><linearGradient id="gm" gradientUnits="userSpaceOnUse" x1="172" y1="0" x2="192" y2="0"><stop offset="0" stop-color="#2a2a90" stop-opacity="0"/><stop offset="1" stop-color="#2a2a90" stop-opacity="1"/></linearGradient></defs><path d="M172.4 264.4L173.5 264.1L174.6 263.8L175.7 263.5L176.9 263.2L178.0 263.0L179.1 262.7L180.2 262.4L181.4 262.2L182.5 261.9L183.6 261.6L184.7 261.4L185.9 261.1L187.0 260.8L188.1 260.6L189.2 260.4L190.4 260.2L191.5 260.1L192.6 259.9L193.7 259.8L194.9 259.7L196.0 259.6L197.1 259.5L198.2 259.4L199.4 259.4L200.5 259.4L201.6 259.5L202.8 259.8L203.9 260.2L205.0 260.6L206.1 261.1L207.3 261.6L208.4 262.2L209.5 262.9L210.6 263.7L211.8 264.7L212.9 265.7L214.0 266.8L215.1 267.8L216.3 268.8L217.4 269.7L218.5 270.5L219.6 271.3L220.8 272.1L221.9 272.9L223.0 273.7L224.1 274.5L225.3 275.2L226.4 276.0L227.5 276.7L228.6 277.4L229.8 278.1L230.9 278.8L232.0 279.5L233.1 280.2L234.3 280.9L235.4 281.5L236.5 282.2L237.6 282.8L238.8 283.5L239.9 284.1L241.0 284.8L242.1 285.4L243.3 286.1L244.4 286.7L245.5 287.4L246.7 288.0L247.8 288.6L248.9 289.1L250.0 289.7L251.2 290.2L252.3 290.6L253.4 291.0L254.5 291.4L255.7 291.7L256.8 292.0L257.9 292.3L259.0 292.5L260.2 292.8L261.3 293.0L262.4 293.2L263.5 293.4L264.7 293.6L265.8 293.8L266.9 294.0L268.0 294.2L269.2 294.4L270.3 294.5L271.4 294.7L272.5 294.9L273.7 295.1L274.8 295.2L275.9 295.4L277.0 295.5L278.2 295.7L279.3 295.8L280.4 296.0L281.5 296.1L282.7 296.2L283.8 296.4L284.9 296.5L286.0 296.6L287.2 296.7L288.3 296.8" fill="none" stroke="url(#gm)" stroke-width="1.9"/><path d="M64.3 300.0L65.4 299.6L66.6 299.2L67.7 298.8L68.8 298.5L69.9 298.1L71.1 297.7L72.2 297.3L73.3 297.0L74.4 296.6L75.6 296.2L76.7 295.8L77.8 295.5L78.9 295.1L80.1 294.8L81.2 294.4L82.3 294.0L83.4 293.7L84.6 293.3L85.7 293.0L86.8 292.6L87.9 292.3L89.1 291.9L90.2 291.6L91.3 291.2L92.4 290.9L93.6 290.6L94.7 290.3L95.8 290.0L96.9 289.7L98.1 289.4L99.2 289.1" fill="none" stroke="#2a2a90" stroke-width="1.9"/><path d="M64.3 298.7L65.4 298.3L66.6 297.9L67.7 297.6L68.8 297.2L69.9 296.8L71.1 296.4L72.2 296.0L73.3 295.6L74.4 295.2L75.6 294.8L76.7 294.4L77.8 294.0L78.9 293.6L80.1 293.2L81.2 292.8L82.3 292.4L83.4 292.0L84.6 291.6L85.7 291.1L86.8 290.7L87.9 290.3L89.1 289.9L90.2 289.5L91.3 289.1L92.4 288.6L93.6 288.2L94.7 287.8L95.8 287.3L96.9 286.9L98.1 286.5L99.2 286.0L100.3 285.6L101.4 285.1L102.6 284.7L103.7 284.3L104.8 283.8L105.9 283.4L107.1 283.0L108.2 282.5L109.3 282.0L110.5 281.6L111.6 281.1L112.7 280.6L113.8 280.1L115.0 279.5L116.1 279.0L117.2 278.5L118.3 277.9L119.5 277.3L120.6 276.7L121.7 276.1L122.8 275.5L124.0 274.8L125.1 274.1L126.2 273.4L127.3 272.6L128.5 271.8L129.6 271.0L130.7 270.2L131.8 269.4L133.0 268.5L134.1 267.7L135.2 266.8L136.3 266.0L137.5 265.1L138.6 264.2L139.7 263.3L140.8 262.4L142.0 261.5L143.1 260.5L144.2 259.6L145.3 258.7L146.5 257.8L147.6 256.9L148.7 256.0L149.8 255.1L151.0 254.2L152.1 253.3L153.2 252.4L154.4 251.5L155.5 250.6L156.6 249.7L157.7 248.8L158.9 247.9L160.0 247.0L161.1 246.1L162.2 245.2L163.4 244.3L164.5 243.4L165.6 242.5L166.7 241.6L167.9 240.6L169.0 239.7L170.1 238.7L171.2 237.8L172.4 236.8L173.5 235.9L174.6 234.9L175.7 233.9L176.9 232.9L178.0 231.8L179.1 230.7L180.2 229.7L181.4 228.5L182.5 227.2L183.6 225.8L184.7 224.4L185.9 223.2L187.0 222.3L188.1 221.5L189.2 220.8L190.4 220.2L191.5 219.7L192.6 219.6L193.7 219.7L194.9 219.9L196.0 220.2L197.1 220.5L198.2 220.9L199.4 221.6L200.5 222.5L201.6 223.6L202.8 224.8L203.9 225.9L205.0 227.3L206.1 228.7L207.3 230.3L208.4 232.0L209.5 233.7L210.6 235.4L211.8 237.1L212.9 238.7L214.0 240.3L215.1 241.8L216.3 243.2L217.4 244.4L218.5 245.5L219.6 246.5L220.8 247.6L221.9 248.5L223.0 249.5L224.1 250.4L225.3 251.4L226.4 252.2L227.5 253.1L228.6 253.9L229.8 254.7L230.9 255.5L232.0 256.2L233.1 256.9L234.3 257.6L235.4 258.3L236.5 258.9L237.6 259.5L238.8 260.2L239.9 260.8L241.0 261.5L242.1 262.1L243.3 262.7L244.4 263.2L245.5 263.6L246.7 263.9L247.8 264.0L248.9 264.0L250.0 264.0L251.2 263.9L252.3 263.9L253.4 263.8L254.5 263.8L255.7 263.7L256.8 263.6L257.9 263.5L259.0 263.4L260.2 263.2L261.3 263.0L262.4 262.6L263.5 262.3L264.7 261.9L265.8 261.4L266.9 261.0L268.0 260.4L269.2 259.9L270.3 259.2L271.4 258.3L272.5 257.1L273.7 255.8L274.8 254.4L275.9 252.9L277.0 251.4L278.2 249.8L279.3 248.3L280.4 246.9L281.5 245.3L282.7 243.7L283.8 242.1L284.9 240.4L286.0 238.6L287.2 236.8L288.3 235.0" fill="none" stroke="#2a2a90" stroke-width="1.9"/><rect x="55.70" y="1.00" width="233.30" height="304.80" fill="none" stroke="#5a5a5a" stroke-width="1.30"/><line x1="55.70" y1="147.10" x2="289.00" y2="147.10" stroke="#5a5a5a" stroke-width="1.30" /><line x1="63.48" y1="305.80" x2="63.48" y2="303.60" stroke="#5a5a5a" stroke-width="1.00" /><line x1="63.48" y1="1.00" x2="63.48" y2="3.20" stroke="#5a5a5a" stroke-width="1.00" /><line x1="63.48" y1="145.60" x2="63.48" y2="149.60" stroke="#5a5a5a" stroke-width="1.00" /><line x1="71.25" y1="305.80" x2="71.25" y2="303.60" stroke="#5a5a5a" stroke-width="1.00" /><line x1="71.25" y1="1.00" x2="71.25" y2="3.20" stroke="#5a5a5a" stroke-width="1.00" /><line x1="71.25" y1="145.60" x2="71.25" y2="149.60" stroke="#5a5a5a" stroke-width="1.00" /><line x1="79.03" y1="305.80" x2="79.03" y2="303.60" stroke="#5a5a5a" stroke-width="1.00" /><line x1="79.03" y1="1.00" x2="79.03" y2="3.20" stroke="#5a5a5a" stroke-width="1.00" /><line x1="79.03" y1="145.60" x2="79.03" y2="149.60" stroke="#5a5a5a" stroke-width="1.00" /><line x1="86.81" y1="305.80" x2="86.81" y2="303.60" stroke="#5a5a5a" stroke-width="1.00" /><line x1="86.81" y1="1.00" x2="86.81" y2="3.20" stroke="#5a5a5a" stroke-width="1.00" /><line x1="86.81" y1="145.60" x2="86.81" y2="149.60" stroke="#5a5a5a" stroke-width="1.00" /><line x1="94.58" y1="305.80" x2="94.58" y2="301.80" stroke="#5a5a5a" stroke-width="1.00" /><line x1="94.58" y1="1.00" x2="94.58" y2="5.00" stroke="#5a5a5a" stroke-width="1.00" /><line x1="94.58" y1="143.10" x2="94.58" y2="151.10" stroke="#5a5a5a" stroke-width="1.00" /><line x1="102.36" y1="305.80" x2="102.36" y2="303.60" stroke="#5a5a5a" stroke-width="1.00" /><line x1="102.36" y1="1.00" x2="102.36" y2="3.20" stroke="#5a5a5a" stroke-width="1.00" /><line x1="102.36" y1="145.60" x2="102.36" y2="149.60" stroke="#5a5a5a" stroke-width="1.00" /><line x1="110.14" y1="305.80" x2="110.14" y2="303.60" stroke="#5a5a5a" stroke-width="1.00" /><line x1="110.14" y1="1.00" x2="110.14" y2="3.20" stroke="#5a5a5a" stroke-width="1.00" /><line x1="110.14" y1="145.60" x2="110.14" y2="149.60" stroke="#5a5a5a" stroke-width="1.00" /><line x1="117.91" y1="305.80" x2="117.91" y2="303.60" stroke="#5a5a5a" stroke-width="1.00" /><line x1="117.91" y1="1.00" x2="117.91" y2="3.20" stroke="#5a5a5a" stroke-width="1.00" /><line x1="117.91" y1="145.60" x2="117.91" y2="149.60" stroke="#5a5a5a" stroke-width="1.00" /><line x1="125.69" y1="305.80" x2="125.69" y2="303.60" stroke="#5a5a5a" stroke-width="1.00" /><line x1="125.69" y1="1.00" x2="125.69" y2="3.20" stroke="#5a5a5a" stroke-width="1.00" /><line x1="125.69" y1="145.60" x2="125.69" y2="149.60" stroke="#5a5a5a" stroke-width="1.00" /><line x1="133.47" y1="305.80" x2="133.47" y2="301.80" stroke="#5a5a5a" stroke-width="1.00" /><line x1="133.47" y1="1.00" x2="133.47" y2="5.00" stroke="#5a5a5a" stroke-width="1.00" /><line x1="133.47" y1="143.10" x2="133.47" y2="151.10" stroke="#5a5a5a" stroke-width="1.00" /><line x1="141.24" y1="305.80" x2="141.24" y2="303.60" stroke="#5a5a5a" stroke-width="1.00" /><line x1="141.24" y1="1.00" x2="141.24" y2="3.20" stroke="#5a5a5a" stroke-width="1.00" /><line x1="141.24" y1="145.60" x2="141.24" y2="149.60" stroke="#5a5a5a" stroke-width="1.00" /><line x1="149.02" y1="305.80" x2="149.02" y2="303.60" stroke="#5a5a5a" stroke-width="1.00" /><line x1="149.02" y1="1.00" x2="149.02" y2="3.20" stroke="#5a5a5a" stroke-width="1.00" /><line x1="149.02" y1="145.60" x2="149.02" y2="149.60" stroke="#5a5a5a" stroke-width="1.00" /><line x1="156.80" y1="305.80" x2="156.80" y2="303.60" stroke="#5a5a5a" stroke-width="1.00" /><line x1="156.80" y1="1.00" x2="156.80" y2="3.20" stroke="#5a5a5a" stroke-width="1.00" /><line x1="156.80" y1="145.60" x2="156.80" y2="149.60" stroke="#5a5a5a" stroke-width="1.00" /><line x1="164.57" y1="305.80" x2="164.57" y2="303.60" stroke="#5a5a5a" stroke-width="1.00" /><line x1="164.57" y1="1.00" x2="164.57" y2="3.20" stroke="#5a5a5a" stroke-width="1.00" /><line x1="164.57" y1="145.60" x2="164.57" y2="149.60" stroke="#5a5a5a" stroke-width="1.00" /><line x1="172.35" y1="305.80" x2="172.35" y2="301.80" stroke="#5a5a5a" stroke-width="1.00" /><line x1="172.35" y1="1.00" x2="172.35" y2="5.00" stroke="#5a5a5a" stroke-width="1.00" /><line x1="172.35" y1="143.10" x2="172.35" y2="151.10" stroke="#5a5a5a" stroke-width="1.00" /><line x1="180.13" y1="305.80" x2="180.13" y2="303.60" stroke="#5a5a5a" stroke-width="1.00" /><line x1="180.13" y1="1.00" x2="180.13" y2="3.20" stroke="#5a5a5a" stroke-width="1.00" /><line x1="180.13" y1="145.60" x2="180.13" y2="149.60" stroke="#5a5a5a" stroke-width="1.00" /><line x1="187.90" y1="305.80" x2="187.90" y2="303.60" stroke="#5a5a5a" stroke-width="1.00" /><line x1="187.90" y1="1.00" x2="187.90" y2="3.20" stroke="#5a5a5a" stroke-width="1.00" /><line x1="187.90" y1="145.60" x2="187.90" y2="149.60" stroke="#5a5a5a" stroke-width="1.00" /><line x1="195.68" y1="305.80" x2="195.68" y2="303.60" stroke="#5a5a5a" stroke-width="1.00" /><line x1="195.68" y1="1.00" x2="195.68" y2="3.20" stroke="#5a5a5a" stroke-width="1.00" /><line x1="195.68" y1="145.60" x2="195.68" y2="149.60" stroke="#5a5a5a" stroke-width="1.00" /><line x1="203.46" y1="305.80" x2="203.46" y2="303.60" stroke="#5a5a5a" stroke-width="1.00" /><line x1="203.46" y1="1.00" x2="203.46" y2="3.20" stroke="#5a5a5a" stroke-width="1.00" /><line x1="203.46" y1="145.60" x2="203.46" y2="149.60" stroke="#5a5a5a" stroke-width="1.00" /><line x1="211.23" y1="305.80" x2="211.23" y2="301.80" stroke="#5a5a5a" stroke-width="1.00" /><line x1="211.23" y1="1.00" x2="211.23" y2="5.00" stroke="#5a5a5a" stroke-width="1.00" /><line x1="211.23" y1="143.10" x2="211.23" y2="151.10" stroke="#5a5a5a" stroke-width="1.00" /><line x1="219.01" y1="305.80" x2="219.01" y2="303.60" stroke="#5a5a5a" stroke-width="1.00" /><line x1="219.01" y1="1.00" x2="219.01" y2="3.20" stroke="#5a5a5a" stroke-width="1.00" /><line x1="219.01" y1="145.60" x2="219.01" y2="149.60" stroke="#5a5a5a" stroke-width="1.00" /><line x1="226.79" y1="305.80" x2="226.79" y2="303.60" stroke="#5a5a5a" stroke-width="1.00" /><line x1="226.79" y1="1.00" x2="226.79" y2="3.20" stroke="#5a5a5a" stroke-width="1.00" /><line x1="226.79" y1="145.60" x2="226.79" y2="149.60" stroke="#5a5a5a" stroke-width="1.00" /><line x1="234.56" y1="305.80" x2="234.56" y2="303.60" stroke="#5a5a5a" stroke-width="1.00" /><line x1="234.56" y1="1.00" x2="234.56" y2="3.20" stroke="#5a5a5a" stroke-width="1.00" /><line x1="234.56" y1="145.60" x2="234.56" y2="149.60" stroke="#5a5a5a" stroke-width="1.00" /><line x1="242.34" y1="305.80" x2="242.34" y2="303.60" stroke="#5a5a5a" stroke-width="1.00" /><line x1="242.34" y1="1.00" x2="242.34" y2="3.20" stroke="#5a5a5a" stroke-width="1.00" /><line x1="242.34" y1="145.60" x2="242.34" y2="149.60" stroke="#5a5a5a" stroke-width="1.00" /><line x1="250.12" y1="305.80" x2="250.12" y2="301.80" stroke="#5a5a5a" stroke-width="1.00" /><line x1="250.12" y1="1.00" x2="250.12" y2="5.00" stroke="#5a5a5a" stroke-width="1.00" /><line x1="250.12" y1="143.10" x2="250.12" y2="151.10" stroke="#5a5a5a" stroke-width="1.00" /><line x1="257.89" y1="305.80" x2="257.89" y2="303.60" stroke="#5a5a5a" stroke-width="1.00" /><line x1="257.89" y1="1.00" x2="257.89" y2="3.20" stroke="#5a5a5a" stroke-width="1.00" /><line x1="257.89" y1="145.60" x2="257.89" y2="149.60" stroke="#5a5a5a" stroke-width="1.00" /><line x1="265.67" y1="305.80" x2="265.67" y2="303.60" stroke="#5a5a5a" stroke-width="1.00" /><line x1="265.67" y1="1.00" x2="265.67" y2="3.20" stroke="#5a5a5a" stroke-width="1.00" /><line x1="265.67" y1="145.60" x2="265.67" y2="149.60" stroke="#5a5a5a" stroke-width="1.00" /><line x1="273.45" y1="305.80" x2="273.45" y2="303.60" stroke="#5a5a5a" stroke-width="1.00" /><line x1="273.45" y1="1.00" x2="273.45" y2="3.20" stroke="#5a5a5a" stroke-width="1.00" /><line x1="273.45" y1="145.60" x2="273.45" y2="149.60" stroke="#5a5a5a" stroke-width="1.00" /><line x1="281.22" y1="305.80" x2="281.22" y2="303.60" stroke="#5a5a5a" stroke-width="1.00" /><line x1="281.22" y1="1.00" x2="281.22" y2="3.20" stroke="#5a5a5a" stroke-width="1.00" /><line x1="281.22" y1="145.60" x2="281.22" y2="149.60" stroke="#5a5a5a" stroke-width="1.00" /><line x1="55.70" y1="2.77" x2="57.70" y2="2.77" stroke="#5a5a5a" stroke-width="1.00" /><line x1="55.70" y1="13.50" x2="59.70" y2="13.50" stroke="#5a5a5a" stroke-width="1.00" /><line x1="55.70" y1="24.23" x2="57.70" y2="24.23" stroke="#5a5a5a" stroke-width="1.00" /><line x1="55.70" y1="34.97" x2="59.70" y2="34.97" stroke="#5a5a5a" stroke-width="1.00" /><line x1="55.70" y1="45.70" x2="57.70" y2="45.70" stroke="#5a5a5a" stroke-width="1.00" /><line x1="55.70" y1="56.44" x2="59.70" y2="56.44" stroke="#5a5a5a" stroke-width="1.00" /><line x1="55.70" y1="67.17" x2="57.70" y2="67.17" stroke="#5a5a5a" stroke-width="1.00" /><line x1="55.70" y1="77.90" x2="59.70" y2="77.90" stroke="#5a5a5a" stroke-width="1.00" /><line x1="55.70" y1="88.64" x2="57.70" y2="88.64" stroke="#5a5a5a" stroke-width="1.00" /><line x1="55.70" y1="99.37" x2="59.70" y2="99.37" stroke="#5a5a5a" stroke-width="1.00" /><line x1="55.70" y1="110.10" x2="57.70" y2="110.10" stroke="#5a5a5a" stroke-width="1.00" /><line x1="55.70" y1="120.84" x2="59.70" y2="120.84" stroke="#5a5a5a" stroke-width="1.00" /><line x1="55.70" y1="131.57" x2="57.70" y2="131.57" stroke="#5a5a5a" stroke-width="1.00" /><line x1="55.70" y1="292.73" x2="57.70" y2="292.73" stroke="#5a5a5a" stroke-width="1.00" /><line x1="55.70" y1="279.56" x2="59.70" y2="279.56" stroke="#5a5a5a" stroke-width="1.00" /><line x1="55.70" y1="266.39" x2="57.70" y2="266.39" stroke="#5a5a5a" stroke-width="1.00" /><line x1="55.70" y1="253.22" x2="59.70" y2="253.22" stroke="#5a5a5a" stroke-width="1.00" /><line x1="55.70" y1="240.05" x2="57.70" y2="240.05" stroke="#5a5a5a" stroke-width="1.00" /><line x1="55.70" y1="226.88" x2="59.70" y2="226.88" stroke="#5a5a5a" stroke-width="1.00" /><line x1="55.70" y1="213.71" x2="57.70" y2="213.71" stroke="#5a5a5a" stroke-width="1.00" /><line x1="55.70" y1="200.54" x2="59.70" y2="200.54" stroke="#5a5a5a" stroke-width="1.00" /><line x1="55.70" y1="187.37" x2="57.70" y2="187.37" stroke="#5a5a5a" stroke-width="1.00" /><line x1="55.70" y1="174.20" x2="59.70" y2="174.20" stroke="#5a5a5a" stroke-width="1.00" /><line x1="55.70" y1="161.03" x2="57.70" y2="161.03" stroke="#5a5a5a" stroke-width="1.00" /><text x="51.60" y="17.00" font-size="13.30" text-anchor="end" fill="#111" >1750</text><text x="51.60" y="38.47" font-size="13.30" text-anchor="end" fill="#111" >1500</text><text x="51.60" y="59.94" font-size="13.30" text-anchor="end" fill="#111" >1250</text><text x="51.60" y="81.40" font-size="13.30" text-anchor="end" fill="#111" >1000</text><text x="51.60" y="102.87" font-size="13.30" text-anchor="end" fill="#111" >750</text><text x="51.60" y="124.34" font-size="13.30" text-anchor="end" fill="#111" >500</text><text x="51.60" y="145.81" font-size="13.30" text-anchor="end" fill="#111" >250</text><text x="51.60" y="177.90" font-size="13.30" text-anchor="end" fill="#111" >100</text><text x="51.60" y="204.24" font-size="13.30" text-anchor="end" fill="#111" >80</text><text x="51.60" y="230.58" font-size="13.30" text-anchor="end" fill="#111" >60</text><text x="51.60" y="256.92" font-size="13.30" text-anchor="end" fill="#111" >40</text><text x="51.60" y="283.26" font-size="13.30" text-anchor="end" fill="#111" >20</text><text x="51.60" y="309.60" font-size="13.30" text-anchor="end" fill="#111" >0</text><text x="55.70" y="321.80" font-size="13.30" text-anchor="middle" fill="#111" >0</text><text x="94.58" y="321.80" font-size="13.30" text-anchor="middle" fill="#111" >50</text><text x="133.47" y="321.80" font-size="13.30" text-anchor="middle" fill="#111" >100</text><text x="172.35" y="321.80" font-size="13.30" text-anchor="middle" fill="#111" >150</text><text x="211.23" y="321.80" font-size="13.30" text-anchor="middle" fill="#111" >200</text><text x="250.12" y="321.80" font-size="13.30" text-anchor="middle" fill="#111" >250</text><text x="289.00" y="321.80" font-size="13.30" text-anchor="middle" fill="#111" >300</text><text x="175.50" y="341.50" font-size="13.00" text-anchor="middle" fill="#111" >T (K)</text><text x="-0.50" y="74.20" font-size="19.00" text-anchor="start" fill="#111" >&#949;</text><polygon points="9.2,57.2 12.2,57.2 11.4,63.5 10.0,63.5" fill="#111"/><text x="2.50" y="221.20" font-size="19.00" text-anchor="start" fill="#111" >&#949;</text><polygon points="12.4,203.4 15.2,203.4 14.5,209.8 13.1,209.8" fill="#111"/><polygon points="17.0,203.4 19.9,203.4 19.2,209.8 17.8,209.8" fill="#111"/><text x="67.80" y="22.90" font-size="13.00" fill="#111" text-anchor="start">Pb(Fe<tspan font-size="9.00" dy="5">1/2</tspan><tspan dy="-5">Sb</tspan><tspan font-size="9.00" dy="5">1/2</tspan><tspan dy="-5">)O</tspan><tspan font-size="9.00" dy="5">3</tspan></text><text x="264.30" y="23.60" font-size="18.00" text-anchor="start" fill="#111" >a)</text><text x="266.30" y="177.60" font-size="18.00" text-anchor="start" fill="#111" >b)</text><text x="124.30" y="52.90" font-size="10.60" text-anchor="start" fill="#111" >1 Hz</text><text x="179.00" y="101.00" font-size="10.80" text-anchor="start" fill="#111" >1 MHz</text><text x="97.80" y="255.20" font-size="11.20" text-anchor="start" fill="#111" >1 Hz</text><text x="178.20" y="288.60" font-size="10.90" text-anchor="start" fill="#111" >1 MHz</text><line x1="148.10" y1="52.70" x2="182.05" y2="82.29" stroke="#111" stroke-width="1.00" /><polygon points="186.20,85.90 180.54,84.02 183.56,80.55" fill="#111"/><line x1="122.50" y1="254.70" x2="168.30" y2="282.45" stroke="#111" stroke-width="1.00" /><polygon points="173.00,285.30 167.10,284.42 169.49,280.48" fill="#111"/><rect x="93.20" y="157.00" width="88.20" height="64.00" fill="#fff" stroke="#333" stroke-width="1.0"/><line x1="137.20" y1="157.00" x2="137.20" y2="221.00" stroke="#555" stroke-width="1.00" /><line x1="93.20" y1="187.50" x2="181.40" y2="187.50" stroke="#555" stroke-width="1.00" /><line x1="98.80" y1="221.00" x2="98.80" y2="219.50" stroke="#333" stroke-width="0.70" /><line x1="98.80" y1="157.00" x2="98.80" y2="158.50" stroke="#333" stroke-width="0.70" /><line x1="103.60" y1="221.00" x2="103.60" y2="219.50" stroke="#333" stroke-width="0.70" /><line x1="103.60" y1="157.00" x2="103.60" y2="158.50" stroke="#333" stroke-width="0.70" /><line x1="108.40" y1="221.00" x2="108.40" y2="219.50" stroke="#333" stroke-width="0.70" /><line x1="108.40" y1="157.00" x2="108.40" y2="158.50" stroke="#333" stroke-width="0.70" /><line x1="113.20" y1="221.00" x2="113.20" y2="218.40" stroke="#333" stroke-width="0.70" /><line x1="113.20" y1="157.00" x2="113.20" y2="159.60" stroke="#333" stroke-width="0.70" /><line x1="118.00" y1="221.00" x2="118.00" y2="219.50" stroke="#333" stroke-width="0.70" /><line x1="118.00" y1="157.00" x2="118.00" y2="158.50" stroke="#333" stroke-width="0.70" /><line x1="122.80" y1="221.00" x2="122.80" y2="219.50" stroke="#333" stroke-width="0.70" /><line x1="122.80" y1="157.00" x2="122.80" y2="158.50" stroke="#333" stroke-width="0.70" /><line x1="127.60" y1="221.00" x2="127.60" y2="219.50" stroke="#333" stroke-width="0.70" /><line x1="127.60" y1="157.00" x2="127.60" y2="158.50" stroke="#333" stroke-width="0.70" /><line x1="132.40" y1="221.00" x2="132.40" y2="219.50" stroke="#333" stroke-width="0.70" /><line x1="132.40" y1="157.00" x2="132.40" y2="158.50" stroke="#333" stroke-width="0.70" /><line x1="137.20" y1="221.00" x2="137.20" y2="218.40" stroke="#333" stroke-width="0.70" /><line x1="137.20" y1="157.00" x2="137.20" y2="159.60" stroke="#333" stroke-width="0.70" /><line x1="142.00" y1="221.00" x2="142.00" y2="219.50" stroke="#333" stroke-width="0.70" /><line x1="142.00" y1="157.00" x2="142.00" y2="158.50" stroke="#333" stroke-width="0.70" /><line x1="146.80" y1="221.00" x2="146.80" y2="219.50" stroke="#333" stroke-width="0.70" /><line x1="146.80" y1="157.00" x2="146.80" y2="158.50" stroke="#333" stroke-width="0.70" /><line x1="151.60" y1="221.00" x2="151.60" y2="219.50" stroke="#333" stroke-width="0.70" /><line x1="151.60" y1="157.00" x2="151.60" y2="158.50" stroke="#333" stroke-width="0.70" /><line x1="156.40" y1="221.00" x2="156.40" y2="219.50" stroke="#333" stroke-width="0.70" /><line x1="156.40" y1="157.00" x2="156.40" y2="158.50" stroke="#333" stroke-width="0.70" /><line x1="161.20" y1="221.00" x2="161.20" y2="218.40" stroke="#333" stroke-width="0.70" /><line x1="161.20" y1="157.00" x2="161.20" y2="159.60" stroke="#333" stroke-width="0.70" /><line x1="166.00" y1="221.00" x2="166.00" y2="219.50" stroke="#333" stroke-width="0.70" /><line x1="166.00" y1="157.00" x2="166.00" y2="158.50" stroke="#333" stroke-width="0.70" /><line x1="170.80" y1="221.00" x2="170.80" y2="219.50" stroke="#333" stroke-width="0.70" /><line x1="170.80" y1="157.00" x2="170.80" y2="158.50" stroke="#333" stroke-width="0.70" /><line x1="175.60" y1="221.00" x2="175.60" y2="219.50" stroke="#333" stroke-width="0.70" /><line x1="175.60" y1="157.00" x2="175.60" y2="158.50" stroke="#333" stroke-width="0.70" /><line x1="180.40" y1="221.00" x2="180.40" y2="219.50" stroke="#333" stroke-width="0.70" /><line x1="180.40" y1="157.00" x2="180.40" y2="158.50" stroke="#333" stroke-width="0.70" /><line x1="93.20" y1="218.10" x2="94.70" y2="218.10" stroke="#333" stroke-width="0.70" /><line x1="181.40" y1="218.10" x2="179.90" y2="218.10" stroke="#333" stroke-width="0.70" /><line x1="93.20" y1="215.55" x2="94.70" y2="215.55" stroke="#333" stroke-width="0.70" /><line x1="181.40" y1="215.55" x2="179.90" y2="215.55" stroke="#333" stroke-width="0.70" /><line x1="93.20" y1="213.00" x2="95.80" y2="213.00" stroke="#333" stroke-width="0.70" /><line x1="181.40" y1="213.00" x2="178.80" y2="213.00" stroke="#333" stroke-width="0.70" /><line x1="93.20" y1="210.45" x2="94.70" y2="210.45" stroke="#333" stroke-width="0.70" /><line x1="181.40" y1="210.45" x2="179.90" y2="210.45" stroke="#333" stroke-width="0.70" /><line x1="93.20" y1="207.90" x2="94.70" y2="207.90" stroke="#333" stroke-width="0.70" /><line x1="181.40" y1="207.90" x2="179.90" y2="207.90" stroke="#333" stroke-width="0.70" /><line x1="93.20" y1="205.35" x2="94.70" y2="205.35" stroke="#333" stroke-width="0.70" /><line x1="181.40" y1="205.35" x2="179.90" y2="205.35" stroke="#333" stroke-width="0.70" /><line x1="93.20" y1="202.80" x2="94.70" y2="202.80" stroke="#333" stroke-width="0.70" /><line x1="181.40" y1="202.80" x2="179.90" y2="202.80" stroke="#333" stroke-width="0.70" /><line x1="93.20" y1="200.25" x2="95.80" y2="200.25" stroke="#333" stroke-width="0.70" /><line x1="181.40" y1="200.25" x2="178.80" y2="200.25" stroke="#333" stroke-width="0.70" /><line x1="93.20" y1="197.70" x2="94.70" y2="197.70" stroke="#333" stroke-width="0.70" /><line x1="181.40" y1="197.70" x2="179.90" y2="197.70" stroke="#333" stroke-width="0.70" /><line x1="93.20" y1="195.15" x2="94.70" y2="195.15" stroke="#333" stroke-width="0.70" /><line x1="181.40" y1="195.15" x2="179.90" y2="195.15" stroke="#333" stroke-width="0.70" /><line x1="93.20" y1="192.60" x2="94.70" y2="192.60" stroke="#333" stroke-width="0.70" /><line x1="181.40" y1="192.60" x2="179.90" y2="192.60" stroke="#333" stroke-width="0.70" /><line x1="93.20" y1="190.05" x2="94.70" y2="190.05" stroke="#333" stroke-width="0.70" /><line x1="181.40" y1="190.05" x2="179.90" y2="190.05" stroke="#333" stroke-width="0.70" /><line x1="93.20" y1="187.50" x2="95.80" y2="187.50" stroke="#333" stroke-width="0.70" /><line x1="181.40" y1="187.50" x2="178.80" y2="187.50" stroke="#333" stroke-width="0.70" /><line x1="93.20" y1="184.95" x2="94.70" y2="184.95" stroke="#333" stroke-width="0.70" /><line x1="181.40" y1="184.95" x2="179.90" y2="184.95" stroke="#333" stroke-width="0.70" /><line x1="93.20" y1="182.40" x2="94.70" y2="182.40" stroke="#333" stroke-width="0.70" /><line x1="181.40" y1="182.40" x2="179.90" y2="182.40" stroke="#333" stroke-width="0.70" /><line x1="93.20" y1="179.85" x2="94.70" y2="179.85" stroke="#333" stroke-width="0.70" /><line x1="181.40" y1="179.85" x2="179.90" y2="179.85" stroke="#333" stroke-width="0.70" /><line x1="93.20" y1="177.30" x2="94.70" y2="177.30" stroke="#333" stroke-width="0.70" /><line x1="181.40" y1="177.30" x2="179.90" y2="177.30" stroke="#333" stroke-width="0.70" /><line x1="93.20" y1="174.75" x2="95.80" y2="174.75" stroke="#333" stroke-width="0.70" /><line x1="181.40" y1="174.75" x2="178.80" y2="174.75" stroke="#333" stroke-width="0.70" /><line x1="93.20" y1="172.20" x2="94.70" y2="172.20" stroke="#333" stroke-width="0.70" /><line x1="181.40" y1="172.20" x2="179.90" y2="172.20" stroke="#333" stroke-width="0.70" /><line x1="93.20" y1="169.65" x2="94.70" y2="169.65" stroke="#333" stroke-width="0.70" /><line x1="181.40" y1="169.65" x2="179.90" y2="169.65" stroke="#333" stroke-width="0.70" /><line x1="93.20" y1="167.10" x2="94.70" y2="167.10" stroke="#333" stroke-width="0.70" /><line x1="181.40" y1="167.10" x2="179.90" y2="167.10" stroke="#333" stroke-width="0.70" /><line x1="93.20" y1="164.55" x2="94.70" y2="164.55" stroke="#333" stroke-width="0.70" /><line x1="181.40" y1="164.55" x2="179.90" y2="164.55" stroke="#333" stroke-width="0.70" /><line x1="93.20" y1="162.00" x2="95.80" y2="162.00" stroke="#333" stroke-width="0.70" /><line x1="181.40" y1="162.00" x2="178.80" y2="162.00" stroke="#333" stroke-width="0.70" /><line x1="93.20" y1="159.45" x2="94.70" y2="159.45" stroke="#333" stroke-width="0.70" /><line x1="181.40" y1="159.45" x2="179.90" y2="159.45" stroke="#333" stroke-width="0.70" /><text x="91.00" y="165.00" font-size="8.40" text-anchor="end" fill="#111" >5.0</text><text x="91.00" y="177.75" font-size="8.40" text-anchor="end" fill="#111" >2.5</text><text x="91.00" y="190.50" font-size="8.40" text-anchor="end" fill="#111" >0.0</text><text x="91.00" y="203.25" font-size="8.40" text-anchor="end" fill="#111" >-2.5</text><text x="91.00" y="216.00" font-size="8.40" text-anchor="end" fill="#111" >-5.0</text><text x="113.20" y="230.60" font-size="8.60" text-anchor="middle" fill="#111" >-25</text><text x="137.20" y="230.60" font-size="8.60" text-anchor="middle" fill="#111" >0</text><text x="161.20" y="230.60" font-size="8.60" text-anchor="middle" fill="#111" >25</text><text x="137.2" y="239.6" font-size="8.8" text-anchor="middle" fill="#111">E (kV cm<tspan font-size="6" dy="-3.5">-1</tspan><tspan dy="3.5">)</tspan></text><text transform="translate(73.4,194.3) rotate(-90)" font-size="8.8" text-anchor="middle" fill="#111">P (&#956;C cm<tspan font-size="6" dy="-3.5">-2</tspan><tspan dy="3.5">)</tspan></text><path d="M102.2 200.8L103.2 200.5L104.2 200.3L105.2 200.1L106.2 199.8L107.2 199.6L108.3 199.4L109.3 199.1L110.3 198.9L111.3 198.7L112.3 198.4L113.3 198.2L114.3 197.9L115.4 197.7L116.4 197.5L117.4 197.2L118.4 197.0L119.4 196.8L120.4 196.5L121.5 196.3L122.5 196.0L123.5 195.8L124.5 195.5L125.5 195.3L126.5 195.0L127.6 194.7L128.6 194.5L129.6 194.2L130.6 193.9L131.6 193.6L132.6 193.3L133.6 192.9L134.7 192.6L135.7 192.2L136.7 191.8L137.7 191.4L138.7 190.9L139.7 190.4L140.8 189.8L141.8 189.2L142.8 188.6L143.8 187.9L144.8 187.2L145.8 186.5L146.8 185.7L147.9 184.9L148.9 184.2L149.9 183.4L150.9 182.7L151.9 182.0L152.9 181.3L154.0 180.7L155.0 180.1L156.0 179.6L157.0 179.1L158.0 178.6L159.0 178.2L160.1 177.8L161.1 177.4L162.1 177.0L163.1 176.7L164.1 176.4L165.1 176.1L166.1 175.8L167.2 175.5L168.2 175.3L169.2 175.0L170.2 174.7L171.2 174.5L172.2 174.2L172.2 174.2L171.2 174.5L170.2 174.7L169.2 174.9L168.2 175.2L167.2 175.4L166.1 175.6L165.1 175.9L164.1 176.1L163.1 176.3L162.1 176.6L161.1 176.8L160.1 177.1L159.0 177.3L158.0 177.5L157.0 177.8L156.0 178.0L155.0 178.2L154.0 178.5L152.9 178.7L151.9 179.0L150.9 179.2L149.9 179.5L148.9 179.7L147.9 180.0L146.8 180.3L145.8 180.5L144.8 180.8L143.8 181.1L142.8 181.4L141.8 181.7L140.8 182.1L139.7 182.4L138.7 182.8L137.7 183.2L136.7 183.6L135.7 184.1L134.7 184.6L133.6 185.2L132.6 185.8L131.6 186.4L130.6 187.1L129.6 187.8L128.6 188.5L127.6 189.3L126.5 190.1L125.5 190.8L124.5 191.6L123.5 192.3L122.5 193.0L121.5 193.7L120.4 194.3L119.4 194.9L118.4 195.4L117.4 195.9L116.4 196.4L115.4 196.8L114.3 197.2L113.3 197.6L112.3 198.0L111.3 198.3L110.3 198.6L109.3 198.9L108.3 199.2L107.2 199.5L106.2 199.7L105.2 200.0L104.2 200.3L103.2 200.5L102.2 200.8Z" fill="none" stroke="#111" stroke-width="2.00" stroke-linejoin="round"/><path d="M100.5 213.6L101.6 213.5L102.7 213.4L103.7 213.4L104.8 213.3L105.8 213.2L106.9 213.1L108.0 213.0L109.0 212.9L110.1 212.8L111.2 212.7L112.2 212.6L113.3 212.5L114.3 212.4L115.4 212.3L116.5 212.1L117.5 212.0L118.6 211.9L119.7 211.7L120.7 211.6L121.8 211.4L122.9 211.2L123.9 211.0L125.0 210.8L126.0 210.6L127.1 210.4L128.2 210.1L129.2 209.8L130.3 209.5L131.4 209.1L132.4 208.7L133.5 208.3L134.5 207.8L135.6 207.3L136.7 206.7L137.7 206.0L138.8 205.3L139.9 204.5L140.9 203.6L142.0 202.7L143.0 201.6L144.1 200.5L145.2 199.3L146.2 197.9L147.3 196.5L148.4 195.0L149.4 193.4L150.5 191.7L151.5 190.0L152.6 188.2L153.7 186.4L154.7 184.6L155.8 182.7L156.9 180.9L157.9 179.1L159.0 177.4L160.1 175.7L161.1 174.0L162.2 172.5L163.2 171.0L164.3 169.7L165.4 168.4L166.4 167.2L167.5 166.2L168.6 165.2L169.6 164.3L170.7 163.4L171.7 162.7L172.8 162.0L173.9 161.4L173.9 161.4L172.8 161.5L171.7 161.6L170.7 161.6L169.6 161.7L168.6 161.8L167.5 161.9L166.4 162.0L165.4 162.1L164.3 162.2L163.2 162.3L162.2 162.4L161.1 162.5L160.1 162.6L159.0 162.7L157.9 162.9L156.9 163.0L155.8 163.1L154.7 163.3L153.7 163.4L152.6 163.6L151.5 163.8L150.5 164.0L149.4 164.2L148.4 164.4L147.3 164.6L146.2 164.9L145.2 165.2L144.1 165.5L143.0 165.9L142.0 166.3L140.9 166.7L139.9 167.2L138.8 167.7L137.7 168.3L136.7 169.0L135.6 169.7L134.5 170.5L133.5 171.4L132.4 172.3L131.4 173.4L130.3 174.5L129.2 175.7L128.2 177.1L127.1 178.5L126.0 180.0L125.0 181.6L123.9 183.3L122.9 185.0L121.8 186.8L120.7 188.6L119.7 190.4L118.6 192.3L117.5 194.1L116.5 195.9L115.4 197.6L114.3 199.3L113.3 201.0L112.2 202.5L111.2 204.0L110.1 205.3L109.0 206.6L108.0 207.8L106.9 208.8L105.8 209.8L104.8 210.7L103.7 211.6L102.7 212.3L101.6 213.0L100.5 213.6Z" fill="none" stroke="#10904a" stroke-width="2.00" stroke-linejoin="round"/><path d="M100.7 213.3L101.8 213.1L102.8 212.9L103.9 212.7L104.9 212.6L106.0 212.4L107.1 212.2L108.1 212.1L109.2 211.9L110.2 211.7L111.3 211.5L112.4 211.4L113.4 211.2L114.5 211.0L115.5 210.8L116.6 210.6L117.6 210.4L118.7 210.2L119.8 210.0L120.8 209.8L121.9 209.6L122.9 209.4L124.0 209.1L125.0 208.9L126.1 208.6L127.2 208.3L128.2 208.0L129.3 207.6L130.3 207.3L131.4 206.9L132.4 206.4L133.5 206.0L134.6 205.4L135.6 204.8L136.7 204.2L137.7 203.4L138.8 202.6L139.8 201.7L140.9 200.7L142.0 199.6L143.0 198.4L144.1 197.1L145.1 195.7L146.2 194.2L147.2 192.6L148.3 190.8L149.4 189.1L150.4 187.2L151.5 185.3L152.5 183.5L153.6 181.6L154.6 179.8L155.7 178.0L156.8 176.3L157.8 174.7L158.9 173.1L159.9 171.7L161.0 170.4L162.0 169.3L163.1 168.2L164.2 167.2L165.2 166.3L166.3 165.5L167.3 164.8L168.4 164.2L169.5 163.6L170.5 163.0L171.6 162.6L172.6 162.1L173.7 161.7L173.7 161.7L172.6 161.9L171.6 162.1L170.5 162.3L169.5 162.4L168.4 162.6L167.3 162.8L166.3 162.9L165.2 163.1L164.2 163.3L163.1 163.5L162.0 163.6L161.0 163.8L159.9 164.0L158.9 164.2L157.8 164.4L156.8 164.6L155.7 164.8L154.6 165.0L153.6 165.2L152.5 165.4L151.5 165.6L150.4 165.9L149.4 166.1L148.3 166.4L147.2 166.7L146.2 167.0L145.1 167.4L144.1 167.7L143.0 168.1L142.0 168.6L140.9 169.0L139.8 169.6L138.8 170.2L137.7 170.8L136.7 171.6L135.6 172.4L134.6 173.3L133.5 174.3L132.4 175.4L131.4 176.6L130.3 177.9L129.3 179.3L128.2 180.8L127.2 182.4L126.1 184.2L125.0 185.9L124.0 187.8L122.9 189.7L121.9 191.5L120.8 193.4L119.8 195.2L118.7 197.0L117.6 198.7L116.6 200.3L115.5 201.9L114.5 203.3L113.4 204.6L112.4 205.7L111.3 206.8L110.2 207.8L109.2 208.7L108.1 209.5L107.1 210.2L106.0 210.8L104.9 211.4L103.9 212.0L102.8 212.4L101.8 212.9L100.7 213.3Z" fill="none" stroke="#2234c0" stroke-width="1.80" stroke-linejoin="round"/><path d="M101.2 212.7L102.2 212.5L103.3 212.2L104.3 211.9L105.4 211.7L106.4 211.4L107.5 211.2L108.5 210.9L109.5 210.6L110.6 210.4L111.6 210.1L112.7 209.8L113.7 209.6L114.8 209.3L115.8 209.0L116.9 208.7L117.9 208.5L118.9 208.2L120.0 207.9L121.0 207.7L122.1 207.4L123.1 207.1L124.2 206.8L125.2 206.5L126.2 206.2L127.3 205.9L128.3 205.6L129.4 205.3L130.4 204.9L131.5 204.6L132.5 204.2L133.5 203.7L134.6 203.3L135.6 202.7L136.7 202.1L137.7 201.4L138.8 200.6L139.8 199.7L140.9 198.6L141.9 197.3L142.9 195.9L144.0 194.3L145.0 192.4L146.1 190.4L147.1 188.3L148.2 186.0L149.2 183.7L150.2 181.4L151.3 179.2L152.3 177.2L153.4 175.3L154.4 173.6L155.5 172.1L156.5 170.8L157.5 169.6L158.6 168.6L159.6 167.8L160.7 167.1L161.7 166.4L162.8 165.9L163.8 165.4L164.9 164.9L165.9 164.5L166.9 164.2L168.0 163.8L169.0 163.5L170.1 163.2L171.1 162.8L172.2 162.5L173.2 162.3L173.2 162.3L172.2 162.5L171.1 162.8L170.1 163.1L169.0 163.3L168.0 163.6L166.9 163.8L165.9 164.1L164.9 164.4L163.8 164.6L162.8 164.9L161.7 165.2L160.7 165.4L159.6 165.7L158.6 166.0L157.5 166.3L156.5 166.5L155.5 166.8L154.4 167.1L153.4 167.3L152.3 167.6L151.3 167.9L150.2 168.2L149.2 168.5L148.2 168.8L147.1 169.1L146.1 169.4L145.0 169.7L144.0 170.1L142.9 170.4L141.9 170.8L140.9 171.3L139.8 171.7L138.8 172.3L137.7 172.9L136.7 173.6L135.6 174.4L134.6 175.3L133.5 176.4L132.5 177.7L131.5 179.1L130.4 180.7L129.4 182.6L128.3 184.6L127.3 186.7L126.2 189.0L125.2 191.3L124.2 193.6L123.1 195.8L122.1 197.8L121.0 199.7L120.0 201.4L118.9 202.9L117.9 204.2L116.9 205.4L115.8 206.4L114.8 207.2L113.7 207.9L112.7 208.6L111.6 209.1L110.6 209.6L109.5 210.1L108.5 210.5L107.5 210.8L106.4 211.2L105.4 211.5L104.3 211.8L103.3 212.2L102.2 212.5L101.2 212.7Z" fill="none" stroke="#e02424" stroke-width="1.80" stroke-linejoin="round"/><line x1="149.80" y1="194.00" x2="154.60" y2="194.00" stroke="#666" stroke-width="1.30" /><rect x="155.4" y="193.20" width="1.6" height="1.6" fill="#111"/><line x1="158.00" y1="194.00" x2="162.60" y2="194.00" stroke="#666" stroke-width="1.30" /><text x="164.30" y="196.70" font-size="7.60" text-anchor="start" fill="#111" >195 K</text><line x1="149.80" y1="201.35" x2="154.60" y2="201.35" stroke="#f07070" stroke-width="1.30" /><rect x="155.4" y="200.55" width="1.6" height="1.6" fill="#e02424"/><line x1="158.00" y1="201.35" x2="162.60" y2="201.35" stroke="#f07070" stroke-width="1.30" /><text x="164.30" y="204.05" font-size="7.60" text-anchor="start" fill="#111" >130 K</text><line x1="149.80" y1="208.70" x2="154.60" y2="208.70" stroke="#7080d0" stroke-width="1.30" /><rect x="155.4" y="207.90" width="1.6" height="1.6" fill="#2234c0"/><line x1="158.00" y1="208.70" x2="162.60" y2="208.70" stroke="#7080d0" stroke-width="1.30" /><text x="164.30" y="211.40" font-size="7.60" text-anchor="start" fill="#111" >70 K</text><line x1="149.80" y1="216.05" x2="154.60" y2="216.05" stroke="#c0b880" stroke-width="1.30" /><rect x="155.4" y="215.25" width="1.6" height="1.6" fill="#10904a"/><line x1="158.00" y1="216.05" x2="162.60" y2="216.05" stroke="#c0b880" stroke-width="1.30" /><text x="164.30" y="218.75" font-size="7.60" text-anchor="start" fill="#111" >40 K</text><path d="M379.2 139.8L380.0 139.5L380.8 139.3L381.5 139.0L382.3 138.7L383.1 138.4L383.9 138.1L384.7 137.8L385.5 137.5L386.2 137.2L387.0 136.9L387.8 136.6L388.6 136.3L389.4 135.9L390.1 135.6L390.9 135.3L391.7 135.0L392.5 134.7L393.3 134.3L394.1 134.0L394.8 133.6L395.6 133.2L396.4 132.8L397.2 132.3L398.0 131.8L398.7 131.2L399.5 130.3L400.3 129.3L401.1 128.2L401.9 127.2L402.7 126.2L403.4 125.5L404.2 125.0L405.0 124.7L405.8 124.4L406.6 124.2L407.3 124.0L408.1 123.9L408.9 123.7L409.7 123.5L410.5 123.4L411.3 123.2L412.0 123.0L412.8 122.8L413.6 122.5L414.4 122.3L415.2 122.1L416.0 121.8L416.7 121.6L417.5 121.3L418.3 121.1L419.1 120.8L419.9 120.5L420.6 120.3L421.4 120.0L422.2 119.8L423.0 119.6L423.8 119.3L424.6 119.1L425.3 118.8L426.1 118.6L426.9 118.3L427.7 118.0L428.5 117.7L429.2 117.4L430.0 117.1L430.8 116.8L431.6 116.5L432.4 116.1L433.2 115.8L433.9 115.4L434.7 115.0L435.5 114.6L436.3 114.2L437.1 113.8L437.8 113.4L438.6 112.9L439.4 112.5L440.2 112.0L441.0 111.5L441.8 111.0L442.5 110.5L443.3 109.9L444.1 109.3L444.9 108.7L445.7 108.0L446.4 107.4L447.2 106.6L448.0 105.9L448.8 105.2L449.6 104.4L450.4 103.5L451.1 102.7L451.9 101.8L452.7 100.8L453.5 99.8L454.3 98.7L455.0 97.5L455.8 96.1L456.6 94.7L457.4 92.9L458.2 91.1L459.0 89.1L459.7 87.0L460.5 84.9L461.3 82.8L462.1 80.8L462.9 78.6L463.6 76.5L464.4 74.3L465.2 72.1L466.0 69.9L466.8 67.7L467.6 65.5L468.3 63.3L469.1 61.1L469.9 58.9L470.7 56.7L471.5 54.5L472.3 52.3L473.0 50.2L473.8 48.0L474.6 45.9L475.4 43.7L476.2 41.6L476.9 39.5L477.7 37.6L478.5 35.9L479.3 34.3L480.1 32.8L480.9 31.3L481.6 29.7L482.4 28.1L483.2 26.4L484.0 24.7L484.8 22.9L485.5 21.3L486.3 19.8L487.1 18.4L487.9 17.1L488.7 15.8L489.5 14.7L490.2 13.7L491.0 13.0L491.8 12.4L492.6 11.9L493.4 11.4L494.1 11.0L494.9 10.7L495.7 10.5L496.5 10.4L497.3 10.5L498.1 10.6L498.8 10.8L499.6 11.1L500.4 11.3L501.2 11.7L502.0 12.2L502.7 12.7L503.5 13.4L504.3 14.1L505.1 15.1L505.9 16.2L506.7 17.5L507.4 18.9L508.2 20.4L509.0 22.0L509.8 23.5L510.6 25.0L511.3 26.6L512.1 28.1L512.9 29.8L513.7 31.5L514.5 33.2L515.3 34.9L516.0 36.7L516.8 38.5L517.6 40.4L518.4 42.2L519.2 44.0L519.9 45.9L520.7 47.7L521.5 49.6L522.3 51.5L523.1 53.4L523.9 55.3L524.6 57.2L525.4 59.2L526.2 61.2L527.0 63.2L527.8 65.4L528.6 67.6L529.3 69.9L530.1 72.0L530.9 74.1L531.7 75.9L532.5 77.5L533.2 79.0L534.0 80.5L534.8 81.8L535.6 83.2L536.4 84.5L537.2 85.9L537.9 87.3L538.7 88.7L539.5 90.1L540.3 91.4L541.1 92.8L541.8 94.2L542.6 95.5L543.4 96.9L544.2 98.2L545.0 99.6L545.8 100.9L546.5 102.3L547.3 103.6L548.1 105.0L548.9 106.3L549.7 107.7L550.4 109.0L551.2 110.4L552.0 111.7L552.8 113.1L553.6 114.5L554.4 115.8L555.1 117.2L555.9 118.5L556.7 119.8L557.5 121.1L558.3 122.3L559.0 123.6L559.8 124.7L560.6 125.9L561.4 127.1L562.2 128.2L563.0 129.3L563.7 130.4L564.5 131.4L565.3 132.4L566.1 133.4L566.9 134.3L567.6 135.2L568.4 136.1L569.2 137.0L570.0 137.8L570.8 138.6L571.6 139.3L572.3 140.0L573.1 140.6L573.9 141.2L574.7 141.7L575.5 142.3L576.2 142.8L577.0 143.3L577.8 143.7L578.6 144.1L579.4 144.5L580.2 144.9L580.9 145.2L581.7 145.5L582.5 145.9L583.3 146.2L584.1 146.4L584.9 146.7L585.6 146.8L586.4 147.0L587.2 147.1L588.0 147.2L588.8 147.3L589.5 147.4L590.3 147.5L591.1 147.6L591.9 147.7L592.7 147.8L593.5 147.9L594.2 147.9L595.0 148.0L595.8 148.1L596.6 148.1L597.4 148.2L598.1 148.2L598.9 148.3L599.7 148.3L600.5 148.3L601.3 148.3L602.1 148.4L602.8 148.4L603.6 148.4L604.4 148.5L605.2 148.5L606.0 148.5L606.7 148.5L607.5 148.5L608.3 148.6L609.1 148.6L609.9 148.6L610.7 148.6L611.4 148.6L612.2 148.6L613.0 148.6" fill="none" stroke="#8e2fba" stroke-width="1.70"/><path d="M379.2 139.8L380.0 139.5L380.8 139.3L381.5 139.0L382.3 138.7L383.1 138.4L383.9 138.1L384.7 137.8L385.5 137.5L386.2 137.2L387.0 136.9L387.8 136.6L388.6 136.3L389.4 135.9L390.1 135.6L390.9 135.3L391.7 135.0L392.5 134.7L393.3 134.4L394.1 134.0L394.8 133.6L395.6 133.3L396.4 132.8L397.2 132.4L398.0 131.9L398.7 131.3L399.5 130.4L400.3 129.5L401.1 128.5L401.9 127.5L402.7 126.6L403.4 125.9L404.2 125.4L405.0 125.1L405.8 124.9L406.6 124.7L407.3 124.5L408.1 124.4L408.9 124.2L409.7 124.1L410.5 123.9L411.3 123.8L412.0 123.6L412.8 123.4L413.6 123.1L414.4 122.9L415.2 122.7L416.0 122.5L416.7 122.2L417.5 122.0L418.3 121.8L419.1 121.5L419.9 121.3L420.6 121.1L421.4 120.8L422.2 120.6L423.0 120.4L423.8 120.1L424.6 119.9L425.3 119.7L426.1 119.4L426.9 119.2L427.7 118.9L428.5 118.6L429.2 118.3L430.0 118.0L430.8 117.7L431.6 117.4L432.4 117.1L433.2 116.8L433.9 116.4L434.7 116.1L435.5 115.7L436.3 115.3L437.1 114.9L437.8 114.5L438.6 114.1L439.4 113.7L440.2 113.2L441.0 112.8L441.8 112.3L442.5 111.8L443.3 111.3L444.1 110.7L444.9 110.1L445.7 109.6L446.4 108.9L447.2 108.3L448.0 107.6L448.8 106.9L449.6 106.2L450.4 105.5L451.1 104.7L451.9 103.9L452.7 103.0L453.5 102.1L454.3 101.1L455.0 100.0L455.8 98.8L456.6 97.5L457.4 95.9L458.2 94.3L459.0 92.5L459.7 90.6L460.5 88.7L461.3 86.9L462.1 85.0L462.9 83.1L463.6 81.2L464.4 79.2L465.2 77.2L466.0 75.2L466.8 73.2L467.6 71.2L468.3 69.2L469.1 67.2L469.9 65.2L470.7 63.2L471.5 61.2L472.3 59.2L473.0 57.3L473.8 55.3L474.6 53.3L475.4 51.2L476.2 49.3L476.9 47.3L477.7 45.4L478.5 43.6L479.3 42.0L480.1 40.3L480.9 38.8L481.6 37.2L482.4 35.6L483.2 33.9L484.0 32.2L484.8 30.4L485.5 28.6L486.3 27.0L487.1 25.4L487.9 24.0L488.7 22.7L489.5 21.4L490.2 20.2L491.0 19.1L491.8 18.4L492.6 17.8L493.4 17.2L494.1 16.7L494.9 16.2L495.7 15.8L496.5 15.6L497.3 15.4L498.1 15.4L498.8 15.5L499.6 15.6L500.4 15.9L501.2 16.1L502.0 16.4L502.7 16.8L503.5 17.3L504.3 17.9L505.1 18.5L505.9 19.2L506.7 20.1L507.4 21.2L508.2 22.4L509.0 23.7L509.8 25.2L510.6 26.7L511.3 28.2L512.1 29.7L512.9 31.2L513.7 32.8L514.5 34.4L515.3 36.1L516.0 37.8L516.8 39.6L517.6 41.4L518.4 43.2L519.2 45.0L519.9 46.8L520.7 48.7L521.5 50.5L522.3 52.3L523.1 54.1L523.9 56.0L524.6 57.9L525.4 59.8L526.2 61.7L527.0 63.7L527.8 65.7L528.6 67.8L529.3 70.0L530.1 72.1L530.9 74.1L531.7 75.9L532.5 77.5L533.2 79.0L534.0 80.4L534.8 81.8L535.6 83.2L536.4 84.5L537.2 85.9L537.9 87.3L538.7 88.7L539.5 90.1L540.3 91.4L541.1 92.8L541.8 94.2L542.6 95.5L543.4 96.9L544.2 98.2L545.0 99.6L545.8 100.9L546.5 102.3L547.3 103.6L548.1 105.0L548.9 106.3L549.7 107.7L550.4 109.0L551.2 110.4L552.0 111.7L552.8 113.1L553.6 114.5L554.4 115.8L555.1 117.2L555.9 118.5L556.7 119.8L557.5 121.1L558.3 122.3L559.0 123.6L559.8 124.7L560.6 125.9L561.4 127.1L562.2 128.2L563.0 129.3L563.7 130.4L564.5 131.4L565.3 132.4L566.1 133.4L566.9 134.3L567.6 135.2L568.4 136.1L569.2 137.0L570.0 137.8L570.8 138.6L571.6 139.3L572.3 140.0L573.1 140.6L573.9 141.2L574.7 141.7L575.5 142.3L576.2 142.8L577.0 143.3L577.8 143.7L578.6 144.1L579.4 144.5L580.2 144.9L580.9 145.2L581.7 145.5L582.5 145.9L583.3 146.2L584.1 146.4L584.9 146.7L585.6 146.8L586.4 147.0L587.2 147.1L588.0 147.2L588.8 147.3L589.5 147.4L590.3 147.5L591.1 147.6L591.9 147.7L592.7 147.8L593.5 147.9L594.2 147.9L595.0 148.0L595.8 148.1L596.6 148.1L597.4 148.2L598.1 148.2L598.9 148.3L599.7 148.3L600.5 148.3L601.3 148.3L602.1 148.4L602.8 148.4L603.6 148.4L604.4 148.5L605.2 148.5L606.0 148.5L606.7 148.5L607.5 148.5L608.3 148.6L609.1 148.6L609.9 148.6L610.7 148.6L611.4 148.6L612.2 148.6L613.0 148.6" fill="none" stroke="#4c4cd0" stroke-width="1.70"/><path d="M379.2 139.8L380.0 139.5L380.8 139.3L381.5 139.0L382.3 138.7L383.1 138.4L383.9 138.1L384.7 137.8L385.5 137.5L386.2 137.2L387.0 136.9L387.8 136.6L388.6 136.3L389.4 135.9L390.1 135.6L390.9 135.3L391.7 135.0L392.5 134.7L393.3 134.4L394.1 134.0L394.8 133.7L395.6 133.3L396.4 132.9L397.2 132.4L398.0 132.0L398.7 131.4L399.5 130.6L400.3 129.6L401.1 128.7L401.9 127.8L402.7 126.9L403.4 126.3L404.2 125.8L405.0 125.6L405.8 125.4L406.6 125.2L407.3 125.0L408.1 124.9L408.9 124.7L409.7 124.6L410.5 124.5L411.3 124.3L412.0 124.1L412.8 123.9L413.6 123.7L414.4 123.5L415.2 123.3L416.0 123.1L416.7 122.9L417.5 122.7L418.3 122.5L419.1 122.3L419.9 122.1L420.6 121.8L421.4 121.6L422.2 121.4L423.0 121.2L423.8 120.9L424.6 120.7L425.3 120.5L426.1 120.3L426.9 120.0L427.7 119.8L428.5 119.5L429.2 119.2L430.0 118.9L430.8 118.7L431.6 118.4L432.4 118.0L433.2 117.7L433.9 117.4L434.7 117.1L435.5 116.7L436.3 116.4L437.1 116.0L437.8 115.6L438.6 115.2L439.4 114.8L440.2 114.4L441.0 114.0L441.8 113.6L442.5 113.1L443.3 112.6L444.1 112.1L444.9 111.6L445.7 111.1L446.4 110.5L447.2 110.0L448.0 109.4L448.8 108.7L449.6 108.1L450.4 107.4L451.1 106.7L451.9 106.0L452.7 105.2L453.5 104.4L454.3 103.5L455.0 102.5L455.8 101.5L456.6 100.3L457.4 98.9L458.2 97.5L459.0 95.9L459.7 94.3L460.5 92.6L461.3 91.0L462.1 89.3L462.9 87.6L463.6 85.9L464.4 84.1L465.2 82.4L466.0 80.6L466.8 78.8L467.6 77.0L468.3 75.2L469.1 73.4L469.9 71.6L470.7 69.8L471.5 68.0L472.3 66.2L473.0 64.3L473.8 62.5L474.6 60.6L475.4 58.8L476.2 56.9L476.9 55.0L477.7 53.2L478.5 51.4L479.3 49.7L480.1 48.0L480.9 46.4L481.6 44.7L482.4 43.1L483.2 41.4L484.0 39.7L484.8 37.9L485.5 36.1L486.3 34.4L487.1 32.7L487.9 31.1L488.7 29.7L489.5 28.3L490.2 26.9L491.0 25.7L491.8 24.6L492.6 23.8L493.4 23.1L494.1 22.5L494.9 22.0L495.7 21.5L496.5 21.0L497.3 20.7L498.1 20.5L498.8 20.4L499.6 20.4L500.4 20.5L501.2 20.7L502.0 20.9L502.7 21.2L503.5 21.5L504.3 21.9L505.1 22.4L505.9 23.0L506.7 23.6L507.4 24.3L508.2 25.1L509.0 26.1L509.8 27.3L510.6 28.6L511.3 30.0L512.1 31.4L512.9 32.9L513.7 34.3L514.5 35.8L515.3 37.4L516.0 39.0L516.8 40.7L517.6 42.5L518.4 44.3L519.2 46.1L519.9 47.9L520.7 49.6L521.5 51.4L522.3 53.2L523.1 55.0L523.9 56.8L524.6 58.6L525.4 60.4L526.2 62.3L527.0 64.2L527.8 66.1L528.6 68.1L529.3 70.2L530.1 72.2L530.9 74.1L531.7 75.9L532.5 77.5L533.2 79.0L534.0 80.4L534.8 81.8L535.6 83.2L536.4 84.5L537.2 85.9L537.9 87.3L538.7 88.7L539.5 90.1L540.3 91.4L541.1 92.8L541.8 94.2L542.6 95.5L543.4 96.9L544.2 98.2L545.0 99.6L545.8 100.9L546.5 102.3L547.3 103.6L548.1 105.0L548.9 106.3L549.7 107.7L550.4 109.0L551.2 110.4L552.0 111.7L552.8 113.1L553.6 114.5L554.4 115.8L555.1 117.2L555.9 118.5L556.7 119.8L557.5 121.1L558.3 122.3L559.0 123.6L559.8 124.7L560.6 125.9L561.4 127.1L562.2 128.2L563.0 129.3L563.7 130.4L564.5 131.4L565.3 132.4L566.1 133.4L566.9 134.3L567.6 135.2L568.4 136.1L569.2 137.0L570.0 137.8L570.8 138.6L571.6 139.3L572.3 140.0L573.1 140.6L573.9 141.2L574.7 141.7L575.5 142.3L576.2 142.8L577.0 143.3L577.8 143.7L578.6 144.1L579.4 144.5L580.2 144.9L580.9 145.2L581.7 145.5L582.5 145.9L583.3 146.2L584.1 146.4L584.9 146.7L585.6 146.8L586.4 147.0L587.2 147.1L588.0 147.2L588.8 147.3L589.5 147.4L590.3 147.5L591.1 147.6L591.9 147.7L592.7 147.8L593.5 147.9L594.2 147.9L595.0 148.0L595.8 148.1L596.6 148.1L597.4 148.2L598.1 148.2L598.9 148.3L599.7 148.3L600.5 148.3L601.3 148.3L602.1 148.4L602.8 148.4L603.6 148.4L604.4 148.5L605.2 148.5L606.0 148.5L606.7 148.5L607.5 148.5L608.3 148.6L609.1 148.6L609.9 148.6L610.7 148.6L611.4 148.6L612.2 148.6L613.0 148.6" fill="none" stroke="#c03ab8" stroke-width="1.70"/><path d="M379.2 139.8L380.0 139.5L380.8 139.3L381.5 139.0L382.3 138.7L383.1 138.4L383.9 138.1L384.7 137.8L385.5 137.5L386.2 137.2L387.0 136.9L387.8 136.6L388.6 136.3L389.4 136.0L390.1 135.6L390.9 135.3L391.7 135.0L392.5 134.7L393.3 134.4L394.1 134.1L394.8 133.7L395.6 133.3L396.4 132.9L397.2 132.5L398.0 132.0L398.7 131.5L399.5 130.7L400.3 129.8L401.1 128.9L401.9 128.1L402.7 127.3L403.4 126.7L404.2 126.3L405.0 126.0L405.8 125.8L406.6 125.7L407.3 125.5L408.1 125.4L408.9 125.3L409.7 125.1L410.5 125.0L411.3 124.9L412.0 124.7L412.8 124.5L413.6 124.4L414.4 124.2L415.2 124.0L416.0 123.8L416.7 123.6L417.5 123.4L418.3 123.2L419.1 123.0L419.9 122.8L420.6 122.6L421.4 122.4L422.2 122.2L423.0 122.0L423.8 121.8L424.6 121.5L425.3 121.3L426.1 121.1L426.9 120.9L427.7 120.6L428.5 120.4L429.2 120.1L430.0 119.9L430.8 119.6L431.6 119.3L432.4 119.0L433.2 118.7L433.9 118.4L434.7 118.1L435.5 117.8L436.3 117.4L437.1 117.1L437.8 116.7L438.6 116.4L439.4 116.0L440.2 115.6L441.0 115.2L441.8 114.8L442.5 114.4L443.3 114.0L444.1 113.6L444.9 113.1L445.7 112.6L446.4 112.1L447.2 111.6L448.0 111.1L448.8 110.6L449.6 110.0L450.4 109.4L451.1 108.8L451.9 108.1L452.7 107.4L453.5 106.7L454.3 105.9L455.0 105.1L455.8 104.1L456.6 103.1L457.4 101.9L458.2 100.7L459.0 99.3L459.7 97.9L460.5 96.5L461.3 95.0L462.1 93.6L462.9 92.1L463.6 90.6L464.4 89.1L465.2 87.5L466.0 85.9L466.8 84.3L467.6 82.7L468.3 81.2L469.1 79.6L469.9 78.0L470.7 76.3L471.5 74.7L472.3 73.1L473.0 71.4L473.8 69.7L474.6 68.0L475.4 66.2L476.2 64.5L476.9 62.7L477.7 60.9L478.5 59.2L479.3 57.5L480.1 55.8L480.9 54.1L481.6 52.4L482.4 50.7L483.2 49.0L484.0 47.3L484.8 45.5L485.5 43.7L486.3 41.9L487.1 40.1L487.9 38.3L488.7 36.7L489.5 35.3L490.2 33.9L491.0 32.5L491.8 31.2L492.6 30.1L493.4 29.2L494.1 28.5L494.9 27.9L495.7 27.3L496.5 26.8L497.3 26.3L498.1 25.9L498.8 25.6L499.6 25.4L500.4 25.3L501.2 25.4L502.0 25.5L502.7 25.7L503.5 26.0L504.3 26.3L505.1 26.6L505.9 27.0L506.7 27.5L507.4 28.1L508.2 28.7L509.0 29.4L509.8 30.2L510.6 31.1L511.3 32.2L512.1 33.4L512.9 34.7L513.7 36.1L514.5 37.5L515.3 38.9L516.0 40.4L516.8 42.0L517.6 43.7L518.4 45.4L519.2 47.1L519.9 48.9L520.7 50.7L521.5 52.4L522.3 54.1L523.1 55.9L523.9 57.6L524.6 59.3L525.4 61.1L526.2 62.9L527.0 64.7L527.8 66.5L528.6 68.4L529.3 70.4L530.1 72.3L530.9 74.2L531.7 75.9L532.5 77.4L533.2 78.9L534.0 80.4L534.8 81.8L535.6 83.1L536.4 84.5L537.2 85.9L537.9 87.3L538.7 88.7L539.5 90.1L540.3 91.4L541.1 92.8L541.8 94.2L542.6 95.5L543.4 96.9L544.2 98.2L545.0 99.6L545.8 100.9L546.5 102.3L547.3 103.6L548.1 105.0L548.9 106.3L549.7 107.7L550.4 109.0L551.2 110.4L552.0 111.7L552.8 113.1L553.6 114.5L554.4 115.8L555.1 117.2L555.9 118.5L556.7 119.8L557.5 121.1L558.3 122.3L559.0 123.6L559.8 124.7L560.6 125.9L561.4 127.1L562.2 128.2L563.0 129.3L563.7 130.4L564.5 131.4L565.3 132.4L566.1 133.4L566.9 134.3L567.6 135.2L568.4 136.1L569.2 137.0L570.0 137.8L570.8 138.6L571.6 139.3L572.3 140.0L573.1 140.6L573.9 141.2L574.7 141.7L575.5 142.3L576.2 142.8L577.0 143.3L577.8 143.7L578.6 144.1L579.4 144.5L580.2 144.9L580.9 145.2L581.7 145.5L582.5 145.9L583.3 146.2L584.1 146.4L584.9 146.7L585.6 146.8L586.4 147.0L587.2 147.1L588.0 147.2L588.8 147.3L589.5 147.4L590.3 147.5L591.1 147.6L591.9 147.7L592.7 147.8L593.5 147.9L594.2 147.9L595.0 148.0L595.8 148.1L596.6 148.1L597.4 148.2L598.1 148.2L598.9 148.3L599.7 148.3L600.5 148.3L601.3 148.3L602.1 148.4L602.8 148.4L603.6 148.4L604.4 148.5L605.2 148.5L606.0 148.5L606.7 148.5L607.5 148.5L608.3 148.6L609.1 148.6L609.9 148.6L610.7 148.6L611.4 148.6L612.2 148.6L613.0 148.6" fill="none" stroke="#38bcc8" stroke-width="1.70"/><path d="M379.2 139.8L380.0 139.5L380.8 139.3L381.5 139.0L382.3 138.7L383.1 138.4L383.9 138.1L384.7 137.8L385.5 137.5L386.2 137.2L387.0 136.9L387.8 136.6L388.6 136.3L389.4 136.0L390.1 135.6L390.9 135.3L391.7 135.0L392.5 134.7L393.3 134.4L394.1 134.1L394.8 133.7L395.6 133.4L396.4 133.0L397.2 132.6L398.0 132.1L398.7 131.5L399.5 130.8L400.3 130.0L401.1 129.2L401.9 128.4L402.7 127.6L403.4 127.1L404.2 126.7L405.0 126.5L405.8 126.3L406.6 126.1L407.3 126.0L408.1 125.9L408.9 125.8L409.7 125.7L410.5 125.6L411.3 125.4L412.0 125.3L412.8 125.1L413.6 125.0L414.4 124.8L415.2 124.6L416.0 124.5L416.7 124.3L417.5 124.1L418.3 123.9L419.1 123.7L419.9 123.6L420.6 123.4L421.4 123.2L422.2 123.0L423.0 122.8L423.8 122.6L424.6 122.4L425.3 122.2L426.1 121.9L426.9 121.7L427.7 121.5L428.5 121.3L429.2 121.0L430.0 120.8L430.8 120.5L431.6 120.2L432.4 120.0L433.2 119.7L433.9 119.4L434.7 119.1L435.5 118.8L436.3 118.5L437.1 118.2L437.8 117.9L438.6 117.5L439.4 117.2L440.2 116.8L441.0 116.5L441.8 116.1L442.5 115.8L443.3 115.4L444.1 115.0L444.9 114.6L445.7 114.2L446.4 113.8L447.2 113.3L448.0 112.9L448.8 112.4L449.6 111.9L450.4 111.4L451.1 110.8L451.9 110.3L452.7 109.7L453.5 109.0L454.3 108.3L455.0 107.6L455.8 106.8L456.6 105.9L457.4 104.9L458.2 103.9L459.0 102.7L459.7 101.5L460.5 100.3L461.3 99.1L462.1 97.9L462.9 96.6L463.6 95.3L464.4 94.0L465.2 92.6L466.0 91.2L466.8 89.9L467.6 88.5L468.3 87.1L469.1 85.7L469.9 84.3L470.7 82.9L471.5 81.5L472.3 80.0L473.0 78.5L473.8 76.9L474.6 75.3L475.4 73.7L476.2 72.0L476.9 70.3L477.7 68.7L478.5 67.0L479.3 65.3L480.1 63.5L480.9 61.8L481.6 60.1L482.4 58.3L483.2 56.6L484.0 54.8L484.8 53.1L485.5 51.3L486.3 49.5L487.1 47.6L487.9 45.8L488.7 44.0L489.5 42.4L490.2 40.9L491.0 39.5L491.8 38.0L492.6 36.7L493.4 35.5L494.1 34.6L494.9 33.9L495.7 33.2L496.5 32.6L497.3 32.0L498.1 31.5L498.8 31.1L499.6 30.7L500.4 30.5L501.2 30.3L502.0 30.3L502.7 30.4L503.5 30.6L504.3 30.8L505.1 31.1L505.9 31.4L506.7 31.7L507.4 32.1L508.2 32.6L509.0 33.2L509.8 33.8L510.6 34.5L511.3 35.3L512.1 36.1L512.9 37.1L513.7 38.3L514.5 39.5L515.3 40.8L516.0 42.2L516.8 43.5L517.6 45.0L518.4 46.6L519.2 48.3L519.9 50.0L520.7 51.7L521.5 53.5L522.3 55.2L523.1 56.8L523.9 58.5L524.6 60.2L525.4 61.8L526.2 63.5L527.0 65.2L527.8 67.0L528.6 68.8L529.3 70.6L530.1 72.5L530.9 74.2L531.7 75.9L532.5 77.4L533.2 78.9L534.0 80.3L534.8 81.7L535.6 83.1L536.4 84.5L537.2 85.9L537.9 87.3L538.7 88.7L539.5 90.1L540.3 91.4L541.1 92.8L541.8 94.2L542.6 95.5L543.4 96.9L544.2 98.2L545.0 99.6L545.8 100.9L546.5 102.3L547.3 103.6L548.1 105.0L548.9 106.3L549.7 107.7L550.4 109.0L551.2 110.4L552.0 111.7L552.8 113.1L553.6 114.5L554.4 115.8L555.1 117.2L555.9 118.5L556.7 119.8L557.5 121.1L558.3 122.3L559.0 123.6L559.8 124.7L560.6 125.9L561.4 127.1L562.2 128.2L563.0 129.3L563.7 130.4L564.5 131.4L565.3 132.4L566.1 133.4L566.9 134.3L567.6 135.2L568.4 136.1L569.2 137.0L570.0 137.8L570.8 138.6L571.6 139.3L572.3 140.0L573.1 140.6L573.9 141.2L574.7 141.7L575.5 142.3L576.2 142.8L577.0 143.3L577.8 143.7L578.6 144.1L579.4 144.5L580.2 144.9L580.9 145.2L581.7 145.5L582.5 145.9L583.3 146.2L584.1 146.4L584.9 146.7L585.6 146.8L586.4 147.0L587.2 147.1L588.0 147.2L588.8 147.3L589.5 147.4L590.3 147.5L591.1 147.6L591.9 147.7L592.7 147.8L593.5 147.9L594.2 147.9L595.0 148.0L595.8 148.1L596.6 148.1L597.4 148.2L598.1 148.2L598.9 148.3L599.7 148.3L600.5 148.3L601.3 148.3L602.1 148.4L602.8 148.4L603.6 148.4L604.4 148.5L605.2 148.5L606.0 148.5L606.7 148.5L607.5 148.5L608.3 148.6L609.1 148.6L609.9 148.6L610.7 148.6L611.4 148.6L612.2 148.6L613.0 148.6" fill="none" stroke="#3a40b0" stroke-width="1.70"/><path d="M379.2 139.8L380.0 139.5L380.8 139.3L381.5 139.0L382.3 138.7L383.1 138.4L383.9 138.1L384.7 137.8L385.5 137.5L386.2 137.2L387.0 136.9L387.8 136.6L388.6 136.3L389.4 136.0L390.1 135.6L390.9 135.3L391.7 135.0L392.5 134.7L393.3 134.4L394.1 134.1L394.8 133.8L395.6 133.4L396.4 133.0L397.2 132.6L398.0 132.2L398.7 131.6L399.5 131.0L400.3 130.2L401.1 129.4L401.9 128.7L402.7 128.0L403.4 127.5L404.2 127.1L405.0 126.9L405.8 126.8L406.6 126.6L407.3 126.5L408.1 126.4L408.9 126.3L409.7 126.2L410.5 126.1L411.3 126.0L412.0 125.8L412.8 125.7L413.6 125.6L414.4 125.4L415.2 125.3L416.0 125.1L416.7 125.0L417.5 124.8L418.3 124.7L419.1 124.5L419.9 124.3L420.6 124.1L421.4 124.0L422.2 123.8L423.0 123.6L423.8 123.4L424.6 123.2L425.3 123.0L426.1 122.8L426.9 122.6L427.7 122.4L428.5 122.1L429.2 121.9L430.0 121.7L430.8 121.4L431.6 121.2L432.4 120.9L433.2 120.7L433.9 120.4L434.7 120.1L435.5 119.8L436.3 119.5L437.1 119.3L437.8 119.0L438.6 118.7L439.4 118.4L440.2 118.0L441.0 117.7L441.8 117.4L442.5 117.1L443.3 116.8L444.1 116.4L444.9 116.1L445.7 115.7L446.4 115.4L447.2 115.0L448.0 114.6L448.8 114.2L449.6 113.8L450.4 113.4L451.1 112.9L451.9 112.4L452.7 111.9L453.5 111.3L454.3 110.7L455.0 110.1L455.8 109.5L456.6 108.7L457.4 107.9L458.2 107.1L459.0 106.1L459.7 105.2L460.5 104.2L461.3 103.2L462.1 102.2L462.9 101.1L463.6 100.0L464.4 98.9L465.2 97.8L466.0 96.6L466.8 95.4L467.6 94.2L468.3 93.1L469.1 91.9L469.9 90.7L470.7 89.5L471.5 88.2L472.3 86.9L473.0 85.5L473.8 84.1L474.6 82.7L475.4 81.1L476.2 79.6L476.9 78.0L477.7 76.3L478.5 74.7L479.3 73.0L480.1 71.3L480.9 69.6L481.6 67.9L482.4 66.1L483.2 64.3L484.0 62.5L484.8 60.7L485.5 58.9L486.3 57.1L487.1 55.3L487.9 53.4L488.7 51.5L489.5 49.8L490.2 48.1L491.0 46.5L491.8 45.1L492.6 43.6L493.4 42.3L494.1 41.0L494.9 40.0L495.7 39.2L496.5 38.6L497.3 38.0L498.1 37.4L498.8 36.8L499.6 36.3L500.4 35.9L501.2 35.6L502.0 35.4L502.7 35.3L503.5 35.3L504.3 35.4L505.1 35.6L505.9 35.8L506.7 36.1L507.4 36.5L508.2 36.8L509.0 37.2L509.8 37.7L510.6 38.3L511.3 38.9L512.1 39.6L512.9 40.4L513.7 41.2L514.5 42.1L515.3 43.2L516.0 44.3L516.8 45.5L517.6 46.8L518.4 48.2L519.2 49.6L519.9 51.2L520.7 52.9L521.5 54.6L522.3 56.3L523.1 57.9L523.9 59.5L524.6 61.0L525.4 62.6L526.2 64.2L527.0 65.8L527.8 67.5L528.6 69.1L529.3 70.9L530.1 72.6L530.9 74.3L531.7 75.9L532.5 77.4L533.2 78.8L534.0 80.3L534.8 81.7L535.6 83.1L536.4 84.5L537.2 85.9L537.9 87.3L538.7 88.7L539.5 90.1L540.3 91.4L541.1 92.8L541.8 94.2L542.6 95.5L543.4 96.9L544.2 98.2L545.0 99.6L545.8 100.9L546.5 102.3L547.3 103.6L548.1 105.0L548.9 106.3L549.7 107.7L550.4 109.0L551.2 110.4L552.0 111.7L552.8 113.1L553.6 114.5L554.4 115.8L555.1 117.2L555.9 118.5L556.7 119.8L557.5 121.1L558.3 122.3L559.0 123.6L559.8 124.7L560.6 125.9L561.4 127.1L562.2 128.2L563.0 129.3L563.7 130.4L564.5 131.4L565.3 132.4L566.1 133.4L566.9 134.3L567.6 135.2L568.4 136.1L569.2 137.0L570.0 137.8L570.8 138.6L571.6 139.3L572.3 140.0L573.1 140.6L573.9 141.2L574.7 141.7L575.5 142.3L576.2 142.8L577.0 143.3L577.8 143.7L578.6 144.1L579.4 144.5L580.2 144.9L580.9 145.2L581.7 145.5L582.5 145.9L583.3 146.2L584.1 146.4L584.9 146.7L585.6 146.8L586.4 147.0L587.2 147.1L588.0 147.2L588.8 147.3L589.5 147.4L590.3 147.5L591.1 147.6L591.9 147.7L592.7 147.8L593.5 147.9L594.2 147.9L595.0 148.0L595.8 148.1L596.6 148.1L597.4 148.2L598.1 148.2L598.9 148.3L599.7 148.3L600.5 148.3L601.3 148.3L602.1 148.4L602.8 148.4L603.6 148.4L604.4 148.5L605.2 148.5L606.0 148.5L606.7 148.5L607.5 148.5L608.3 148.6L609.1 148.6L609.9 148.6L610.7 148.6L611.4 148.6L612.2 148.6L613.0 148.6" fill="none" stroke="#1fa058" stroke-width="1.70"/><path d="M379.2 139.8L380.0 139.5L380.8 139.2L381.5 139.0L382.3 138.7L383.1 138.4L383.9 138.1L384.7 137.8L385.5 137.5L386.2 137.2L387.0 136.9L387.8 136.6L388.6 136.3L389.4 136.0L390.1 135.6L390.9 135.3L391.7 135.0L392.5 134.7L393.3 134.4L394.1 134.1L394.8 133.8L395.6 133.4L396.4 133.1L397.2 132.7L398.0 132.2L398.7 131.7L399.5 131.1L400.3 130.4L401.1 129.7L401.9 129.0L402.7 128.4L403.4 127.9L404.2 127.6L405.0 127.4L405.8 127.2L406.6 127.1L407.3 127.0L408.1 126.9L408.9 126.8L409.7 126.7L410.5 126.6L411.3 126.5L412.0 126.4L412.8 126.3L413.6 126.2L414.4 126.0L415.2 125.9L416.0 125.8L416.7 125.7L417.5 125.5L418.3 125.4L419.1 125.2L419.9 125.1L420.6 124.9L421.4 124.7L422.2 124.6L423.0 124.4L423.8 124.2L424.6 124.0L425.3 123.8L426.1 123.6L426.9 123.4L427.7 123.2L428.5 123.0L429.2 122.8L430.0 122.6L430.8 122.4L431.6 122.1L432.4 121.9L433.2 121.6L433.9 121.4L434.7 121.1L435.5 120.9L436.3 120.6L437.1 120.3L437.8 120.1L438.6 119.8L439.4 119.5L440.2 119.2L441.0 119.0L441.8 118.7L442.5 118.4L443.3 118.1L444.1 117.9L444.9 117.6L445.7 117.3L446.4 117.0L447.2 116.7L448.0 116.4L448.8 116.1L449.6 115.7L450.4 115.4L451.1 115.0L451.9 114.6L452.7 114.1L453.5 113.7L454.3 113.2L455.0 112.7L455.8 112.1L456.6 111.5L457.4 110.9L458.2 110.2L459.0 109.5L459.7 108.8L460.5 108.0L461.3 107.3L462.1 106.5L462.9 105.6L463.6 104.7L464.4 103.8L465.2 102.9L466.0 101.9L466.8 101.0L467.6 100.0L468.3 99.0L469.1 98.0L469.9 97.0L470.7 96.0L471.5 94.9L472.3 93.8L473.0 92.6L473.8 91.4L474.6 90.0L475.4 88.6L476.2 87.1L476.9 85.6L477.7 84.0L478.5 82.4L479.3 80.7L480.1 79.1L480.9 77.4L481.6 75.7L482.4 73.9L483.2 72.0L484.0 70.2L484.8 68.4L485.5 66.5L486.3 64.7L487.1 62.9L487.9 61.0L488.7 59.1L489.5 57.3L490.2 55.5L491.0 53.8L491.8 52.2L492.6 50.7L493.4 49.2L494.1 47.8L494.9 46.5L495.7 45.4L496.5 44.6L497.3 44.0L498.1 43.3L498.8 42.7L499.6 42.1L500.4 41.6L501.2 41.1L502.0 40.7L502.7 40.5L503.5 40.3L504.3 40.2L505.1 40.3L505.9 40.4L506.7 40.6L507.4 40.9L508.2 41.2L509.0 41.5L509.8 41.9L510.6 42.3L511.3 42.8L512.1 43.4L512.9 44.0L513.7 44.7L514.5 45.5L515.3 46.2L516.0 47.1L516.8 48.1L517.6 49.1L518.4 50.3L519.2 51.5L519.9 52.8L520.7 54.2L521.5 55.8L522.3 57.4L523.1 59.0L523.9 60.5L524.6 62.0L525.4 63.5L526.2 65.0L527.0 66.5L527.8 68.0L528.6 69.6L529.3 71.1L530.1 72.7L530.9 74.3L531.7 75.8L532.5 77.3L533.2 78.8L534.0 80.2L534.8 81.7L535.6 83.1L536.4 84.5L537.2 85.9L537.9 87.3L538.7 88.7L539.5 90.1L540.3 91.4L541.1 92.8L541.8 94.2L542.6 95.5L543.4 96.9L544.2 98.2L545.0 99.6L545.8 100.9L546.5 102.3L547.3 103.6L548.1 105.0L548.9 106.3L549.7 107.7L550.4 109.0L551.2 110.4L552.0 111.7L552.8 113.1L553.6 114.5L554.4 115.8L555.1 117.2L555.9 118.5L556.7 119.8L557.5 121.1L558.3 122.3L559.0 123.6L559.8 124.7L560.6 125.9L561.4 127.1L562.2 128.2L563.0 129.3L563.7 130.4L564.5 131.4L565.3 132.4L566.1 133.4L566.9 134.3L567.6 135.2L568.4 136.1L569.2 137.0L570.0 137.8L570.8 138.6L571.6 139.3L572.3 140.0L573.1 140.6L573.9 141.2L574.7 141.7L575.5 142.3L576.2 142.8L577.0 143.3L577.8 143.7L578.6 144.1L579.4 144.5L580.2 144.9L580.9 145.2L581.7 145.5L582.5 145.9L583.3 146.2L584.1 146.4L584.9 146.7L585.6 146.8L586.4 147.0L587.2 147.1L588.0 147.2L588.8 147.3L589.5 147.4L590.3 147.5L591.1 147.6L591.9 147.7L592.7 147.8L593.5 147.9L594.2 147.9L595.0 148.0L595.8 148.1L596.6 148.1L597.4 148.2L598.1 148.2L598.9 148.3L599.7 148.3L600.5 148.3L601.3 148.3L602.1 148.4L602.8 148.4L603.6 148.4L604.4 148.5L605.2 148.5L606.0 148.5L606.7 148.5L607.5 148.5L608.3 148.6L609.1 148.6L609.9 148.6L610.7 148.6L611.4 148.6L612.2 148.6L613.0 148.6" fill="none" stroke="#e63030" stroke-width="1.70"/><path d="M379.2 139.8L380.0 139.5L380.8 139.2L381.5 139.0L382.3 138.7L383.1 138.4L383.9 138.1L384.7 137.8L385.5 137.5L386.2 137.2L387.0 136.9L387.8 136.6L388.6 136.3L389.4 136.0L390.1 135.7L390.9 135.3L391.7 135.0L392.5 134.7L393.3 134.4L394.1 134.1L394.8 133.8L395.6 133.5L396.4 133.1L397.2 132.7L398.0 132.3L398.7 131.8L399.5 131.2L400.3 130.6L401.1 129.9L401.9 129.3L402.7 128.7L403.4 128.3L404.2 128.0L405.0 127.8L405.8 127.7L406.6 127.6L407.3 127.5L408.1 127.4L408.9 127.3L409.7 127.3L410.5 127.2L411.3 127.1L412.0 127.0L412.8 126.9L413.6 126.8L414.4 126.7L415.2 126.6L416.0 126.4L416.7 126.3L417.5 126.2L418.3 126.1L419.1 126.0L419.9 125.8L420.6 125.7L421.4 125.5L422.2 125.4L423.0 125.2L423.8 125.0L424.6 124.9L425.3 124.7L426.1 124.5L426.9 124.3L427.7 124.1L428.5 123.9L429.2 123.7L430.0 123.5L430.8 123.3L431.6 123.1L432.4 122.8L433.2 122.6L433.9 122.4L434.7 122.1L435.5 121.9L436.3 121.7L437.1 121.4L437.8 121.2L438.6 120.9L439.4 120.7L440.2 120.4L441.0 120.2L441.8 120.0L442.5 119.8L443.3 119.5L444.1 119.3L444.9 119.1L445.7 118.9L446.4 118.7L447.2 118.4L448.0 118.2L448.8 117.9L449.6 117.7L450.4 117.4L451.1 117.1L451.9 116.7L452.7 116.4L453.5 116.0L454.3 115.6L455.0 115.2L455.8 114.8L456.6 114.4L457.4 113.9L458.2 113.4L459.0 113.0L459.7 112.4L460.5 111.9L461.3 111.3L462.1 110.8L462.9 110.1L463.6 109.5L464.4 108.8L465.2 108.0L466.0 107.3L466.8 106.5L467.6 105.7L468.3 105.0L469.1 104.2L469.9 103.4L470.7 102.5L471.5 101.7L472.3 100.7L473.0 99.7L473.8 98.6L474.6 97.3L475.4 96.0L476.2 94.6L476.9 93.1L477.7 91.6L478.5 90.0L479.3 88.5L480.1 86.9L480.9 85.2L481.6 83.5L482.4 81.7L483.2 79.9L484.0 78.0L484.8 76.1L485.5 74.2L486.3 72.4L487.1 70.6L487.9 68.7L488.7 66.8L489.5 64.9L490.2 63.0L491.0 61.2L491.8 59.4L492.6 57.8L493.4 56.3L494.1 54.8L494.9 53.4L495.7 52.0L496.5 50.9L497.3 50.0L498.1 49.3L498.8 48.7L499.6 48.0L500.4 47.4L501.2 46.8L502.0 46.4L502.7 45.9L503.5 45.6L504.3 45.4L505.1 45.2L505.9 45.2L506.7 45.3L507.4 45.5L508.2 45.7L509.0 46.0L509.8 46.3L510.6 46.6L511.3 47.0L512.1 47.4L512.9 47.9L513.7 48.5L514.5 49.1L515.3 49.8L516.0 50.6L516.8 51.3L517.6 52.1L518.4 53.0L519.2 54.0L519.9 55.0L520.7 56.1L521.5 57.3L522.3 58.7L523.1 60.3L523.9 61.7L524.6 63.1L525.4 64.5L526.2 65.8L527.0 67.2L527.8 68.6L528.6 70.0L529.3 71.5L530.1 72.9L530.9 74.4L531.7 75.8L532.5 77.3L533.2 78.7L534.0 80.2L534.8 81.6L535.6 83.0L536.4 84.5L537.2 85.9L537.9 87.3L538.7 88.7L539.5 90.1L540.3 91.4L541.1 92.8L541.8 94.2L542.6 95.5L543.4 96.9L544.2 98.2L545.0 99.6L545.8 100.9L546.5 102.3L547.3 103.6L548.1 105.0L548.9 106.3L549.7 107.7L550.4 109.0L551.2 110.4L552.0 111.7L552.8 113.1L553.6 114.5L554.4 115.8L555.1 117.2L555.9 118.5L556.7 119.8L557.5 121.1L558.3 122.3L559.0 123.6L559.8 124.7L560.6 125.9L561.4 127.1L562.2 128.2L563.0 129.3L563.7 130.4L564.5 131.4L565.3 132.4L566.1 133.4L566.9 134.3L567.6 135.2L568.4 136.1L569.2 137.0L570.0 137.8L570.8 138.6L571.6 139.3L572.3 140.0L573.1 140.6L573.9 141.2L574.7 141.7L575.5 142.3L576.2 142.8L577.0 143.3L577.8 143.7L578.6 144.1L579.4 144.5L580.2 144.9L580.9 145.2L581.7 145.5L582.5 145.9L583.3 146.2L584.1 146.4L584.9 146.7L585.6 146.8L586.4 147.0L587.2 147.1L588.0 147.2L588.8 147.3L589.5 147.4L590.3 147.5L591.1 147.6L591.9 147.7L592.7 147.8L593.5 147.9L594.2 147.9L595.0 148.0L595.8 148.1L596.6 148.1L597.4 148.2L598.1 148.2L598.9 148.3L599.7 148.3L600.5 148.3L601.3 148.3L602.1 148.4L602.8 148.4L603.6 148.4L604.4 148.5L605.2 148.5L606.0 148.5L606.7 148.5L607.5 148.5L608.3 148.6L609.1 148.6L609.9 148.6L610.7 148.6L611.4 148.6L612.2 148.6L613.0 148.6" fill="none" stroke="#141414" stroke-width="1.90"/><path d="M378.5 306.3L379.4 306.3L380.3 306.2L381.2 306.2L382.1 306.1L383.0 306.1L383.9 306.0L384.8 305.9L385.8 305.8L386.7 305.7L387.6 305.6L388.5 305.5L389.4 305.4L390.3 305.3L391.2 305.2L392.1 305.0L393.0 304.8L393.9 304.6L394.8 304.3L395.7 303.8L396.6 303.1L397.5 302.4L398.5 301.5L399.4 300.7L400.3 299.7L401.2 298.6L402.1 297.6L403.0 296.8L403.9 296.2L404.8 295.8L405.7 295.4L406.6 295.1L407.5 294.8L408.4 294.4L409.3 294.1L410.2 293.6L411.2 293.2L412.1 292.8L413.0 292.3L413.9 291.9L414.8 291.4L415.7 290.9L416.6 290.4L417.5 290.0L418.4 289.6L419.3 289.1L420.2 288.7L421.1 288.2L422.0 287.7L422.9 287.2L423.8 286.7L424.8 286.2L425.7 285.7L426.6 285.1L427.5 284.5L428.4 284.0L429.3 283.3L430.2 282.7L431.1 282.1L432.0 281.4L432.9 280.7L433.8 280.0L434.7 279.3L435.6 278.5L436.5 277.7L437.5 276.9L438.4 276.1L439.3 275.2L440.2 274.3L441.1 273.4L442.0 272.4L442.9 271.5L443.8 270.5L444.7 269.4L445.6 268.4L446.5 267.3L447.4 266.1L448.3 264.9L449.2 263.6L450.1 262.3L451.1 260.9L452.0 259.5L452.9 258.0L453.8 256.5L454.7 254.9L455.6 253.3L456.5 251.6L457.4 249.8L458.3 248.1L459.2 246.2L460.1 244.3L461.0 242.3L461.9 240.1L462.8 237.6L463.8 234.9L464.7 232.2L465.6 229.4L466.5 226.5L467.4 223.7L468.3 221.0L469.2 218.4L470.1 216.0L471.0 213.7L471.9 211.5L472.8 209.3L473.7 207.2L474.6 205.1L475.5 203.0L476.5 201.0L477.4 198.9L478.3 196.8L479.2 194.8L480.1 192.8L481.0 190.9L481.9 189.1L482.8 187.5L483.7 186.2L484.6 185.3L485.5 184.6L486.4 184.3L487.3 184.5L488.2 185.2L489.1 186.2L490.1 187.7L491.0 189.3L491.9 191.1L492.8 193.1L493.7 195.5L494.6 198.4L495.5 201.8L496.4 205.8L497.3 211.0L498.2 216.5L499.1 220.9L500.0 224.6L500.9 228.1L501.8 231.6L502.8 235.1L503.7 238.5L504.6 241.9L505.5 245.3L506.4 248.7L507.3 252.1L508.2 255.6L509.1 259.1L510.0 262.5L510.9 266.0L511.8 269.4L512.7 272.7L513.6 275.8L514.5 278.7L515.4 281.4L516.4 284.0L517.3 286.3L518.2 288.4L519.1 290.2L520.0 292.0L520.9 293.6L521.8 295.0L522.7 296.0L523.6 296.8L524.5 297.5L525.4 298.2L526.3 298.8L527.2 299.4L528.1 300.0L529.1 300.4L530.0 300.9L530.9 301.3L531.8 301.7L532.7 302.0L533.6 302.3L534.5 302.6L535.4 302.9L536.3 303.2L537.2 303.4L538.1 303.7L539.0 303.9L539.9 304.1L540.8 304.4L541.8 304.6L542.7 304.8L543.6 305.0L544.5 305.1L545.4 305.2L546.3 305.3L547.2 305.4L548.1 305.5L549.0 305.6L549.9 305.6L550.8 305.7L551.7 305.8L552.6 305.8L553.5 305.9L554.4 305.9L555.4 306.0L556.3 306.0L557.2 306.0L558.1 306.1L559.0 306.1L559.9 306.1L560.8 306.1L561.7 306.1L562.6 306.1L563.5 306.2L564.4 306.2L565.3 306.2L566.2 306.2L567.1 306.2L568.1 306.2L569.0 306.2L569.9 306.2L570.8 306.3L571.7 306.3L572.6 306.3L573.5 306.3L574.4 306.3L575.3 306.3L576.2 306.3L577.1 306.3L578.0 306.3L578.9 306.3L579.8 306.3L580.7 306.3L581.7 306.3L582.6 306.3L583.5 306.3L584.4 306.3L585.3 306.3L586.2 306.3L587.1 306.3L588.0 306.3L588.9 306.3L589.8 306.3L590.7 306.3L591.6 306.3L592.5 306.3L593.4 306.3L594.4 306.3L595.3 306.3L596.2 306.3L597.1 306.3L598.0 306.3L598.9 306.3L599.8 306.3L600.7 306.3L601.6 306.3L602.5 306.3L603.4 306.3L604.3 306.3L605.2 306.3L606.1 306.3L607.1 306.3L608.0 306.3L608.9 306.3L609.8 306.3L610.7 306.3L611.6 306.3L612.5 306.3L613.4 306.3" fill="none" stroke="#1a1a1a" stroke-width="1.30"/><path d="M378.5 306.3L379.4 306.3L380.3 306.2L381.2 306.2L382.1 306.1L383.0 306.1L383.9 306.0L384.8 305.9L385.8 305.8L386.7 305.7L387.6 305.6L388.5 305.5L389.4 305.4L390.3 305.3L391.2 305.2L392.1 305.0L393.0 304.8L393.9 304.6L394.8 304.3L395.7 303.8L396.6 303.1L397.5 302.4L398.5 301.6L399.4 300.7L400.3 299.8L401.2 298.8L402.1 297.8L403.0 297.0L403.9 296.4L404.8 295.9L405.7 295.6L406.6 295.2L407.5 294.9L408.4 294.6L409.3 294.3L410.2 293.9L411.2 293.5L412.1 293.1L413.0 292.7L413.9 292.3L414.8 291.8L415.7 291.4L416.6 290.9L417.5 290.5L418.4 290.0L419.3 289.6L420.2 289.2L421.1 288.7L422.0 288.2L422.9 287.8L423.8 287.3L424.8 286.8L425.7 286.2L426.6 285.7L427.5 285.2L428.4 284.6L429.3 284.0L430.2 283.4L431.1 282.8L432.0 282.1L432.9 281.5L433.8 280.8L434.7 280.1L435.6 279.3L436.5 278.6L437.5 277.8L438.4 277.0L439.3 276.1L440.2 275.3L441.1 274.4L442.0 273.5L442.9 272.5L443.8 271.6L444.7 270.6L445.6 269.5L446.5 268.5L447.4 267.4L448.3 266.2L449.2 265.0L450.1 263.7L451.1 262.4L452.0 261.1L452.9 259.6L453.8 258.2L454.7 256.7L455.6 255.1L456.5 253.5L457.4 251.8L458.3 250.0L459.2 248.2L460.1 246.4L461.0 244.5L461.9 242.5L462.8 240.3L463.8 237.8L464.7 235.2L465.6 232.5L466.5 229.6L467.4 226.8L468.3 224.0L469.2 221.3L470.1 218.6L471.0 216.2L471.9 213.9L472.8 211.7L473.7 209.6L474.6 207.4L475.5 205.3L476.5 203.3L477.4 201.2L478.3 199.1L479.2 197.0L480.1 195.0L481.0 193.0L481.9 191.1L482.8 189.2L483.7 187.7L484.6 186.4L485.5 185.3L486.4 184.7L487.3 184.3L488.2 184.5L489.1 185.1L490.1 186.0L491.0 187.5L491.9 189.2L492.8 190.9L493.7 192.9L494.6 195.3L495.5 198.1L496.4 201.5L497.3 205.3L498.2 210.4L499.1 216.0L500.0 220.5L500.9 224.2L501.8 227.7L502.8 231.3L503.7 234.7L504.6 238.1L505.5 241.5L506.4 244.9L507.3 248.3L508.2 251.7L509.1 255.2L510.0 258.7L510.9 262.2L511.8 265.6L512.7 269.0L513.6 272.4L514.5 275.5L515.4 278.4L516.4 281.1L517.3 283.7L518.2 286.1L519.1 288.2L520.0 290.0L520.9 291.8L521.8 293.4L522.7 294.8L523.6 295.9L524.5 296.8L525.4 297.5L526.3 298.3L527.2 298.9L528.1 299.5L529.1 300.1L530.0 300.6L530.9 301.1L531.8 301.5L532.7 301.8L533.6 302.2L534.5 302.5L535.4 302.8L536.3 303.1L537.2 303.4L538.1 303.7L539.0 303.9L539.9 304.1L540.8 304.4L541.8 304.6L542.7 304.8L543.6 305.0L544.5 305.1L545.4 305.2L546.3 305.3L547.2 305.4L548.1 305.5L549.0 305.6L549.9 305.6L550.8 305.7L551.7 305.8L552.6 305.8L553.5 305.9L554.4 305.9L555.4 306.0L556.3 306.0L557.2 306.0L558.1 306.1L559.0 306.1L559.9 306.1L560.8 306.1L561.7 306.1L562.6 306.1L563.5 306.2L564.4 306.2L565.3 306.2L566.2 306.2L567.1 306.2L568.1 306.2L569.0 306.2L569.9 306.2L570.8 306.3L571.7 306.3L572.6 306.3L573.5 306.3L574.4 306.3L575.3 306.3L576.2 306.3L577.1 306.3L578.0 306.3L578.9 306.3L579.8 306.3L580.7 306.3L581.7 306.3L582.6 306.3L583.5 306.3L584.4 306.3L585.3 306.3L586.2 306.3L587.1 306.3L588.0 306.3L588.9 306.3L589.8 306.3L590.7 306.3L591.6 306.3L592.5 306.3L593.4 306.3L594.4 306.3L595.3 306.3L596.2 306.3L597.1 306.3L598.0 306.3L598.9 306.3L599.8 306.3L600.7 306.3L601.6 306.3L602.5 306.3L603.4 306.3L604.3 306.3L605.2 306.3L606.1 306.3L607.1 306.3L608.0 306.3L608.9 306.3L609.8 306.3L610.7 306.3L611.6 306.3L612.5 306.3L613.4 306.3" fill="none" stroke="#a050c8" stroke-width="0.85"/><path d="M378.5 306.3L379.4 306.3L380.3 306.2L381.2 306.2L382.1 306.1L383.0 306.1L383.9 306.0L384.8 305.9L385.8 305.8L386.7 305.7L387.6 305.6L388.5 305.5L389.4 305.4L390.3 305.3L391.2 305.2L392.1 305.0L393.0 304.8L393.9 304.6L394.8 304.3L395.7 303.8L396.6 303.1L397.5 302.4L398.5 301.6L399.4 300.8L400.3 299.9L401.2 299.0L402.1 298.0L403.0 297.2L403.9 296.6L404.8 296.1L405.7 295.7L406.6 295.4L407.5 295.1L408.4 294.8L409.3 294.5L410.2 294.2L411.2 293.8L412.1 293.4L413.0 293.1L413.9 292.7L414.8 292.3L415.7 291.8L416.6 291.4L417.5 291.0L418.4 290.5L419.3 290.1L420.2 289.6L421.1 289.2L422.0 288.7L422.9 288.3L423.8 287.8L424.8 287.3L425.7 286.8L426.6 286.3L427.5 285.8L428.4 285.2L429.3 284.7L430.2 284.1L431.1 283.5L432.0 282.8L432.9 282.2L433.8 281.5L434.7 280.8L435.6 280.1L436.5 279.4L437.5 278.6L438.4 277.9L439.3 277.1L440.2 276.2L441.1 275.4L442.0 274.5L442.9 273.6L443.8 272.6L444.7 271.7L445.6 270.7L446.5 269.6L447.4 268.6L448.3 267.5L449.2 266.3L450.1 265.1L451.1 263.9L452.0 262.6L452.9 261.2L453.8 259.8L454.7 258.3L455.6 256.8L456.5 255.2L457.4 253.6L458.3 251.9L459.2 250.2L460.1 248.4L461.0 246.6L461.9 244.7L462.8 242.7L463.8 240.5L464.7 238.1L465.6 235.5L466.5 232.8L467.4 229.9L468.3 227.1L469.2 224.3L470.1 221.5L471.0 218.9L471.9 216.5L472.8 214.2L473.7 211.9L474.6 209.8L475.5 207.6L476.5 205.6L477.4 203.5L478.3 201.4L479.2 199.3L480.1 197.2L481.0 195.2L481.9 193.2L482.8 191.3L483.7 189.4L484.6 187.8L485.5 186.5L486.4 185.4L487.3 184.8L488.2 184.3L489.1 184.4L490.1 185.0L491.0 185.9L491.9 187.4L492.8 189.0L493.7 190.7L494.6 192.7L495.5 195.0L496.4 197.8L497.3 201.1L498.2 204.9L499.1 209.8L500.0 215.5L500.9 220.0L501.8 223.8L502.8 227.4L503.7 230.9L504.6 234.4L505.5 237.8L506.4 241.2L507.3 244.6L508.2 248.0L509.1 251.4L510.0 254.9L510.9 258.4L511.8 261.8L512.7 265.2L513.6 268.7L514.5 272.0L515.4 275.2L516.4 278.1L517.3 280.9L518.2 283.5L519.1 285.9L520.0 288.0L520.9 289.8L521.8 291.6L522.7 293.3L523.6 294.7L524.5 295.9L525.4 296.8L526.3 297.6L527.2 298.3L528.1 299.0L529.1 299.7L530.0 300.3L530.9 300.8L531.8 301.2L532.7 301.7L533.6 302.0L534.5 302.4L535.4 302.7L536.3 303.0L537.2 303.3L538.1 303.6L539.0 303.9L539.9 304.1L540.8 304.4L541.8 304.6L542.7 304.8L543.6 305.0L544.5 305.1L545.4 305.2L546.3 305.3L547.2 305.4L548.1 305.5L549.0 305.6L549.9 305.6L550.8 305.7L551.7 305.8L552.6 305.8L553.5 305.9L554.4 305.9L555.4 306.0L556.3 306.0L557.2 306.0L558.1 306.1L559.0 306.1L559.9 306.1L560.8 306.1L561.7 306.1L562.6 306.1L563.5 306.2L564.4 306.2L565.3 306.2L566.2 306.2L567.1 306.2L568.1 306.2L569.0 306.2L569.9 306.2L570.8 306.3L571.7 306.3L572.6 306.3L573.5 306.3L574.4 306.3L575.3 306.3L576.2 306.3L577.1 306.3L578.0 306.3L578.9 306.3L579.8 306.3L580.7 306.3L581.7 306.3L582.6 306.3L583.5 306.3L584.4 306.3L585.3 306.3L586.2 306.3L587.1 306.3L588.0 306.3L588.9 306.3L589.8 306.3L590.7 306.3L591.6 306.3L592.5 306.3L593.4 306.3L594.4 306.3L595.3 306.3L596.2 306.3L597.1 306.3L598.0 306.3L598.9 306.3L599.8 306.3L600.7 306.3L601.6 306.3L602.5 306.3L603.4 306.3L604.3 306.3L605.2 306.3L606.1 306.3L607.1 306.3L608.0 306.3L608.9 306.3L609.8 306.3L610.7 306.3L611.6 306.3L612.5 306.3L613.4 306.3" fill="none" stroke="#d880c0" stroke-width="0.85"/><path d="M378.5 306.3L379.4 306.3L380.3 306.2L381.2 306.2L382.1 306.1L383.0 306.1L383.9 306.0L384.8 305.9L385.8 305.8L386.7 305.7L387.6 305.6L388.5 305.5L389.4 305.4L390.3 305.3L391.2 305.2L392.1 305.0L393.0 304.8L393.9 304.6L394.8 304.3L395.7 303.8L396.6 303.1L397.5 302.4L398.5 301.6L399.4 300.9L400.3 300.0L401.2 299.1L402.1 298.2L403.0 297.4L403.9 296.7L404.8 296.3L405.7 295.9L406.6 295.5L407.5 295.2L408.4 295.0L409.3 294.7L410.2 294.4L411.2 294.1L412.1 293.7L413.0 293.4L413.9 293.0L414.8 292.6L415.7 292.2L416.6 291.8L417.5 291.4L418.4 291.0L419.3 290.6L420.2 290.1L421.1 289.7L422.0 289.2L422.9 288.8L423.8 288.3L424.8 287.9L425.7 287.4L426.6 286.9L427.5 286.4L428.4 285.8L429.3 285.3L430.2 284.7L431.1 284.1L432.0 283.5L432.9 282.9L433.8 282.3L434.7 281.6L435.6 280.9L436.5 280.2L437.5 279.5L438.4 278.7L439.3 277.9L440.2 277.1L441.1 276.3L442.0 275.5L442.9 274.6L443.8 273.7L444.7 272.7L445.6 271.8L446.5 270.8L447.4 269.8L448.3 268.7L449.2 267.6L450.1 266.5L451.1 265.3L452.0 264.0L452.9 262.7L453.8 261.4L454.7 259.9L455.6 258.5L456.5 257.0L457.4 255.4L458.3 253.8L459.2 252.1L460.1 250.4L461.0 248.6L461.9 246.8L462.8 244.9L463.8 242.9L464.7 240.8L465.6 238.4L466.5 235.8L467.4 233.0L468.3 230.2L469.2 227.4L470.1 224.6L471.0 221.8L471.9 219.2L472.8 216.7L473.7 214.4L474.6 212.2L475.5 210.0L476.5 207.9L477.4 205.8L478.3 203.7L479.2 201.6L480.1 199.5L481.0 197.4L481.9 195.4L482.8 193.4L483.7 191.5L484.6 189.6L485.5 188.0L486.4 186.6L487.3 185.5L488.2 184.8L489.1 184.3L490.1 184.4L491.0 184.9L491.9 185.8L492.8 187.2L493.7 188.8L494.6 190.5L495.5 192.5L496.4 194.7L497.3 197.5L498.2 200.7L499.1 204.5L500.0 209.3L500.9 214.9L501.8 219.6L502.8 223.5L503.7 227.0L504.6 230.5L505.5 234.0L506.4 237.4L507.3 240.8L508.2 244.2L509.1 247.6L510.0 251.0L510.9 254.5L511.8 258.0L512.7 261.5L513.6 264.9L514.5 268.3L515.4 271.7L516.4 274.9L517.3 277.8L518.2 280.6L519.1 283.2L520.0 285.6L520.9 287.8L521.8 289.7L522.7 291.4L523.6 293.1L524.5 294.6L525.4 295.8L526.3 296.8L527.2 297.6L528.1 298.4L529.1 299.2L530.0 299.8L530.9 300.4L531.8 301.0L532.7 301.4L533.6 301.8L534.5 302.2L535.4 302.6L536.3 302.9L537.2 303.3L538.1 303.6L539.0 303.9L539.9 304.1L540.8 304.4L541.8 304.6L542.7 304.8L543.6 305.0L544.5 305.1L545.4 305.2L546.3 305.3L547.2 305.4L548.1 305.5L549.0 305.6L549.9 305.6L550.8 305.7L551.7 305.8L552.6 305.8L553.5 305.9L554.4 305.9L555.4 306.0L556.3 306.0L557.2 306.0L558.1 306.1L559.0 306.1L559.9 306.1L560.8 306.1L561.7 306.1L562.6 306.1L563.5 306.2L564.4 306.2L565.3 306.2L566.2 306.2L567.1 306.2L568.1 306.2L569.0 306.2L569.9 306.2L570.8 306.3L571.7 306.3L572.6 306.3L573.5 306.3L574.4 306.3L575.3 306.3L576.2 306.3L577.1 306.3L578.0 306.3L578.9 306.3L579.8 306.3L580.7 306.3L581.7 306.3L582.6 306.3L583.5 306.3L584.4 306.3L585.3 306.3L586.2 306.3L587.1 306.3L588.0 306.3L588.9 306.3L589.8 306.3L590.7 306.3L591.6 306.3L592.5 306.3L593.4 306.3L594.4 306.3L595.3 306.3L596.2 306.3L597.1 306.3L598.0 306.3L598.9 306.3L599.8 306.3L600.7 306.3L601.6 306.3L602.5 306.3L603.4 306.3L604.3 306.3L605.2 306.3L606.1 306.3L607.1 306.3L608.0 306.3L608.9 306.3L609.8 306.3L610.7 306.3L611.6 306.3L612.5 306.3L613.4 306.3" fill="none" stroke="#7890e0" stroke-width="0.85"/><path d="M378.5 306.3L379.4 306.3L380.3 306.2L381.2 306.2L382.1 306.1L383.0 306.1L383.9 306.0L384.8 305.9L385.8 305.8L386.7 305.7L387.6 305.6L388.5 305.5L389.4 305.4L390.3 305.3L391.2 305.2L392.1 305.0L393.0 304.8L393.9 304.6L394.8 304.3L395.7 303.8L396.6 303.1L397.5 302.4L398.5 301.6L399.4 300.9L400.3 300.1L401.2 299.3L402.1 298.4L403.0 297.6L403.9 296.9L404.8 296.4L405.7 296.0L406.6 295.7L407.5 295.4L408.4 295.1L409.3 294.8L410.2 294.6L411.2 294.3L412.1 294.0L413.0 293.6L413.9 293.3L414.8 292.9L415.7 292.6L416.6 292.2L417.5 291.8L418.4 291.4L419.3 291.0L420.2 290.6L421.1 290.2L422.0 289.7L422.9 289.3L423.8 288.8L424.8 288.4L425.7 287.9L426.6 287.4L427.5 286.9L428.4 286.4L429.3 285.9L430.2 285.3L431.1 284.8L432.0 284.2L432.9 283.6L433.8 283.0L434.7 282.3L435.6 281.7L436.5 281.0L437.5 280.3L438.4 279.6L439.3 278.8L440.2 278.0L441.1 277.2L442.0 276.4L442.9 275.6L443.8 274.7L444.7 273.8L445.6 272.8L446.5 271.9L447.4 270.9L448.3 269.9L449.2 268.8L450.1 267.7L451.1 266.6L452.0 265.4L452.9 264.1L453.8 262.8L454.7 261.5L455.6 260.1L456.5 258.6L457.4 257.1L458.3 255.6L459.2 254.0L460.1 252.3L461.0 250.6L461.9 248.8L462.8 247.0L463.8 245.1L464.7 243.1L465.6 241.0L466.5 238.6L467.4 236.0L468.3 233.3L469.2 230.5L470.1 227.7L471.0 224.8L471.9 222.1L472.8 219.4L473.7 216.9L474.6 214.6L475.5 212.4L476.5 210.2L477.4 208.1L478.3 206.0L479.2 203.9L480.1 201.8L481.0 199.7L481.9 197.6L482.8 195.6L483.7 193.6L484.6 191.7L485.5 189.8L486.4 188.1L487.3 186.7L488.2 185.6L489.1 184.9L490.1 184.4L491.0 184.4L491.9 184.9L492.8 185.7L493.7 187.0L494.6 188.7L495.5 190.4L496.4 192.3L497.3 194.5L498.2 197.1L499.1 200.4L500.0 204.1L500.9 208.7L501.8 214.4L502.8 219.2L503.7 223.1L504.6 226.7L505.5 230.2L506.4 233.7L507.3 237.1L508.2 240.5L509.1 243.9L510.0 247.3L510.9 250.7L511.8 254.1L512.7 257.7L513.6 261.1L514.5 264.5L515.4 268.0L516.4 271.4L517.3 274.6L518.2 277.5L519.1 280.3L520.0 283.0L520.9 285.4L521.8 287.6L522.7 289.5L523.6 291.3L524.5 292.9L525.4 294.4L526.3 295.7L527.2 296.8L528.1 297.7L529.1 298.5L530.0 299.3L530.9 300.0L531.8 300.6L532.7 301.2L533.6 301.6L534.5 302.1L535.4 302.5L536.3 302.8L537.2 303.2L538.1 303.5L539.0 303.8L539.9 304.1L540.8 304.4L541.8 304.6L542.7 304.8L543.6 305.0L544.5 305.1L545.4 305.2L546.3 305.3L547.2 305.4L548.1 305.5L549.0 305.6L549.9 305.6L550.8 305.7L551.7 305.8L552.6 305.8L553.5 305.9L554.4 305.9L555.4 306.0L556.3 306.0L557.2 306.0L558.1 306.1L559.0 306.1L559.9 306.1L560.8 306.1L561.7 306.1L562.6 306.1L563.5 306.2L564.4 306.2L565.3 306.2L566.2 306.2L567.1 306.2L568.1 306.2L569.0 306.2L569.9 306.2L570.8 306.3L571.7 306.3L572.6 306.3L573.5 306.3L574.4 306.3L575.3 306.3L576.2 306.3L577.1 306.3L578.0 306.3L578.9 306.3L579.8 306.3L580.7 306.3L581.7 306.3L582.6 306.3L583.5 306.3L584.4 306.3L585.3 306.3L586.2 306.3L587.1 306.3L588.0 306.3L588.9 306.3L589.8 306.3L590.7 306.3L591.6 306.3L592.5 306.3L593.4 306.3L594.4 306.3L595.3 306.3L596.2 306.3L597.1 306.3L598.0 306.3L598.9 306.3L599.8 306.3L600.7 306.3L601.6 306.3L602.5 306.3L603.4 306.3L604.3 306.3L605.2 306.3L606.1 306.3L607.1 306.3L608.0 306.3L608.9 306.3L609.8 306.3L610.7 306.3L611.6 306.3L612.5 306.3L613.4 306.3" fill="none" stroke="#60c8d8" stroke-width="0.85"/><path d="M378.5 306.3L379.4 306.3L380.3 306.2L381.2 306.2L382.1 306.1L383.0 306.1L383.9 306.0L384.8 305.9L385.8 305.8L386.7 305.7L387.6 305.6L388.5 305.5L389.4 305.4L390.3 305.3L391.2 305.2L392.1 305.0L393.0 304.8L393.9 304.6L394.8 304.3L395.7 303.8L396.6 303.1L397.5 302.4L398.5 301.6L399.4 301.0L400.3 300.2L401.2 299.4L402.1 298.6L403.0 297.8L403.9 297.1L404.8 296.5L405.7 296.1L406.6 295.8L407.5 295.5L408.4 295.2L409.3 295.0L410.2 294.7L411.2 294.5L412.1 294.2L413.0 293.9L413.9 293.6L414.8 293.2L415.7 292.9L416.6 292.5L417.5 292.2L418.4 291.8L419.3 291.4L420.2 291.0L421.1 290.6L422.0 290.2L422.9 289.8L423.8 289.3L424.8 288.9L425.7 288.4L426.6 288.0L427.5 287.5L428.4 287.0L429.3 286.5L430.2 285.9L431.1 285.4L432.0 284.8L432.9 284.3L433.8 283.7L434.7 283.0L435.6 282.4L436.5 281.7L437.5 281.1L438.4 280.4L439.3 279.6L440.2 278.9L441.1 278.1L442.0 277.3L442.9 276.5L443.8 275.6L444.7 274.8L445.6 273.9L446.5 272.9L447.4 272.0L448.3 271.0L449.2 270.0L450.1 268.9L451.1 267.8L452.0 266.7L452.9 265.5L453.8 264.3L454.7 263.0L455.6 261.6L456.5 260.2L457.4 258.8L458.3 257.3L459.2 255.7L460.1 254.1L461.0 252.5L461.9 250.8L462.8 249.0L463.8 247.2L464.7 245.3L465.6 243.4L466.5 241.2L467.4 238.9L468.3 236.3L469.2 233.6L470.1 230.8L471.0 228.0L471.9 225.1L472.8 222.4L473.7 219.7L474.6 217.2L475.5 214.9L476.5 212.6L477.4 210.4L478.3 208.3L479.2 206.2L480.1 204.1L481.0 202.0L481.9 199.9L482.8 197.9L483.7 195.8L484.6 193.8L485.5 191.9L486.4 190.0L487.3 188.3L488.2 186.9L489.1 185.7L490.1 184.9L491.0 184.4L491.9 184.4L492.8 184.8L493.7 185.6L494.6 186.9L495.5 188.5L496.4 190.2L497.3 192.1L498.2 194.2L499.1 196.8L500.0 200.0L500.9 203.7L501.8 208.2L502.8 213.8L503.7 218.8L504.6 222.7L505.5 226.3L506.4 229.8L507.3 233.3L508.2 236.7L509.1 240.1L510.0 243.5L510.9 246.9L511.8 250.3L512.7 253.8L513.6 257.3L514.5 260.8L515.4 264.2L516.4 267.6L517.3 271.0L518.2 274.3L519.1 277.2L520.0 280.0L520.9 282.7L521.8 285.2L522.7 287.4L523.6 289.3L524.5 291.1L525.4 292.8L526.3 294.3L527.2 295.6L528.1 296.8L529.1 297.7L530.0 298.7L530.9 299.5L531.8 300.2L532.7 300.9L533.6 301.4L534.5 301.9L535.4 302.3L536.3 302.7L537.2 303.1L538.1 303.5L539.0 303.8L539.9 304.1L540.8 304.4L541.8 304.6L542.7 304.8L543.6 305.0L544.5 305.1L545.4 305.2L546.3 305.3L547.2 305.4L548.1 305.5L549.0 305.6L549.9 305.6L550.8 305.7L551.7 305.8L552.6 305.8L553.5 305.9L554.4 305.9L555.4 306.0L556.3 306.0L557.2 306.0L558.1 306.1L559.0 306.1L559.9 306.1L560.8 306.1L561.7 306.1L562.6 306.1L563.5 306.2L564.4 306.2L565.3 306.2L566.2 306.2L567.1 306.2L568.1 306.2L569.0 306.2L569.9 306.2L570.8 306.3L571.7 306.3L572.6 306.3L573.5 306.3L574.4 306.3L575.3 306.3L576.2 306.3L577.1 306.3L578.0 306.3L578.9 306.3L579.8 306.3L580.7 306.3L581.7 306.3L582.6 306.3L583.5 306.3L584.4 306.3L585.3 306.3L586.2 306.3L587.1 306.3L588.0 306.3L588.9 306.3L589.8 306.3L590.7 306.3L591.6 306.3L592.5 306.3L593.4 306.3L594.4 306.3L595.3 306.3L596.2 306.3L597.1 306.3L598.0 306.3L598.9 306.3L599.8 306.3L600.7 306.3L601.6 306.3L602.5 306.3L603.4 306.3L604.3 306.3L605.2 306.3L606.1 306.3L607.1 306.3L608.0 306.3L608.9 306.3L609.8 306.3L610.7 306.3L611.6 306.3L612.5 306.3L613.4 306.3" fill="none" stroke="#4a58c0" stroke-width="0.85"/><path d="M378.5 306.3L379.4 306.3L380.3 306.2L381.2 306.2L382.1 306.1L383.0 306.1L383.9 306.0L384.8 305.9L385.8 305.8L386.7 305.7L387.6 305.6L388.5 305.5L389.4 305.4L390.3 305.3L391.2 305.2L392.1 305.0L393.0 304.8L393.9 304.6L394.8 304.3L395.7 303.8L396.6 303.1L397.5 302.4L398.5 301.7L399.4 301.0L400.3 300.3L401.2 299.5L402.1 298.7L403.0 298.0L403.9 297.3L404.8 296.7L405.7 296.3L406.6 295.9L407.5 295.6L408.4 295.4L409.3 295.1L410.2 294.9L411.2 294.6L412.1 294.4L413.0 294.1L413.9 293.8L414.8 293.5L415.7 293.2L416.6 292.8L417.5 292.5L418.4 292.2L419.3 291.8L420.2 291.4L421.1 291.1L422.0 290.7L422.9 290.3L423.8 289.8L424.8 289.4L425.7 288.9L426.6 288.5L427.5 288.0L428.4 287.5L429.3 287.0L430.2 286.5L431.1 286.0L432.0 285.5L432.9 284.9L433.8 284.3L434.7 283.7L435.6 283.1L436.5 282.5L437.5 281.8L438.4 281.1L439.3 280.4L440.2 279.7L441.1 279.0L442.0 278.2L442.9 277.4L443.8 276.6L444.7 275.7L445.6 274.9L446.5 274.0L447.4 273.0L448.3 272.1L449.2 271.1L450.1 270.1L451.1 269.0L452.0 267.9L452.9 266.8L453.8 265.6L454.7 264.4L455.6 263.1L456.5 261.8L457.4 260.4L458.3 258.9L459.2 257.4L460.1 255.9L461.0 254.3L461.9 252.6L462.8 250.9L463.8 249.2L464.7 247.3L465.6 245.5L466.5 243.6L467.4 241.5L468.3 239.1L469.2 236.6L470.1 233.9L471.0 231.1L471.9 228.3L472.8 225.4L473.7 222.6L474.6 220.0L475.5 217.4L476.5 215.1L477.4 212.8L478.3 210.7L479.2 208.5L480.1 206.4L481.0 204.3L481.9 202.2L482.8 200.2L483.7 198.1L484.6 196.0L485.5 194.0L486.4 192.1L487.3 190.2L488.2 188.4L489.1 187.0L490.1 185.8L491.0 185.0L491.9 184.5L492.8 184.3L493.7 184.8L494.6 185.5L495.5 186.7L496.4 188.3L497.3 190.0L498.2 191.9L499.1 194.0L500.0 196.6L500.9 199.7L501.8 203.3L502.8 207.6L503.7 213.2L504.6 218.3L505.5 222.3L506.4 225.9L507.3 229.4L508.2 233.0L509.1 236.4L510.0 239.8L510.9 243.2L511.8 246.6L512.7 250.0L513.6 253.4L514.5 256.9L515.4 260.4L516.4 263.8L517.3 267.3L518.2 270.7L519.1 273.9L520.0 276.9L520.9 279.8L521.8 282.4L522.7 284.9L523.6 287.1L524.5 289.1L525.4 290.9L526.3 292.6L527.2 294.1L528.1 295.5L529.1 296.7L530.0 297.8L530.9 298.8L531.8 299.7L532.7 300.4L533.6 301.1L534.5 301.6L535.4 302.1L536.3 302.6L537.2 303.0L538.1 303.4L539.0 303.8L539.9 304.1L540.8 304.4L541.8 304.6L542.7 304.8L543.6 305.0L544.5 305.1L545.4 305.2L546.3 305.3L547.2 305.4L548.1 305.5L549.0 305.6L549.9 305.6L550.8 305.7L551.7 305.8L552.6 305.8L553.5 305.9L554.4 305.9L555.4 306.0L556.3 306.0L557.2 306.0L558.1 306.1L559.0 306.1L559.9 306.1L560.8 306.1L561.7 306.1L562.6 306.1L563.5 306.2L564.4 306.2L565.3 306.2L566.2 306.2L567.1 306.2L568.1 306.2L569.0 306.2L569.9 306.2L570.8 306.3L571.7 306.3L572.6 306.3L573.5 306.3L574.4 306.3L575.3 306.3L576.2 306.3L577.1 306.3L578.0 306.3L578.9 306.3L579.8 306.3L580.7 306.3L581.7 306.3L582.6 306.3L583.5 306.3L584.4 306.3L585.3 306.3L586.2 306.3L587.1 306.3L588.0 306.3L588.9 306.3L589.8 306.3L590.7 306.3L591.6 306.3L592.5 306.3L593.4 306.3L594.4 306.3L595.3 306.3L596.2 306.3L597.1 306.3L598.0 306.3L598.9 306.3L599.8 306.3L600.7 306.3L601.6 306.3L602.5 306.3L603.4 306.3L604.3 306.3L605.2 306.3L606.1 306.3L607.1 306.3L608.0 306.3L608.9 306.3L609.8 306.3L610.7 306.3L611.6 306.3L612.5 306.3L613.4 306.3" fill="none" stroke="#30a060" stroke-width="0.85"/><path d="M378.5 306.3L379.4 306.3L380.3 306.2L381.2 306.2L382.1 306.1L383.0 306.1L383.9 306.0L384.8 305.9L385.8 305.8L386.7 305.7L387.6 305.6L388.5 305.5L389.4 305.4L390.3 305.3L391.2 305.2L392.1 305.0L393.0 304.8L393.9 304.6L394.8 304.3L395.7 303.8L396.6 303.1L397.5 302.4L398.5 301.7L399.4 301.0L400.3 300.4L401.2 299.6L402.1 298.9L403.0 298.1L403.9 297.4L404.8 296.9L405.7 296.4L406.6 296.1L407.5 295.8L408.4 295.5L409.3 295.2L410.2 295.0L411.2 294.8L412.1 294.5L413.0 294.3L413.9 294.0L414.8 293.7L415.7 293.4L416.6 293.1L417.5 292.8L418.4 292.5L419.3 292.1L420.2 291.8L421.1 291.4L422.0 291.1L422.9 290.7L423.8 290.3L424.8 289.9L425.7 289.4L426.6 289.0L427.5 288.5L428.4 288.1L429.3 287.6L430.2 287.1L431.1 286.6L432.0 286.0L432.9 285.5L433.8 285.0L434.7 284.4L435.6 283.8L436.5 283.2L437.5 282.5L438.4 281.9L439.3 281.2L440.2 280.5L441.1 279.8L442.0 279.0L442.9 278.3L443.8 277.5L444.7 276.7L445.6 275.8L446.5 274.9L447.4 274.1L448.3 273.1L449.2 272.2L450.1 271.2L451.1 270.2L452.0 269.1L452.9 268.1L453.8 266.9L454.7 265.8L455.6 264.5L456.5 263.2L457.4 261.9L458.3 260.5L459.2 259.1L460.1 257.6L461.0 256.1L461.9 254.5L462.8 252.8L463.8 251.1L464.7 249.3L465.6 247.5L466.5 245.7L467.4 243.8L468.3 241.7L469.2 239.4L470.1 236.9L471.0 234.2L471.9 231.4L472.8 228.6L473.7 225.7L474.6 222.9L475.5 220.2L476.5 217.7L477.4 215.3L478.3 213.1L479.2 210.9L480.1 208.7L481.0 206.6L481.9 204.5L482.8 202.5L483.7 200.4L484.6 198.3L485.5 196.2L486.4 194.2L487.3 192.3L488.2 190.4L489.1 188.6L490.1 187.1L491.0 185.9L491.9 185.1L492.8 184.5L493.7 184.3L494.6 184.7L495.5 185.4L496.4 186.6L497.3 188.2L498.2 189.8L499.1 191.6L500.0 193.8L500.9 196.3L501.8 199.3L502.8 202.9L503.7 207.1L504.6 212.6L505.5 217.8L506.4 221.9L507.3 225.6L508.2 229.1L509.1 232.6L510.0 236.0L510.9 239.4L511.8 242.8L512.7 246.2L513.6 249.6L514.5 253.1L515.4 256.6L516.4 260.1L517.3 263.5L518.2 266.9L519.1 270.3L520.0 273.6L520.9 276.7L521.8 279.5L522.7 282.2L523.6 284.7L524.5 286.9L525.4 288.9L526.3 290.7L527.2 292.4L528.1 294.0L529.1 295.4L530.0 296.7L530.9 297.9L531.8 299.0L532.7 299.9L533.6 300.7L534.5 301.4L535.4 301.9L536.3 302.4L537.2 302.9L538.1 303.3L539.0 303.8L539.9 304.1L540.8 304.4L541.8 304.6L542.7 304.8L543.6 305.0L544.5 305.1L545.4 305.2L546.3 305.3L547.2 305.4L548.1 305.5L549.0 305.6L549.9 305.6L550.8 305.7L551.7 305.8L552.6 305.8L553.5 305.9L554.4 305.9L555.4 306.0L556.3 306.0L557.2 306.0L558.1 306.1L559.0 306.1L559.9 306.1L560.8 306.1L561.7 306.1L562.6 306.1L563.5 306.2L564.4 306.2L565.3 306.2L566.2 306.2L567.1 306.2L568.1 306.2L569.0 306.2L569.9 306.2L570.8 306.3L571.7 306.3L572.6 306.3L573.5 306.3L574.4 306.3L575.3 306.3L576.2 306.3L577.1 306.3L578.0 306.3L578.9 306.3L579.8 306.3L580.7 306.3L581.7 306.3L582.6 306.3L583.5 306.3L584.4 306.3L585.3 306.3L586.2 306.3L587.1 306.3L588.0 306.3L588.9 306.3L589.8 306.3L590.7 306.3L591.6 306.3L592.5 306.3L593.4 306.3L594.4 306.3L595.3 306.3L596.2 306.3L597.1 306.3L598.0 306.3L598.9 306.3L599.8 306.3L600.7 306.3L601.6 306.3L602.5 306.3L603.4 306.3L604.3 306.3L605.2 306.3L606.1 306.3L607.1 306.3L608.0 306.3L608.9 306.3L609.8 306.3L610.7 306.3L611.6 306.3L612.5 306.3L613.4 306.3" fill="none" stroke="#e04848" stroke-width="0.85"/><path d="M378.5 306.3L379.4 306.3L380.3 306.2L381.2 306.2L382.1 306.1L383.0 306.1L383.9 306.0L384.8 305.9L385.8 305.8L386.7 305.7L387.6 305.6L388.5 305.5L389.4 305.4L390.3 305.3L391.2 305.2L392.1 305.0L393.0 304.8L393.9 304.6L394.8 304.3L395.7 303.8L396.6 303.1L397.5 302.4L398.5 301.7L399.4 301.1L400.3 300.4L401.2 299.7L402.1 299.0L403.0 298.3L403.9 297.6L404.8 297.0L405.7 296.5L406.6 296.2L407.5 295.9L408.4 295.6L409.3 295.3L410.2 295.1L411.2 294.9L412.1 294.7L413.0 294.5L413.9 294.2L414.8 293.9L415.7 293.6L416.6 293.3L417.5 293.0L418.4 292.7L419.3 292.4L420.2 292.1L421.1 291.8L422.0 291.5L422.9 291.1L423.8 290.8L424.8 290.3L425.7 289.9L426.6 289.5L427.5 289.0L428.4 288.6L429.3 288.1L430.2 287.6L431.1 287.1L432.0 286.6L432.9 286.1L433.8 285.6L434.7 285.0L435.6 284.4L436.5 283.8L437.5 283.2L438.4 282.6L439.3 281.9L440.2 281.3L441.1 280.6L442.0 279.9L442.9 279.1L443.8 278.4L444.7 277.6L445.6 276.7L446.5 275.9L447.4 275.0L448.3 274.1L449.2 273.2L450.1 272.3L451.1 271.3L452.0 270.3L452.9 269.2L453.8 268.2L454.7 267.0L455.6 265.9L456.5 264.7L457.4 263.4L458.3 262.1L459.2 260.7L460.1 259.2L461.0 257.8L461.9 256.2L462.8 254.6L463.8 253.0L464.7 251.3L465.6 249.5L466.5 247.7L467.4 245.9L468.3 244.0L469.2 241.9L470.1 239.6L471.0 237.1L471.9 234.5L472.8 231.7L473.7 228.8L474.6 226.0L475.5 223.2L476.5 220.5L477.4 217.9L478.3 215.6L479.2 213.3L480.1 211.1L481.0 209.0L481.9 206.8L482.8 204.8L483.7 202.7L484.6 200.6L485.5 198.5L486.4 196.4L487.3 194.4L488.2 192.5L489.1 190.6L490.1 188.8L491.0 187.3L491.9 186.0L492.8 185.1L493.7 184.5L494.6 184.3L495.5 184.6L496.4 185.3L497.3 186.4L498.2 188.0L499.1 189.6L500.0 191.4L500.9 193.5L501.8 196.0L502.8 199.0L503.7 202.5L504.6 206.6L505.5 212.0L506.4 217.4L507.3 221.6L508.2 225.2L509.1 228.7L510.0 232.2L510.9 235.7L511.8 239.1L512.7 242.5L513.6 245.9L514.5 249.3L515.4 252.7L516.4 256.2L517.3 259.7L518.2 263.1L519.1 266.6L520.0 270.0L520.9 273.3L521.8 276.4L522.7 279.2L523.6 281.9L524.5 284.4L525.4 286.7L526.3 288.7L527.2 290.5L528.1 292.3L529.1 293.8L530.0 295.2L530.9 296.7L531.8 298.0L532.7 299.1L533.6 300.1L534.5 301.0L535.4 301.6L536.3 302.2L537.2 302.8L538.1 303.3L539.0 303.7L539.9 304.1L540.8 304.4L541.8 304.6L542.7 304.8L543.6 305.0L544.5 305.1L545.4 305.2L546.3 305.3L547.2 305.4L548.1 305.5L549.0 305.6L549.9 305.6L550.8 305.7L551.7 305.8L552.6 305.8L553.5 305.9L554.4 305.9L555.4 306.0L556.3 306.0L557.2 306.0L558.1 306.1L559.0 306.1L559.9 306.1L560.8 306.1L561.7 306.1L562.6 306.1L563.5 306.2L564.4 306.2L565.3 306.2L566.2 306.2L567.1 306.2L568.1 306.2L569.0 306.2L569.9 306.2L570.8 306.3L571.7 306.3L572.6 306.3L573.5 306.3L574.4 306.3L575.3 306.3L576.2 306.3L577.1 306.3L578.0 306.3L578.9 306.3L579.8 306.3L580.7 306.3L581.7 306.3L582.6 306.3L583.5 306.3L584.4 306.3L585.3 306.3L586.2 306.3L587.1 306.3L588.0 306.3L588.9 306.3L589.8 306.3L590.7 306.3L591.6 306.3L592.5 306.3L593.4 306.3L594.4 306.3L595.3 306.3L596.2 306.3L597.1 306.3L598.0 306.3L598.9 306.3L599.8 306.3L600.7 306.3L601.6 306.3L602.5 306.3L603.4 306.3L604.3 306.3L605.2 306.3L606.1 306.3L607.1 306.3L608.0 306.3L608.9 306.3L609.8 306.3L610.7 306.3L611.6 306.3L612.5 306.3L613.4 306.3" fill="none" stroke="#111111" stroke-width="1.30"/><rect x="375.60" y="1.60" width="243.80" height="307.70" fill="none" stroke="#5a5a5a" stroke-width="1.30"/><line x1="375.60" y1="169.60" x2="619.40" y2="169.60" stroke="#5a5a5a" stroke-width="1.30" /><line x1="383.73" y1="309.30" x2="383.73" y2="307.10" stroke="#5a5a5a" stroke-width="1.00" /><line x1="383.73" y1="1.60" x2="383.73" y2="3.80" stroke="#5a5a5a" stroke-width="1.00" /><line x1="383.73" y1="169.60" x2="383.73" y2="167.40" stroke="#5a5a5a" stroke-width="1.00" /><line x1="383.73" y1="169.60" x2="383.73" y2="170.92" stroke="#5a5a5a" stroke-width="1.00" /><line x1="391.85" y1="309.30" x2="391.85" y2="307.10" stroke="#5a5a5a" stroke-width="1.00" /><line x1="391.85" y1="1.60" x2="391.85" y2="3.80" stroke="#5a5a5a" stroke-width="1.00" /><line x1="391.85" y1="169.60" x2="391.85" y2="167.40" stroke="#5a5a5a" stroke-width="1.00" /><line x1="391.85" y1="169.60" x2="391.85" y2="170.92" stroke="#5a5a5a" stroke-width="1.00" /><line x1="399.98" y1="309.30" x2="399.98" y2="307.10" stroke="#5a5a5a" stroke-width="1.00" /><line x1="399.98" y1="1.60" x2="399.98" y2="3.80" stroke="#5a5a5a" stroke-width="1.00" /><line x1="399.98" y1="169.60" x2="399.98" y2="167.40" stroke="#5a5a5a" stroke-width="1.00" /><line x1="399.98" y1="169.60" x2="399.98" y2="170.92" stroke="#5a5a5a" stroke-width="1.00" /><line x1="408.11" y1="309.30" x2="408.11" y2="307.10" stroke="#5a5a5a" stroke-width="1.00" /><line x1="408.11" y1="1.60" x2="408.11" y2="3.80" stroke="#5a5a5a" stroke-width="1.00" /><line x1="408.11" y1="169.60" x2="408.11" y2="167.40" stroke="#5a5a5a" stroke-width="1.00" /><line x1="408.11" y1="169.60" x2="408.11" y2="170.92" stroke="#5a5a5a" stroke-width="1.00" /><line x1="416.23" y1="309.30" x2="416.23" y2="305.30" stroke="#5a5a5a" stroke-width="1.00" /><line x1="416.23" y1="1.60" x2="416.23" y2="5.60" stroke="#5a5a5a" stroke-width="1.00" /><line x1="416.23" y1="169.60" x2="416.23" y2="165.60" stroke="#5a5a5a" stroke-width="1.00" /><line x1="416.23" y1="169.60" x2="416.23" y2="172.00" stroke="#5a5a5a" stroke-width="1.00" /><line x1="424.36" y1="309.30" x2="424.36" y2="307.10" stroke="#5a5a5a" stroke-width="1.00" /><line x1="424.36" y1="1.60" x2="424.36" y2="3.80" stroke="#5a5a5a" stroke-width="1.00" /><line x1="424.36" y1="169.60" x2="424.36" y2="167.40" stroke="#5a5a5a" stroke-width="1.00" /><line x1="424.36" y1="169.60" x2="424.36" y2="170.92" stroke="#5a5a5a" stroke-width="1.00" /><line x1="432.49" y1="309.30" x2="432.49" y2="307.10" stroke="#5a5a5a" stroke-width="1.00" /><line x1="432.49" y1="1.60" x2="432.49" y2="3.80" stroke="#5a5a5a" stroke-width="1.00" /><line x1="432.49" y1="169.60" x2="432.49" y2="167.40" stroke="#5a5a5a" stroke-width="1.00" /><line x1="432.49" y1="169.60" x2="432.49" y2="170.92" stroke="#5a5a5a" stroke-width="1.00" /><line x1="440.61" y1="309.30" x2="440.61" y2="307.10" stroke="#5a5a5a" stroke-width="1.00" /><line x1="440.61" y1="1.60" x2="440.61" y2="3.80" stroke="#5a5a5a" stroke-width="1.00" /><line x1="440.61" y1="169.60" x2="440.61" y2="167.40" stroke="#5a5a5a" stroke-width="1.00" /><line x1="440.61" y1="169.60" x2="440.61" y2="170.92" stroke="#5a5a5a" stroke-width="1.00" /><line x1="448.74" y1="309.30" x2="448.74" y2="307.10" stroke="#5a5a5a" stroke-width="1.00" /><line x1="448.74" y1="1.60" x2="448.74" y2="3.80" stroke="#5a5a5a" stroke-width="1.00" /><line x1="448.74" y1="169.60" x2="448.74" y2="167.40" stroke="#5a5a5a" stroke-width="1.00" /><line x1="448.74" y1="169.60" x2="448.74" y2="170.92" stroke="#5a5a5a" stroke-width="1.00" /><line x1="456.87" y1="309.30" x2="456.87" y2="305.30" stroke="#5a5a5a" stroke-width="1.00" /><line x1="456.87" y1="1.60" x2="456.87" y2="5.60" stroke="#5a5a5a" stroke-width="1.00" /><line x1="456.87" y1="169.60" x2="456.87" y2="165.60" stroke="#5a5a5a" stroke-width="1.00" /><line x1="456.87" y1="169.60" x2="456.87" y2="172.00" stroke="#5a5a5a" stroke-width="1.00" /><line x1="464.99" y1="309.30" x2="464.99" y2="307.10" stroke="#5a5a5a" stroke-width="1.00" /><line x1="464.99" y1="1.60" x2="464.99" y2="3.80" stroke="#5a5a5a" stroke-width="1.00" /><line x1="464.99" y1="169.60" x2="464.99" y2="167.40" stroke="#5a5a5a" stroke-width="1.00" /><line x1="464.99" y1="169.60" x2="464.99" y2="170.92" stroke="#5a5a5a" stroke-width="1.00" /><line x1="473.12" y1="309.30" x2="473.12" y2="307.10" stroke="#5a5a5a" stroke-width="1.00" /><line x1="473.12" y1="1.60" x2="473.12" y2="3.80" stroke="#5a5a5a" stroke-width="1.00" /><line x1="473.12" y1="169.60" x2="473.12" y2="167.40" stroke="#5a5a5a" stroke-width="1.00" /><line x1="473.12" y1="169.60" x2="473.12" y2="170.92" stroke="#5a5a5a" stroke-width="1.00" /><line x1="481.25" y1="309.30" x2="481.25" y2="307.10" stroke="#5a5a5a" stroke-width="1.00" /><line x1="481.25" y1="1.60" x2="481.25" y2="3.80" stroke="#5a5a5a" stroke-width="1.00" /><line x1="481.25" y1="169.60" x2="481.25" y2="167.40" stroke="#5a5a5a" stroke-width="1.00" /><line x1="481.25" y1="169.60" x2="481.25" y2="170.92" stroke="#5a5a5a" stroke-width="1.00" /><line x1="489.37" y1="309.30" x2="489.37" y2="307.10" stroke="#5a5a5a" stroke-width="1.00" /><line x1="489.37" y1="1.60" x2="489.37" y2="3.80" stroke="#5a5a5a" stroke-width="1.00" /><line x1="489.37" y1="169.60" x2="489.37" y2="167.40" stroke="#5a5a5a" stroke-width="1.00" /><line x1="489.37" y1="169.60" x2="489.37" y2="170.92" stroke="#5a5a5a" stroke-width="1.00" /><line x1="497.50" y1="309.30" x2="497.50" y2="305.30" stroke="#5a5a5a" stroke-width="1.00" /><line x1="497.50" y1="1.60" x2="497.50" y2="5.60" stroke="#5a5a5a" stroke-width="1.00" /><line x1="497.50" y1="169.60" x2="497.50" y2="165.60" stroke="#5a5a5a" stroke-width="1.00" /><line x1="497.50" y1="169.60" x2="497.50" y2="172.00" stroke="#5a5a5a" stroke-width="1.00" /><line x1="505.63" y1="309.30" x2="505.63" y2="307.10" stroke="#5a5a5a" stroke-width="1.00" /><line x1="505.63" y1="1.60" x2="505.63" y2="3.80" stroke="#5a5a5a" stroke-width="1.00" /><line x1="505.63" y1="169.60" x2="505.63" y2="167.40" stroke="#5a5a5a" stroke-width="1.00" /><line x1="505.63" y1="169.60" x2="505.63" y2="170.92" stroke="#5a5a5a" stroke-width="1.00" /><line x1="513.75" y1="309.30" x2="513.75" y2="307.10" stroke="#5a5a5a" stroke-width="1.00" /><line x1="513.75" y1="1.60" x2="513.75" y2="3.80" stroke="#5a5a5a" stroke-width="1.00" /><line x1="513.75" y1="169.60" x2="513.75" y2="167.40" stroke="#5a5a5a" stroke-width="1.00" /><line x1="513.75" y1="169.60" x2="513.75" y2="170.92" stroke="#5a5a5a" stroke-width="1.00" /><line x1="521.88" y1="309.30" x2="521.88" y2="307.10" stroke="#5a5a5a" stroke-width="1.00" /><line x1="521.88" y1="1.60" x2="521.88" y2="3.80" stroke="#5a5a5a" stroke-width="1.00" /><line x1="521.88" y1="169.60" x2="521.88" y2="167.40" stroke="#5a5a5a" stroke-width="1.00" /><line x1="521.88" y1="169.60" x2="521.88" y2="170.92" stroke="#5a5a5a" stroke-width="1.00" /><line x1="530.01" y1="309.30" x2="530.01" y2="307.10" stroke="#5a5a5a" stroke-width="1.00" /><line x1="530.01" y1="1.60" x2="530.01" y2="3.80" stroke="#5a5a5a" stroke-width="1.00" /><line x1="530.01" y1="169.60" x2="530.01" y2="167.40" stroke="#5a5a5a" stroke-width="1.00" /><line x1="530.01" y1="169.60" x2="530.01" y2="170.92" stroke="#5a5a5a" stroke-width="1.00" /><line x1="538.13" y1="309.30" x2="538.13" y2="305.30" stroke="#5a5a5a" stroke-width="1.00" /><line x1="538.13" y1="1.60" x2="538.13" y2="5.60" stroke="#5a5a5a" stroke-width="1.00" /><line x1="538.13" y1="169.60" x2="538.13" y2="165.60" stroke="#5a5a5a" stroke-width="1.00" /><line x1="538.13" y1="169.60" x2="538.13" y2="172.00" stroke="#5a5a5a" stroke-width="1.00" /><line x1="546.26" y1="309.30" x2="546.26" y2="307.10" stroke="#5a5a5a" stroke-width="1.00" /><line x1="546.26" y1="1.60" x2="546.26" y2="3.80" stroke="#5a5a5a" stroke-width="1.00" /><line x1="546.26" y1="169.60" x2="546.26" y2="167.40" stroke="#5a5a5a" stroke-width="1.00" /><line x1="546.26" y1="169.60" x2="546.26" y2="170.92" stroke="#5a5a5a" stroke-width="1.00" /><line x1="554.39" y1="309.30" x2="554.39" y2="307.10" stroke="#5a5a5a" stroke-width="1.00" /><line x1="554.39" y1="1.60" x2="554.39" y2="3.80" stroke="#5a5a5a" stroke-width="1.00" /><line x1="554.39" y1="169.60" x2="554.39" y2="167.40" stroke="#5a5a5a" stroke-width="1.00" /><line x1="554.39" y1="169.60" x2="554.39" y2="170.92" stroke="#5a5a5a" stroke-width="1.00" /><line x1="562.51" y1="309.30" x2="562.51" y2="307.10" stroke="#5a5a5a" stroke-width="1.00" /><line x1="562.51" y1="1.60" x2="562.51" y2="3.80" stroke="#5a5a5a" stroke-width="1.00" /><line x1="562.51" y1="169.60" x2="562.51" y2="167.40" stroke="#5a5a5a" stroke-width="1.00" /><line x1="562.51" y1="169.60" x2="562.51" y2="170.92" stroke="#5a5a5a" stroke-width="1.00" /><line x1="570.64" y1="309.30" x2="570.64" y2="307.10" stroke="#5a5a5a" stroke-width="1.00" /><line x1="570.64" y1="1.60" x2="570.64" y2="3.80" stroke="#5a5a5a" stroke-width="1.00" /><line x1="570.64" y1="169.60" x2="570.64" y2="167.40" stroke="#5a5a5a" stroke-width="1.00" /><line x1="570.64" y1="169.60" x2="570.64" y2="170.92" stroke="#5a5a5a" stroke-width="1.00" /><line x1="578.77" y1="309.30" x2="578.77" y2="305.30" stroke="#5a5a5a" stroke-width="1.00" /><line x1="578.77" y1="1.60" x2="578.77" y2="5.60" stroke="#5a5a5a" stroke-width="1.00" /><line x1="578.77" y1="169.60" x2="578.77" y2="165.60" stroke="#5a5a5a" stroke-width="1.00" /><line x1="578.77" y1="169.60" x2="578.77" y2="172.00" stroke="#5a5a5a" stroke-width="1.00" /><line x1="586.89" y1="309.30" x2="586.89" y2="307.10" stroke="#5a5a5a" stroke-width="1.00" /><line x1="586.89" y1="1.60" x2="586.89" y2="3.80" stroke="#5a5a5a" stroke-width="1.00" /><line x1="586.89" y1="169.60" x2="586.89" y2="167.40" stroke="#5a5a5a" stroke-width="1.00" /><line x1="586.89" y1="169.60" x2="586.89" y2="170.92" stroke="#5a5a5a" stroke-width="1.00" /><line x1="595.02" y1="309.30" x2="595.02" y2="307.10" stroke="#5a5a5a" stroke-width="1.00" /><line x1="595.02" y1="1.60" x2="595.02" y2="3.80" stroke="#5a5a5a" stroke-width="1.00" /><line x1="595.02" y1="169.60" x2="595.02" y2="167.40" stroke="#5a5a5a" stroke-width="1.00" /><line x1="595.02" y1="169.60" x2="595.02" y2="170.92" stroke="#5a5a5a" stroke-width="1.00" /><line x1="603.15" y1="309.30" x2="603.15" y2="307.10" stroke="#5a5a5a" stroke-width="1.00" /><line x1="603.15" y1="1.60" x2="603.15" y2="3.80" stroke="#5a5a5a" stroke-width="1.00" /><line x1="603.15" y1="169.60" x2="603.15" y2="167.40" stroke="#5a5a5a" stroke-width="1.00" /><line x1="603.15" y1="169.60" x2="603.15" y2="170.92" stroke="#5a5a5a" stroke-width="1.00" /><line x1="611.27" y1="309.30" x2="611.27" y2="307.10" stroke="#5a5a5a" stroke-width="1.00" /><line x1="611.27" y1="1.60" x2="611.27" y2="3.80" stroke="#5a5a5a" stroke-width="1.00" /><line x1="611.27" y1="169.60" x2="611.27" y2="167.40" stroke="#5a5a5a" stroke-width="1.00" /><line x1="611.27" y1="169.60" x2="611.27" y2="170.92" stroke="#5a5a5a" stroke-width="1.00" /><line x1="375.60" y1="159.20" x2="379.60" y2="159.20" stroke="#5a5a5a" stroke-width="1.00" /><line x1="619.40" y1="159.20" x2="615.40" y2="159.20" stroke="#5a5a5a" stroke-width="1.00" /><line x1="375.60" y1="148.64" x2="377.80" y2="148.64" stroke="#5a5a5a" stroke-width="1.00" /><line x1="619.40" y1="148.64" x2="617.20" y2="148.64" stroke="#5a5a5a" stroke-width="1.00" /><line x1="375.60" y1="138.08" x2="379.60" y2="138.08" stroke="#5a5a5a" stroke-width="1.00" /><line x1="619.40" y1="138.08" x2="615.40" y2="138.08" stroke="#5a5a5a" stroke-width="1.00" /><line x1="375.60" y1="127.52" x2="377.80" y2="127.52" stroke="#5a5a5a" stroke-width="1.00" /><line x1="619.40" y1="127.52" x2="617.20" y2="127.52" stroke="#5a5a5a" stroke-width="1.00" /><line x1="375.60" y1="116.96" x2="379.60" y2="116.96" stroke="#5a5a5a" stroke-width="1.00" /><line x1="619.40" y1="116.96" x2="615.40" y2="116.96" stroke="#5a5a5a" stroke-width="1.00" /><line x1="375.60" y1="106.40" x2="377.80" y2="106.40" stroke="#5a5a5a" stroke-width="1.00" /><line x1="619.40" y1="106.40" x2="617.20" y2="106.40" stroke="#5a5a5a" stroke-width="1.00" /><line x1="375.60" y1="95.84" x2="379.60" y2="95.84" stroke="#5a5a5a" stroke-width="1.00" /><line x1="619.40" y1="95.84" x2="615.40" y2="95.84" stroke="#5a5a5a" stroke-width="1.00" /><line x1="375.60" y1="85.28" x2="377.80" y2="85.28" stroke="#5a5a5a" stroke-width="1.00" /><line x1="619.40" y1="85.28" x2="617.20" y2="85.28" stroke="#5a5a5a" stroke-width="1.00" /><line x1="375.60" y1="74.72" x2="379.60" y2="74.72" stroke="#5a5a5a" stroke-width="1.00" /><line x1="619.40" y1="74.72" x2="615.40" y2="74.72" stroke="#5a5a5a" stroke-width="1.00" /><line x1="375.60" y1="64.16" x2="377.80" y2="64.16" stroke="#5a5a5a" stroke-width="1.00" /><line x1="619.40" y1="64.16" x2="617.20" y2="64.16" stroke="#5a5a5a" stroke-width="1.00" /><line x1="375.60" y1="53.60" x2="379.60" y2="53.60" stroke="#5a5a5a" stroke-width="1.00" /><line x1="619.40" y1="53.60" x2="615.40" y2="53.60" stroke="#5a5a5a" stroke-width="1.00" /><line x1="375.60" y1="43.04" x2="377.80" y2="43.04" stroke="#5a5a5a" stroke-width="1.00" /><line x1="619.40" y1="43.04" x2="617.20" y2="43.04" stroke="#5a5a5a" stroke-width="1.00" /><line x1="375.60" y1="32.48" x2="379.60" y2="32.48" stroke="#5a5a5a" stroke-width="1.00" /><line x1="619.40" y1="32.48" x2="615.40" y2="32.48" stroke="#5a5a5a" stroke-width="1.00" /><line x1="375.60" y1="21.92" x2="377.80" y2="21.92" stroke="#5a5a5a" stroke-width="1.00" /><line x1="619.40" y1="21.92" x2="617.20" y2="21.92" stroke="#5a5a5a" stroke-width="1.00" /><line x1="375.60" y1="11.36" x2="379.60" y2="11.36" stroke="#5a5a5a" stroke-width="1.00" /><line x1="619.40" y1="11.36" x2="615.40" y2="11.36" stroke="#5a5a5a" stroke-width="1.00" /><line x1="375.60" y1="306.90" x2="379.60" y2="306.90" stroke="#5a5a5a" stroke-width="1.00" /><line x1="619.40" y1="306.90" x2="615.40" y2="306.90" stroke="#5a5a5a" stroke-width="1.00" /><line x1="375.60" y1="294.44" x2="377.80" y2="294.44" stroke="#5a5a5a" stroke-width="1.00" /><line x1="619.40" y1="294.44" x2="617.20" y2="294.44" stroke="#5a5a5a" stroke-width="1.00" /><line x1="375.60" y1="281.98" x2="379.60" y2="281.98" stroke="#5a5a5a" stroke-width="1.00" /><line x1="619.40" y1="281.98" x2="615.40" y2="281.98" stroke="#5a5a5a" stroke-width="1.00" /><line x1="375.60" y1="269.52" x2="377.80" y2="269.52" stroke="#5a5a5a" stroke-width="1.00" /><line x1="619.40" y1="269.52" x2="617.20" y2="269.52" stroke="#5a5a5a" stroke-width="1.00" /><line x1="375.60" y1="257.06" x2="379.60" y2="257.06" stroke="#5a5a5a" stroke-width="1.00" /><line x1="619.40" y1="257.06" x2="615.40" y2="257.06" stroke="#5a5a5a" stroke-width="1.00" /><line x1="375.60" y1="244.60" x2="377.80" y2="244.60" stroke="#5a5a5a" stroke-width="1.00" /><line x1="619.40" y1="244.60" x2="617.20" y2="244.60" stroke="#5a5a5a" stroke-width="1.00" /><line x1="375.60" y1="232.14" x2="379.60" y2="232.14" stroke="#5a5a5a" stroke-width="1.00" /><line x1="619.40" y1="232.14" x2="615.40" y2="232.14" stroke="#5a5a5a" stroke-width="1.00" /><line x1="375.60" y1="219.68" x2="377.80" y2="219.68" stroke="#5a5a5a" stroke-width="1.00" /><line x1="619.40" y1="219.68" x2="617.20" y2="219.68" stroke="#5a5a5a" stroke-width="1.00" /><line x1="375.60" y1="207.22" x2="379.60" y2="207.22" stroke="#5a5a5a" stroke-width="1.00" /><line x1="619.40" y1="207.22" x2="615.40" y2="207.22" stroke="#5a5a5a" stroke-width="1.00" /><line x1="375.60" y1="194.76" x2="377.80" y2="194.76" stroke="#5a5a5a" stroke-width="1.00" /><line x1="619.40" y1="194.76" x2="617.20" y2="194.76" stroke="#5a5a5a" stroke-width="1.00" /><line x1="375.60" y1="182.30" x2="379.60" y2="182.30" stroke="#5a5a5a" stroke-width="1.00" /><line x1="619.40" y1="182.30" x2="615.40" y2="182.30" stroke="#5a5a5a" stroke-width="1.00" /><text x="370.60" y="163.10" font-size="12.90" text-anchor="end" fill="#111" >0.00</text><text x="370.60" y="141.98" font-size="12.90" text-anchor="end" fill="#111" >0.01</text><text x="370.60" y="120.86" font-size="12.90" text-anchor="end" fill="#111" >0.02</text><text x="370.60" y="99.74" font-size="12.90" text-anchor="end" fill="#111" >0.03</text><text x="370.60" y="78.62" font-size="12.90" text-anchor="end" fill="#111" >0.04</text><text x="370.60" y="57.50" font-size="12.90" text-anchor="end" fill="#111" >0.05</text><text x="370.60" y="36.38" font-size="12.90" text-anchor="end" fill="#111" >0.06</text><text x="370.60" y="15.26" font-size="12.90" text-anchor="end" fill="#111" >0.07</text><text x="370.60" y="310.80" font-size="12.90" text-anchor="end" fill="#111" >0.000</text><text x="370.60" y="285.88" font-size="12.90" text-anchor="end" fill="#111" >0.001</text><text x="370.60" y="260.96" font-size="12.90" text-anchor="end" fill="#111" >0.002</text><text x="370.60" y="236.04" font-size="12.90" text-anchor="end" fill="#111" >0.003</text><text x="370.60" y="211.12" font-size="12.90" text-anchor="end" fill="#111" >0.004</text><text x="370.60" y="186.20" font-size="12.90" text-anchor="end" fill="#111" >0.005</text><text x="375.60" y="325.00" font-size="13.00" text-anchor="middle" fill="#111" >0</text><text x="416.23" y="325.00" font-size="13.00" text-anchor="middle" fill="#111" >50</text><text x="456.87" y="325.00" font-size="13.00" text-anchor="middle" fill="#111" >100</text><text x="497.50" y="325.00" font-size="13.00" text-anchor="middle" fill="#111" >150</text><text x="538.13" y="325.00" font-size="13.00" text-anchor="middle" fill="#111" >200</text><text x="578.77" y="325.00" font-size="13.00" text-anchor="middle" fill="#111" >250</text><text x="619.40" y="325.00" font-size="13.00" text-anchor="middle" fill="#111" >300</text><text x="519.60" y="344.30" font-size="13.00" text-anchor="middle" fill="#111" >T (K)</text><text transform="translate(334.0,85.7) rotate(-90)" font-size="13.2" text-anchor="middle" fill="#111">&#967;' (emu mol<tspan font-size="9" dy="-5">-1</tspan><tspan dy="5"> Oe</tspan><tspan font-size="9" dy="-5">-1</tspan><tspan dy="5">)</tspan></text><text transform="translate(326.0,250.8) rotate(-90)" font-size="13.3" text-anchor="middle" fill="#111">&#967;" (emu mol<tspan font-size="9" dy="-5">-1</tspan><tspan dy="5"> Oe</tspan><tspan font-size="9" dy="-5">-1</tspan><tspan dy="5">)</tspan></text><text x="387.50" y="20.50" font-size="17.00" text-anchor="start" fill="#111" >c)</text><text x="387.50" y="190.00" font-size="17.00" text-anchor="start" fill="#111" >d)</text><text x="518.70" y="20.60" font-size="12.50" fill="#111" text-anchor="start">Pb(Fe<tspan font-size="8.50" dy="5">1/2</tspan><tspan dy="-5">Sb</tspan><tspan font-size="8.50" dy="5">1/2</tspan><tspan dy="-5">)O</tspan><tspan font-size="8.50" dy="5">3</tspan></text><text x="443.90" y="31.80" font-size="9.90" text-anchor="start" fill="#111" >0.12 Hz</text><text x="487.00" y="81.50" font-size="9.90" text-anchor="start" fill="#111" >262.6 Hz</text><line x1="462.70" y1="34.90" x2="496.41" y2="65.13" stroke="#111" stroke-width="1.00" /><polygon points="500.50,68.80 494.87,66.84 497.94,63.42" fill="#111"/><text x="456.40" y="220.80" font-size="9.90" text-anchor="end" fill="#111" >0.12 Hz</text><text x="462.60" y="268.40" font-size="9.90" text-anchor="start" fill="#111" >262.6 Hz</text><line x1="444.30" y1="225.60" x2="473.19" y2="251.34" stroke="#111" stroke-width="1.00" /><polygon points="477.30,255.00 471.66,253.06 474.72,249.62" fill="#111"/><rect x="390.2" y="44.4" width="51.8" height="29.0" fill="#111"/><rect x="387.8" y="42.0" width="51.8" height="29.0" fill="#fff" stroke="#777" stroke-width="1"/><text x="390.3" y="62.5" font-size="15.2" fill="#111">&#964;=&#964;<tspan font-size="9" dy="4.5">0</tspan><tspan dy="-4.5">&#948;</tspan><tspan font-size="8.2" dy="-7.5">-z&#957;</tspan></text><text x="387.8" y="90.9" font-size="10.2" fill="#111">&#964;<tspan font-size="7" dy="3">0</tspan><tspan dy="-3">=2&#183;10</tspan><tspan font-size="7" dy="-5">-12</tspan><tspan dy="5"> s</tspan></text><text x="388.00" y="108.00" font-size="11.10" text-anchor="start" fill="#111" >z&#957;=10</text><line x1="499.00" y1="87.50" x2="499.00" y2="149.20" stroke="#444" stroke-width="1.00" /><line x1="499.00" y1="149.20" x2="561.70" y2="149.20" stroke="#444" stroke-width="1.00" /><line x1="499.00" y1="94.80" x2="502.00" y2="94.80" stroke="#444" stroke-width="0.90" /><line x1="499.00" y1="105.84" x2="500.60" y2="105.84" stroke="#444" stroke-width="0.60" /><line x1="499.00" y1="103.06" x2="500.60" y2="103.06" stroke="#444" stroke-width="0.60" /><line x1="499.00" y1="101.09" x2="500.60" y2="101.09" stroke="#444" stroke-width="0.60" /><line x1="499.00" y1="99.56" x2="500.60" y2="99.56" stroke="#444" stroke-width="0.60" /><line x1="499.00" y1="98.31" x2="500.60" y2="98.31" stroke="#444" stroke-width="0.60" /><line x1="499.00" y1="97.25" x2="500.60" y2="97.25" stroke="#444" stroke-width="0.60" /><line x1="499.00" y1="96.33" x2="500.60" y2="96.33" stroke="#444" stroke-width="0.60" /><line x1="499.00" y1="95.52" x2="500.60" y2="95.52" stroke="#444" stroke-width="0.60" /><line x1="499.00" y1="110.60" x2="502.00" y2="110.60" stroke="#444" stroke-width="0.90" /><line x1="499.00" y1="121.64" x2="500.60" y2="121.64" stroke="#444" stroke-width="0.60" /><line x1="499.00" y1="118.86" x2="500.60" y2="118.86" stroke="#444" stroke-width="0.60" /><line x1="499.00" y1="116.89" x2="500.60" y2="116.89" stroke="#444" stroke-width="0.60" /><line x1="499.00" y1="115.36" x2="500.60" y2="115.36" stroke="#444" stroke-width="0.60" /><line x1="499.00" y1="114.11" x2="500.60" y2="114.11" stroke="#444" stroke-width="0.60" /><line x1="499.00" y1="113.05" x2="500.60" y2="113.05" stroke="#444" stroke-width="0.60" /><line x1="499.00" y1="112.13" x2="500.60" y2="112.13" stroke="#444" stroke-width="0.60" /><line x1="499.00" y1="111.32" x2="500.60" y2="111.32" stroke="#444" stroke-width="0.60" /><line x1="499.00" y1="126.40" x2="502.00" y2="126.40" stroke="#444" stroke-width="0.90" /><line x1="499.00" y1="137.44" x2="500.60" y2="137.44" stroke="#444" stroke-width="0.60" /><line x1="499.00" y1="134.66" x2="500.60" y2="134.66" stroke="#444" stroke-width="0.60" /><line x1="499.00" y1="132.69" x2="500.60" y2="132.69" stroke="#444" stroke-width="0.60" /><line x1="499.00" y1="131.16" x2="500.60" y2="131.16" stroke="#444" stroke-width="0.60" /><line x1="499.00" y1="129.91" x2="500.60" y2="129.91" stroke="#444" stroke-width="0.60" /><line x1="499.00" y1="128.85" x2="500.60" y2="128.85" stroke="#444" stroke-width="0.60" /><line x1="499.00" y1="127.93" x2="500.60" y2="127.93" stroke="#444" stroke-width="0.60" /><line x1="499.00" y1="127.12" x2="500.60" y2="127.12" stroke="#444" stroke-width="0.60" /><line x1="499.00" y1="142.20" x2="502.00" y2="142.20" stroke="#444" stroke-width="0.90" /><line x1="499.00" y1="148.49" x2="500.60" y2="148.49" stroke="#444" stroke-width="0.60" /><line x1="499.00" y1="146.96" x2="500.60" y2="146.96" stroke="#444" stroke-width="0.60" /><line x1="499.00" y1="145.71" x2="500.60" y2="145.71" stroke="#444" stroke-width="0.60" /><line x1="499.00" y1="144.65" x2="500.60" y2="144.65" stroke="#444" stroke-width="0.60" /><line x1="499.00" y1="143.73" x2="500.60" y2="143.73" stroke="#444" stroke-width="0.60" /><line x1="499.00" y1="142.92" x2="500.60" y2="142.92" stroke="#444" stroke-width="0.60" /><line x1="505.81" y1="149.20" x2="505.81" y2="147.60" stroke="#444" stroke-width="0.80" /><line x1="516.24" y1="149.20" x2="516.24" y2="147.60" stroke="#444" stroke-width="0.80" /><line x1="525.60" y1="149.20" x2="525.60" y2="146.20" stroke="#444" stroke-width="0.80" /><line x1="533.88" y1="149.20" x2="533.88" y2="147.60" stroke="#444" stroke-width="0.80" /><line x1="541.07" y1="149.20" x2="541.07" y2="147.60" stroke="#444" stroke-width="0.80" /><line x1="547.19" y1="149.20" x2="547.19" y2="147.60" stroke="#444" stroke-width="0.80" /><line x1="552.24" y1="149.20" x2="552.24" y2="147.60" stroke="#444" stroke-width="0.80" /><line x1="556.20" y1="149.20" x2="556.20" y2="146.20" stroke="#444" stroke-width="0.80" /><text x="478.6" y="98.10" font-size="9.2" fill="#111">10<tspan font-size="6.5" dy="-4">0</tspan></text><text x="478.6" y="113.90" font-size="9.2" fill="#111">10<tspan font-size="6.5" dy="-4">-1</tspan></text><text x="478.6" y="129.70" font-size="9.2" fill="#111">10<tspan font-size="6.5" dy="-4">-2</tspan></text><text x="478.6" y="145.50" font-size="9.2" fill="#111">10<tspan font-size="6.5" dy="-4">-3</tspan></text><text x="494.30" y="159.60" font-size="9.00" text-anchor="middle" fill="#111" >0.07</text><text x="525.60" y="159.60" font-size="9.00" text-anchor="middle" fill="#111" >0.1</text><text x="556.20" y="159.60" font-size="9.00" text-anchor="middle" fill="#111" >0.15</text><text x="512.60" y="166.80" font-size="13.50" text-anchor="middle" fill="#111" >&#948;</text><text transform="translate(473.4,126.0) rotate(-90)" font-size="9.5" text-anchor="middle" fill="#111">&#964; (s)</text><line x1="499.70" y1="89.90" x2="558.00" y2="145.80" stroke="#2a3cb0" stroke-width="1.40" /><rect x="499.60" y="90.30" width="3.2" height="3.2" fill="#111"/><rect x="509.90" y="97.60" width="3.2" height="3.2" fill="#111"/><rect x="518.00" y="105.50" width="3.2" height="3.2" fill="#111"/><rect x="525.80" y="112.80" width="3.2" height="3.2" fill="#111"/><rect x="531.40" y="120.70" width="3.2" height="3.2" fill="#111"/><rect x="538.50" y="128.30" width="3.2" height="3.2" fill="#111"/><rect x="547.10" y="135.40" width="3.2" height="3.2" fill="#111"/><rect x="554.70" y="143.00" width="3.2" height="3.2" fill="#111"/></svg></body></html>
